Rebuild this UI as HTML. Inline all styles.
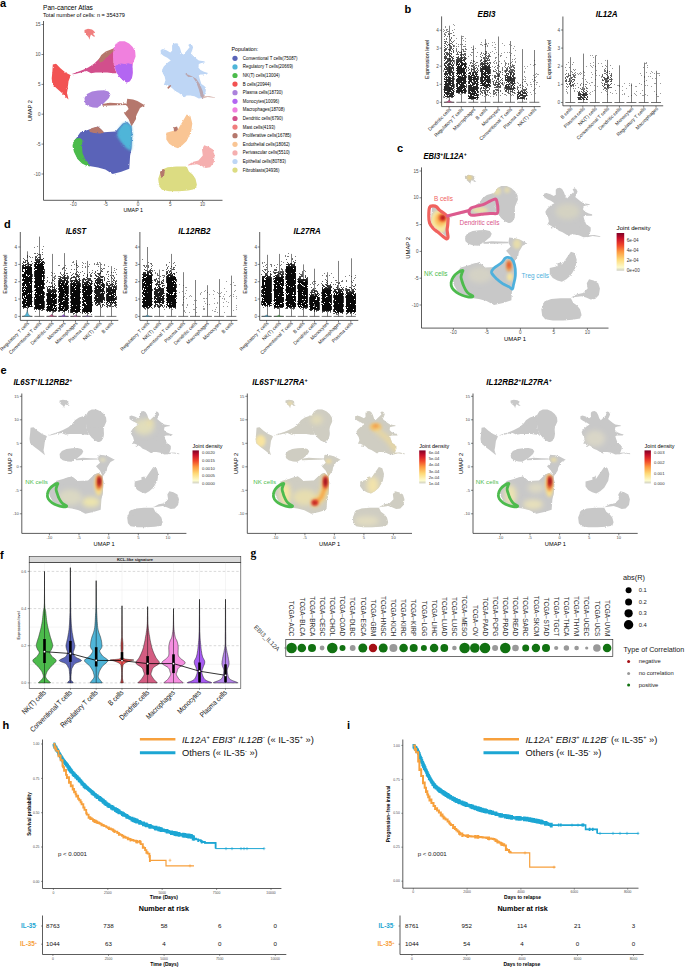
<!DOCTYPE html>
<html><head><meta charset="utf-8"><style>
html,body{margin:0;padding:0;background:#fff;}
svg{display:block;font-family:"Liberation Sans", sans-serif;}
</style></head><body>
<svg width="685" height="970" viewBox="0 0 685 970">
<rect width="685" height="970" fill="#fff"/>
<text x="0" y="6.7" font-size="11" font-weight="bold">a</text>
<text x="43" y="9.6" font-size="6.6" text-anchor="start" font-weight="normal" font-style="normal" fill="#000">Pan-cancer Atlas</text>
<text x="43" y="17.3" font-size="5.56" text-anchor="start" font-weight="normal" font-style="normal" fill="#000">Total number of cells: n = 354379</text>
<path d="M43.5 21V200.3H222.5" fill="none" stroke="#333" stroke-width="0.8"/>
<path d="M41.5 24.5 h2" stroke="#333" stroke-width="0.6"/>
<text x="40.5" y="26.1" font-size="4.6" text-anchor="end" font-weight="normal" font-style="normal" fill="#4d4d4d">15</text>
<path d="M41.5 54.5 h2" stroke="#333" stroke-width="0.6"/>
<text x="40.5" y="56.1" font-size="4.6" text-anchor="end" font-weight="normal" font-style="normal" fill="#4d4d4d">10</text>
<path d="M41.5 84.4 h2" stroke="#333" stroke-width="0.6"/>
<text x="40.5" y="86" font-size="4.6" text-anchor="end" font-weight="normal" font-style="normal" fill="#4d4d4d">5</text>
<path d="M41.5 114.2 h2" stroke="#333" stroke-width="0.6"/>
<text x="40.5" y="115.8" font-size="4.6" text-anchor="end" font-weight="normal" font-style="normal" fill="#4d4d4d">0</text>
<path d="M41.5 144.1 h2" stroke="#333" stroke-width="0.6"/>
<text x="40.5" y="145.7" font-size="4.6" text-anchor="end" font-weight="normal" font-style="normal" fill="#4d4d4d">-5</text>
<path d="M41.5 174 h2" stroke="#333" stroke-width="0.6"/>
<text x="40.5" y="175.6" font-size="4.6" text-anchor="end" font-weight="normal" font-style="normal" fill="#4d4d4d">-10</text>
<path d="M73.4 200.3 v2" stroke="#333" stroke-width="0.6"/>
<text x="73.4" y="206" font-size="4.6" text-anchor="middle" font-weight="normal" font-style="normal" fill="#4d4d4d">-10</text>
<path d="M105.7 200.3 v2" stroke="#333" stroke-width="0.6"/>
<text x="105.7" y="206" font-size="4.6" text-anchor="middle" font-weight="normal" font-style="normal" fill="#4d4d4d">-5</text>
<path d="M138 200.3 v2" stroke="#333" stroke-width="0.6"/>
<text x="138" y="206" font-size="4.6" text-anchor="middle" font-weight="normal" font-style="normal" fill="#4d4d4d">0</text>
<path d="M170.3 200.3 v2" stroke="#333" stroke-width="0.6"/>
<text x="170.3" y="206" font-size="4.6" text-anchor="middle" font-weight="normal" font-style="normal" fill="#4d4d4d">5</text>
<path d="M202.6 200.3 v2" stroke="#333" stroke-width="0.6"/>
<text x="202.6" y="206" font-size="4.6" text-anchor="middle" font-weight="normal" font-style="normal" fill="#4d4d4d">10</text>
<text x="133.2" y="211.5" font-size="5.3" text-anchor="middle" font-weight="normal" font-style="normal" fill="#000">UMAP 1</text>
<text x="32.5" y="110.6" font-size="5.6" text-anchor="middle" font-weight="normal" font-style="normal" fill="#000" transform="rotate(-90 32.5 110.6)">UMAP 2</text>
<defs><filter id="blurA" x="-50%" y="-50%" width="200%" height="200%"><feGaussianBlur stdDeviation="1.2"/></filter></defs>
<defs><filter id="rough" x="-5%" y="-5%" width="110%" height="110%"><feTurbulence type="fractalNoise" baseFrequency="0.9" numOctaves="2" seed="4" result="n"/><feDisplacementMap in="SourceGraphic" in2="n" scale="2.2" xChannelSelector="R" yChannelSelector="G"/></filter></defs>
<g filter="url(#rough)"><path d="M84.5 30 88 28.8 92 29.5 94.5 31.5 93 34 95.5 36.5 93.5 36.5 91 34.5 90 37 89.5 39.7 88.5 37 86 34.5 84.5 32.5Z" fill="#f07e7e"/><path d="M52.8 64.5 56.1 63.8 60.4 68.2 65.5 72.6 69.9 74.7 70.7 75.5 68.5 81.3 67.7 88.6 67 93 68.5 99.6 66.3 97.4 61.9 93 56.8 88.6 52.4 84.2 51.7 78.4 52.4 71.1Z" fill="#f25252"/><path d="M71.4 74.3 78 71.8 83.8 69.6 88.2 67.4 94 63.8 98.4 59.4 102.8 55 108.6 51.4 113.7 48.5 113.7 63.8 115.2 69.6 116.6 73.3 113 73.3 107.2 72.6 101.3 72.6 95.5 72.6 91.1 73.3 86.7 71.1 80.9 72.6 75 74Z" fill="#d2508c"/><path d="M98.4 60.1 101.3 55 105.7 51.4 111.5 49.2 114.2 48 113.7 51.4 109.3 55 105.7 58.2 102.8 61.6 99.9 62.6Z" fill="#b5776c"/><path d="M113.7 47.7 115.9 43.4 119.6 41.2 124.7 41.2 129.1 43.4 132.7 47 135.2 51.4 135.6 56.5 133.4 62.3 132.3 66.7 132.7 72.6 132 77.7 129.8 81.3 126.9 82.5 123.2 80.6 119.6 76.9 116.6 72.6 114.5 68.2 113.7 63.8 113 56.5Z" fill="#f080de"/><path d="M114.7 66.4 117.4 64.5 121 63.5 124.7 64.1 128.3 63.2 132.3 64.5 132.7 72.6 132 77.7 129.8 81.3 126.9 82.5 123.2 80.6 119.6 76.9 116.6 72.6Z" fill="#b366f2"/><path d="M84.5 98 87 94 92 91.5 98 90.5 104 90.2 108.5 91.5 110.4 94.5 109 98 106 101 103 104 99 106.5 97.5 107.8 93 107.5 88 106 85 103Z" fill="#ab82dc"/><path d="M102.3 104 110 102.8 118 103.2 126 103.5 126.4 105 118 105.3 110 105.6 102.5 105.8Z" fill="#b5776c"/><path d="M127.2 98.8 133 99.5 137.4 100.9 144.7 105.3 140 108 138.8 110.4 136.5 115 135.9 119.2 133 124 131.5 126.5 128.6 119.2 124.2 113.4 128.6 109 126.4 104.6Z" fill="#b5776c"/><path d="M80.4 132.3 89.2 129.4 98 126.5 103.8 132.3 115.5 131.6 122.8 123.6 127.2 122.1 131.5 126.5 132.3 133.8 131.5 148.4 130.1 155.7 129.3 168.8 121.3 171.8 112.6 173.9 105.3 169.6 98 167.4 89.2 165.9 83.4 163.7 77.5 158.6 73.1 146.9 74.6 140.4Z" fill="#5a64b8"/><path d="M73.5 141 76 138.5 80 138 82.5 140 82 146 82.5 153 85 159 89 164 90 166.5 86 165.5 82 163.5 77.5 159 74 152 72.5 146Z" fill="#4cbb4c"/><path d="M118 130 122.8 123.6 127.2 122.1 131.5 126.5 132.3 133.8 131.8 145 131 151 126 148 121 142 117 136Z" fill="#4fb5d8" filter="url(#blurA)"/><path d="M89 130 92 128 98 126.5 102 130 104 132.5 100 133.5 94 133 90 132Z" fill="#b5776c"/><path d="M160.7 49.9 162.9 49 166.4 50.3 170.3 52.5 172.1 50.8 172.1 45.5 173.4 43.8 176 43.3 178.2 44.6 180 48.1 181.3 52.5 183 55.1 185.2 52.5 187.8 49.5 189.6 47.3 188.3 45.1 190 43.8 191.8 44.6 193.1 47.3 192.2 50.3 190.9 53.4 193.5 56 196.2 58.6 198.8 60.4 204 61.3 205.4 62.2 201.4 63 198.8 63.9 198.4 67.4 200.5 70 204 71.8 208 73.1 206.7 74.4 200.5 74.4 198.8 75.3 199.7 78.8 201.4 84 204 85.8 205.8 87.6 205.8 91.1 204.5 95.4 202.3 98.1 198.8 98.5 194.4 96.3 190 95.4 186.5 95.4 184.8 97.2 182.2 95.4 178.6 92.8 175.1 91.1 172.5 88.4 170.3 86.7 166.4 84.9 163.8 84.9 165.5 80.5 164.6 76.2 162.9 73.5 162 70 163.8 66.5 166.4 63.9 168.1 62.2 170.8 60.4 167.3 57.8 163.8 56 160.7 53.4Z" fill="#bed6f5"/><path d="M184.8 73.5 186.5 74 191.8 76.2 196.2 78.8 199.7 84 202.7 91.1 204 96.3 209.3 95.9 215 97.4 215 98.1 207.6 97 202.7 98.5 200.5 96.3 197.9 91.1 194.4 84 191.8 80.5 190 77.9 187.4 76.2Z" fill="#b5776c" fill-opacity="0.5"/><path d="M188.3 77 192.7 77 196.2 82.3 198.8 89.3 200.5 95.4 198.8 96.3 196.2 91.1 193.5 84 190 80.5Z" fill="#bed6f5"/><path d="M167.3 87.6 169.5 85.4 171.2 84.9 170.3 87.1 168.1 88.9Z" fill="#b5776c"/><path d="M166.3 132.8 173.6 130.7 178 129.2 182.3 121.9 186.7 114.6 190.4 116.1 192.3 123.4 191.1 132.1 186.7 140.9 182.3 145.3 178 148.2 173.6 146.7 169.2 143.8 166.3 139.4Z" fill="#f9c594"/><path d="M204.2 145.3 208.6 146.7 213 149.6 214.7 155.5 213.7 162.8 210.1 167.2 205.7 167.9 201.3 165.7 196.9 164.2 191.1 165 186.7 165.7 192.6 162 198.4 160.6 202.8 155.5 202 149.6Z" fill="#f5afaf"/><path d="M161.2 170.1 167.7 167.2 176.5 166.4 186.7 166.4 188.9 171.5 192.6 174.5 195.5 178.8 196.9 184.7 195.5 189.1 188.2 190.5 179.4 191.2 169.2 191.2 161.9 189.8 159 186.1 158.2 178.8Z" fill="#dcdc82"/><path d="M160 172 163 169 165 170 164 176 161 178Z" fill="#b5776c"/><path d="M173.6 127.5 177 126.5 178 129.2 176 131.5 174 131Z" fill="#b5776c"/></g>
<text x="231.4" y="51" font-size="5.4" text-anchor="start" font-weight="normal" font-style="normal" fill="#000">Population:</text>
<circle cx="235" cy="58.3" r="2.6" fill="#5a64b8"/>
<text x="242.8" y="59.8" font-size="4.42" text-anchor="start" font-weight="normal" font-style="normal" fill="#000">Conventional T cells(75087)</text>
<circle cx="235" cy="66.9" r="2.6" fill="#4fb5d8"/>
<text x="242.8" y="68.4" font-size="4.42" text-anchor="start" font-weight="normal" font-style="normal" fill="#000">Regulatory T cells(20669)</text>
<circle cx="235" cy="75.5" r="2.6" fill="#4cbb4c"/>
<text x="242.8" y="77" font-size="4.42" text-anchor="start" font-weight="normal" font-style="normal" fill="#000">NK(T) cells(13004)</text>
<circle cx="235" cy="84.1" r="2.6" fill="#f25252"/>
<text x="242.8" y="85.6" font-size="4.42" text-anchor="start" font-weight="normal" font-style="normal" fill="#000">B cells(20944)</text>
<circle cx="235" cy="92.7" r="2.6" fill="#ab82dc"/>
<text x="242.8" y="94.2" font-size="4.42" text-anchor="start" font-weight="normal" font-style="normal" fill="#000">Plasma cells(18730)</text>
<circle cx="235" cy="101.3" r="2.6" fill="#b366f2"/>
<text x="242.8" y="102.8" font-size="4.42" text-anchor="start" font-weight="normal" font-style="normal" fill="#000">Monocytes(10096)</text>
<circle cx="235" cy="109.9" r="2.6" fill="#f080de"/>
<text x="242.8" y="111.4" font-size="4.42" text-anchor="start" font-weight="normal" font-style="normal" fill="#000">Macrophages(18708)</text>
<circle cx="235" cy="118.5" r="2.6" fill="#d2508c"/>
<text x="242.8" y="120" font-size="4.42" text-anchor="start" font-weight="normal" font-style="normal" fill="#000">Dendritic cells(6790)</text>
<circle cx="235" cy="127.1" r="2.6" fill="#f07e7e"/>
<text x="242.8" y="128.6" font-size="4.42" text-anchor="start" font-weight="normal" font-style="normal" fill="#000">Mast cells(4193)</text>
<circle cx="235" cy="135.7" r="2.6" fill="#b5776c"/>
<text x="242.8" y="137.2" font-size="4.42" text-anchor="start" font-weight="normal" font-style="normal" fill="#000">Proliferative cells(16785)</text>
<circle cx="235" cy="144.3" r="2.6" fill="#f9c594"/>
<text x="242.8" y="145.8" font-size="4.42" text-anchor="start" font-weight="normal" font-style="normal" fill="#000">Endothelial cells(18062)</text>
<circle cx="235" cy="152.9" r="2.6" fill="#f5afaf"/>
<text x="242.8" y="154.4" font-size="4.42" text-anchor="start" font-weight="normal" font-style="normal" fill="#000">Perivascular cells(5510)</text>
<circle cx="235" cy="161.5" r="2.6" fill="#bed6f5"/>
<text x="242.8" y="163" font-size="4.42" text-anchor="start" font-weight="normal" font-style="normal" fill="#000">Epithelial cells(80783)</text>
<circle cx="235" cy="170.1" r="2.6" fill="#dcdc82"/>
<text x="242.8" y="171.6" font-size="4.42" text-anchor="start" font-weight="normal" font-style="normal" fill="#000">Fibroblasts(34936)</text>
<text x="404.5" y="13" font-size="11" font-weight="bold">b</text>
<path d="M441.6 16.4V106.6H540.6" fill="none" stroke="#333" stroke-width="0.8"/>
<path d="M439.6 102.3h2" stroke="#333" stroke-width="0.6"/>
<text x="438.8" y="103.9" font-size="4.6" text-anchor="end" font-weight="normal" font-style="normal" fill="#4d4d4d">0</text>
<path d="M439.6 84.3h2" stroke="#333" stroke-width="0.6"/>
<text x="438.8" y="85.9" font-size="4.6" text-anchor="end" font-weight="normal" font-style="normal" fill="#4d4d4d">1</text>
<path d="M439.6 66.2h2" stroke="#333" stroke-width="0.6"/>
<text x="438.8" y="67.8" font-size="4.6" text-anchor="end" font-weight="normal" font-style="normal" fill="#4d4d4d">2</text>
<path d="M439.6 48.2h2" stroke="#333" stroke-width="0.6"/>
<text x="438.8" y="49.8" font-size="4.6" text-anchor="end" font-weight="normal" font-style="normal" fill="#4d4d4d">3</text>
<path d="M439.6 30.2h2" stroke="#333" stroke-width="0.6"/>
<text x="438.8" y="31.8" font-size="4.6" text-anchor="end" font-weight="normal" font-style="normal" fill="#4d4d4d">4</text>
<text x="429.5" y="59.3" font-size="5.4" text-anchor="middle" font-weight="normal" font-style="normal" fill="#000" transform="rotate(-90 429.5 59.3)">Expression level</text>
<text x="486.5" y="16.5" font-size="9.2" text-anchor="middle" font-weight="bold" font-style="italic" fill="#000" textLength="17.8" lengthAdjust="spacingAndGlyphs">EBI3</text>
<path d="M449.5 102.3V25.7" stroke="#555" stroke-width="0.75"/>
<path d="M444.1 102.3H454.1" stroke="#333" stroke-width="0.7"/>
<path d="M443.8 102.3 C447.2 102.3 448.3 101.3 449.1 99.5 C449.9 101.3 451 102.3 454.4 102.3 Z" fill="#d2508c" stroke="#333" stroke-width="0.3"/>
<defs><filter id="dith" x="0" y="0" width="1" height="1" color-interpolation-filters="sRGB"><feTurbulence type="fractalNoise" baseFrequency="3.1" numOctaves="1" seed="5" result="n"/><feColorMatrix in="n" type="matrix" values="0 0 0 0 0  0 0 0 0 0  0 0 0 0 0  3 0 0 0 -1" result="na"/><feComposite in="SourceAlpha" in2="na" operator="arithmetic" k1="0" k2="1" k3="-1" k4="0.5" result="d"/><feComponentTransfer in="d" result="t"><feFuncA type="discrete" tableValues="0 1"/></feComponentTransfer><feComposite in="t" in2="SourceAlpha" operator="arithmetic" k1="0.6" k2="0.4" k3="0" k4="0" result="t2"/><feFlood flood-color="#111"/><feComposite in2="t2" operator="in"/></filter><filter id="dithD" x="0" y="0" width="1" height="1" color-interpolation-filters="sRGB"><feTurbulence type="fractalNoise" baseFrequency="3.1" numOctaves="1" seed="9" result="n"/><feColorMatrix in="n" type="matrix" values="0 0 0 0 0  0 0 0 0 0  0 0 0 0 0  3 0 0 0 -1" result="na"/><feComposite in="SourceAlpha" in2="na" operator="arithmetic" k1="0" k2="1" k3="-1" k4="0.5" result="d"/><feComponentTransfer in="d" result="t"><feFuncA type="discrete" tableValues="0 1"/></feComponentTransfer><feComposite in="t" in2="SourceAlpha" operator="arithmetic" k1="0.5" k2="0.5" k3="0" k4="0" result="t2"/><feFlood flood-color="#050505"/><feComposite in2="t2" operator="in"/></filter></defs>
<defs><linearGradient id="cg1" x1="0" y1="1" x2="0" y2="0"><stop offset="0.000" stop-opacity="0.00"/><stop offset="0.020" stop-opacity="0.85"/><stop offset="0.191" stop-opacity="0.85"/><stop offset="0.461" stop-opacity="0.70"/><stop offset="0.730" stop-opacity="0.45"/><stop offset="0.902" stop-opacity="0.22"/><stop offset="1.000" stop-opacity="0.03"/></linearGradient></defs><rect x="443.9" y="24.8" width="10.4" height="73.5" fill="url(#cg1)" filter="url(#dith)"/>
<path d="M449.1 106.6v1.8" stroke="#333" stroke-width="0.6"/>
<text x="451.5" y="109.8" font-size="4.9" text-anchor="end" font-weight="normal" font-style="normal" fill="#222" transform="rotate(-45 451.5 109.8)">Dendritic cells</text>
<path d="M461.5 102.3V35.6" stroke="#555" stroke-width="0.75"/>
<path d="M456.3 102.3H466.3" stroke="#333" stroke-width="0.7"/>
<defs><linearGradient id="cg2" x1="0" y1="1" x2="0" y2="0"><stop offset="0.000" stop-opacity="0.00"/><stop offset="0.031" stop-opacity="0.90"/><stop offset="0.508" stop-opacity="0.90"/><stop offset="0.662" stop-opacity="0.50"/><stop offset="0.846" stop-opacity="0.15"/><stop offset="1.000" stop-opacity="0.02"/></linearGradient></defs><rect x="456.1" y="35.6" width="10.4" height="58.6" fill="url(#cg2)" filter="url(#dith)"/>
<path d="M461.3 106.6v1.8" stroke="#333" stroke-width="0.6"/>
<text x="463.7" y="109.8" font-size="4.9" text-anchor="end" font-weight="normal" font-style="normal" fill="#222" transform="rotate(-45 463.7 109.8)">Regulatory T cells</text>
<path d="M473.5 102.3V45.5" stroke="#555" stroke-width="0.75"/>
<path d="M468.4 102.3H478.4" stroke="#333" stroke-width="0.7"/>
<defs><linearGradient id="cg3" x1="0" y1="1" x2="0" y2="0"><stop offset="0.000" stop-opacity="0.00"/><stop offset="0.027" stop-opacity="0.90"/><stop offset="0.463" stop-opacity="0.85"/><stop offset="0.631" stop-opacity="0.40"/><stop offset="0.899" stop-opacity="0.10"/><stop offset="1.000" stop-opacity="0.02"/></linearGradient></defs><rect x="468.2" y="46.4" width="10.4" height="53.7" fill="url(#cg3)" filter="url(#dith)"/>
<path d="M473.4 106.6v1.8" stroke="#333" stroke-width="0.6"/>
<text x="475.8" y="109.8" font-size="4.9" text-anchor="end" font-weight="normal" font-style="normal" fill="#222" transform="rotate(-45 475.8 109.8)">Macrophages</text>
<path d="M485.5 102.3V39.2" stroke="#555" stroke-width="0.75"/>
<path d="M480.4 102.3H490.4" stroke="#333" stroke-width="0.7"/>
<defs><linearGradient id="cg4" x1="0" y1="1" x2="0" y2="0"><stop offset="0.000" stop-opacity="0.00"/><stop offset="0.031" stop-opacity="0.35"/><stop offset="0.141" stop-opacity="0.60"/><stop offset="0.188" stop-opacity="0.88"/><stop offset="0.500" stop-opacity="0.85"/><stop offset="0.656" stop-opacity="0.50"/><stop offset="0.844" stop-opacity="0.15"/><stop offset="1.000" stop-opacity="0.02"/></linearGradient></defs><rect x="480.2" y="39.2" width="10.4" height="57.7" fill="url(#cg4)" filter="url(#dith)"/>
<path d="M485.4 106.6v1.8" stroke="#333" stroke-width="0.6"/>
<text x="487.8" y="109.8" font-size="4.9" text-anchor="end" font-weight="normal" font-style="normal" fill="#222" transform="rotate(-45 487.8 109.8)">B cells</text>
<path d="M498.5 102.3V36.5" stroke="#555" stroke-width="0.75"/>
<path d="M492.9 102.3H502.9" stroke="#333" stroke-width="0.7"/>
<defs><linearGradient id="cg5" x1="0" y1="1" x2="0" y2="0"><stop offset="0.000" stop-opacity="0.00"/><stop offset="0.050" stop-opacity="0.35"/><stop offset="0.200" stop-opacity="0.55"/><stop offset="0.433" stop-opacity="0.45"/><stop offset="0.567" stop-opacity="0.20"/><stop offset="0.833" stop-opacity="0.06"/><stop offset="1.000" stop-opacity="0.01"/></linearGradient></defs><rect x="492.7" y="42.8" width="10.4" height="54.1" fill="url(#cg5)" filter="url(#dith)"/>
<path d="M497.9 106.6v1.8" stroke="#333" stroke-width="0.6"/>
<text x="500.3" y="109.8" font-size="4.9" text-anchor="end" font-weight="normal" font-style="normal" fill="#222" transform="rotate(-45 500.3 109.8)">Monocytes</text>
<path d="M510.5 102.3V41" stroke="#555" stroke-width="0.75"/>
<path d="M505 102.3H515" stroke="#333" stroke-width="0.7"/>
<defs><linearGradient id="cg6" x1="0" y1="1" x2="0" y2="0"><stop offset="0.000" stop-opacity="0.00"/><stop offset="0.053" stop-opacity="0.40"/><stop offset="0.158" stop-opacity="0.75"/><stop offset="0.368" stop-opacity="0.75"/><stop offset="0.544" stop-opacity="0.40"/><stop offset="0.719" stop-opacity="0.10"/><stop offset="1.000" stop-opacity="0.03"/></linearGradient></defs><rect x="504.8" y="44.6" width="10.4" height="51.4" fill="url(#cg6)" filter="url(#dith)"/>
<path d="M510 106.6v1.8" stroke="#333" stroke-width="0.6"/>
<text x="512.4" y="109.8" font-size="4.9" text-anchor="end" font-weight="normal" font-style="normal" fill="#222" transform="rotate(-45 512.4 109.8)">Conventional T cells</text>
<path d="M522.5 102.3V49.1" stroke="#555" stroke-width="0.75"/>
<path d="M517.2 102.3H527.2" stroke="#333" stroke-width="0.7"/>
<defs><linearGradient id="cg7" x1="0" y1="1" x2="0" y2="0"><stop offset="0.000" stop-opacity="0.00"/><stop offset="0.043" stop-opacity="0.70"/><stop offset="0.202" stop-opacity="0.75"/><stop offset="0.362" stop-opacity="0.30"/><stop offset="0.681" stop-opacity="0.08"/><stop offset="1.000" stop-opacity="0.02"/></linearGradient></defs><rect x="517" y="66.2" width="10.4" height="33.9" fill="url(#cg7)" filter="url(#dith)"/>
<path d="M522.2 106.6v1.8" stroke="#333" stroke-width="0.6"/>
<text x="524.6" y="109.8" font-size="4.9" text-anchor="end" font-weight="normal" font-style="normal" fill="#222" transform="rotate(-45 524.6 109.8)">Plasma cells</text>
<path d="M534.5 102.3V50" stroke="#555" stroke-width="0.75"/>
<path d="M529.3 102.3H539.3" stroke="#333" stroke-width="0.7"/>
<defs><linearGradient id="cg8" x1="0" y1="1" x2="0" y2="0"><stop offset="0.000" stop-opacity="0.00"/><stop offset="0.095" stop-opacity="0.01"/><stop offset="0.952" stop-opacity="0.01"/><stop offset="1.000" stop-opacity="0.00"/></linearGradient></defs><rect x="529.1" y="59" width="10.4" height="37.9" fill="url(#cg8)" filter="url(#dith)"/>
<path d="M534.3 106.6v1.8" stroke="#333" stroke-width="0.6"/>
<text x="536.7" y="109.8" font-size="4.9" text-anchor="end" font-weight="normal" font-style="normal" fill="#222" transform="rotate(-45 536.7 109.8)">NK(T) cells</text>
<path d="M562.9 16.5V105.8H663.2" fill="none" stroke="#333" stroke-width="0.8"/>
<path d="M560.9 102.5h2" stroke="#333" stroke-width="0.6"/>
<text x="560" y="104.1" font-size="4.6" text-anchor="end" font-weight="normal" font-style="normal" fill="#4d4d4d">0</text>
<path d="M560.9 84.4h2" stroke="#333" stroke-width="0.6"/>
<text x="560" y="86" font-size="4.6" text-anchor="end" font-weight="normal" font-style="normal" fill="#4d4d4d">1</text>
<path d="M560.9 66.2h2" stroke="#333" stroke-width="0.6"/>
<text x="560" y="67.8" font-size="4.6" text-anchor="end" font-weight="normal" font-style="normal" fill="#4d4d4d">2</text>
<path d="M560.9 48.1h2" stroke="#333" stroke-width="0.6"/>
<text x="560" y="49.7" font-size="4.6" text-anchor="end" font-weight="normal" font-style="normal" fill="#4d4d4d">3</text>
<path d="M560.9 30h2" stroke="#333" stroke-width="0.6"/>
<text x="560" y="31.6" font-size="4.6" text-anchor="end" font-weight="normal" font-style="normal" fill="#4d4d4d">4</text>
<text x="551" y="59.5" font-size="5.4" text-anchor="middle" font-weight="normal" font-style="normal" fill="#000" transform="rotate(-90 551 59.5)">Expression level</text>
<text x="606.7" y="16.5" font-size="9.2" text-anchor="middle" font-weight="bold" font-style="italic" fill="#000" textLength="22" lengthAdjust="spacingAndGlyphs">IL12A</text>
<path d="M570.5 102.5V57.2" stroke="#555" stroke-width="0.75"/>
<path d="M565.3 102.5H575.3" stroke="#333" stroke-width="0.7"/>
<defs><linearGradient id="cg9" x1="0" y1="1" x2="0" y2="0"><stop offset="0.000" stop-opacity="0.00"/><stop offset="0.105" stop-opacity="0.15"/><stop offset="0.263" stop-opacity="0.50"/><stop offset="0.421" stop-opacity="0.50"/><stop offset="0.632" stop-opacity="0.20"/><stop offset="1.000" stop-opacity="0.03"/></linearGradient></defs><rect x="565.1" y="59" width="10.4" height="34.4" fill="url(#cg9)" filter="url(#dith)"/>
<path d="M570.3 105.8v1.8" stroke="#333" stroke-width="0.6"/>
<text x="572.7" y="109" font-size="4.9" text-anchor="end" font-weight="normal" font-style="normal" fill="#222" transform="rotate(-45 572.7 109)">B cells</text>
<path d="M583.5 102.5V53.6" stroke="#555" stroke-width="0.75"/>
<path d="M577.8 102.5H587.8" stroke="#333" stroke-width="0.7"/>
<defs><linearGradient id="cg10" x1="0" y1="1" x2="0" y2="0"><stop offset="0.000" stop-opacity="0.00"/><stop offset="0.036" stop-opacity="0.70"/><stop offset="0.193" stop-opacity="0.70"/><stop offset="0.375" stop-opacity="0.25"/><stop offset="0.583" stop-opacity="0.08"/><stop offset="1.000" stop-opacity="0.03"/></linearGradient></defs><rect x="577.6" y="66.2" width="10.4" height="34.8" fill="url(#cg10)" filter="url(#dith)"/>
<path d="M582.8 105.8v1.8" stroke="#333" stroke-width="0.6"/>
<text x="585.2" y="109" font-size="4.9" text-anchor="end" font-weight="normal" font-style="normal" fill="#222" transform="rotate(-45 585.2 109)">Plasma cells</text>
<path d="M595.5 102.5V55.4" stroke="#555" stroke-width="0.75"/>
<path d="M589.8 102.5H599.8" stroke="#333" stroke-width="0.7"/>
<defs><linearGradient id="cg11" x1="0" y1="1" x2="0" y2="0"><stop offset="0.000" stop-opacity="0.00"/><stop offset="0.045" stop-opacity="0.01"/><stop offset="0.955" stop-opacity="0.01"/><stop offset="1.000" stop-opacity="0.00"/></linearGradient></defs><rect x="589.6" y="55.4" width="10.4" height="39.9" fill="url(#cg11)" filter="url(#dith)"/>
<path d="M594.8 105.8v1.8" stroke="#333" stroke-width="0.6"/>
<text x="597.2" y="109" font-size="4.9" text-anchor="end" font-weight="normal" font-style="normal" fill="#222" transform="rotate(-45 597.2 109)">NK(T) cells</text>
<path d="M607.5 102.5V59.9" stroke="#555" stroke-width="0.75"/>
<path d="M602.1 102.5H612.1" stroke="#333" stroke-width="0.7"/>
<defs><linearGradient id="cg12" x1="0" y1="1" x2="0" y2="0"><stop offset="0.000" stop-opacity="0.00"/><stop offset="0.105" stop-opacity="0.15"/><stop offset="0.263" stop-opacity="0.50"/><stop offset="0.526" stop-opacity="0.50"/><stop offset="0.789" stop-opacity="0.15"/><stop offset="1.000" stop-opacity="0.03"/></linearGradient></defs><rect x="601.9" y="60.8" width="10.4" height="34.4" fill="url(#cg12)" filter="url(#dith)"/>
<path d="M607.1 105.8v1.8" stroke="#333" stroke-width="0.6"/>
<text x="609.5" y="109" font-size="4.9" text-anchor="end" font-weight="normal" font-style="normal" fill="#222" transform="rotate(-45 609.5 109)">Conventional T cells</text>
<path d="M619.5 102.5V65.3" stroke="#555" stroke-width="0.75"/>
<path d="M614.4 102.5H624.4" stroke="#333" stroke-width="0.7"/>
<defs><linearGradient id="cg13" x1="0" y1="1" x2="0" y2="0"><stop offset="0.000" stop-opacity="0.00"/><stop offset="0.125" stop-opacity="0.01"/><stop offset="0.875" stop-opacity="0.01"/><stop offset="1.000" stop-opacity="0.00"/></linearGradient></defs><rect x="614.2" y="82.6" width="10.4" height="14.5" fill="url(#cg13)" filter="url(#dith)"/>
<path d="M619.4 105.8v1.8" stroke="#333" stroke-width="0.6"/>
<text x="621.8" y="109" font-size="4.9" text-anchor="end" font-weight="normal" font-style="normal" fill="#222" transform="rotate(-45 621.8 109)">Dendritic cells</text>
<path d="M631.5 102.5V83.5" stroke="#555" stroke-width="0.75"/>
<path d="M626.4 102.5H636.4" stroke="#333" stroke-width="0.7"/>
<defs><linearGradient id="cg14" x1="0" y1="1" x2="0" y2="0"><stop offset="0.000" stop-opacity="0.00"/><stop offset="0.125" stop-opacity="0.01"/><stop offset="0.875" stop-opacity="0.01"/><stop offset="1.000" stop-opacity="0.00"/></linearGradient></defs><rect x="626.2" y="82.6" width="10.4" height="14.5" fill="url(#cg14)" filter="url(#dith)"/>
<path d="M631.4 105.8v1.8" stroke="#333" stroke-width="0.6"/>
<text x="633.8" y="109" font-size="4.9" text-anchor="end" font-weight="normal" font-style="normal" fill="#222" transform="rotate(-45 633.8 109)">Monocytes</text>
<path d="M644.5 102.5V62.6" stroke="#555" stroke-width="0.75"/>
<path d="M638.7 102.5H648.7" stroke="#333" stroke-width="0.7"/>
<defs><linearGradient id="cg15" x1="0" y1="1" x2="0" y2="0"><stop offset="0.000" stop-opacity="0.00"/><stop offset="0.050" stop-opacity="0.01"/><stop offset="0.950" stop-opacity="0.01"/><stop offset="1.000" stop-opacity="0.00"/></linearGradient></defs><rect x="638.5" y="60.8" width="10.4" height="36.2" fill="url(#cg15)" filter="url(#dith)"/>
<path d="M643.7 105.8v1.8" stroke="#333" stroke-width="0.6"/>
<text x="646.1" y="109" font-size="4.9" text-anchor="end" font-weight="normal" font-style="normal" fill="#222" transform="rotate(-45 646.1 109)">Regulatory T cells</text>
<path d="M656.5 102.5V70.8" stroke="#555" stroke-width="0.75"/>
<path d="M651 102.5H661" stroke="#333" stroke-width="0.7"/>
<defs><linearGradient id="cg16" x1="0" y1="1" x2="0" y2="0"><stop offset="0.000" stop-opacity="0.00"/><stop offset="0.067" stop-opacity="0.01"/><stop offset="0.933" stop-opacity="0.01"/><stop offset="1.000" stop-opacity="0.00"/></linearGradient></defs><rect x="650.8" y="71.7" width="10.4" height="27.2" fill="url(#cg16)" filter="url(#dith)"/>
<path d="M656 105.8v1.8" stroke="#333" stroke-width="0.6"/>
<text x="658.4" y="109" font-size="4.9" text-anchor="end" font-weight="normal" font-style="normal" fill="#222" transform="rotate(-45 658.4 109)">Macrophages</text>
<defs><filter id="blur1" x="-50%" y="-50%" width="200%" height="200%"><feGaussianBlur stdDeviation="1.6"/></filter><filter id="blur2" x="-50%" y="-50%" width="200%" height="200%"><feGaussianBlur stdDeviation="2.5"/></filter><linearGradient id="jd" x1="0" y1="1" x2="0" y2="0"><stop offset="0" stop-color="#cfcfc2"/><stop offset="0.09" stop-color="#fdfbcc"/><stop offset="0.3" stop-color="#fed976"/><stop offset="0.5" stop-color="#fd9a40"/><stop offset="0.68" stop-color="#f0462a"/><stop offset="0.86" stop-color="#c8102a"/><stop offset="1" stop-color="#800026"/></linearGradient></defs>
<text x="397" y="152" font-size="11" font-weight="bold">c</text>
<text x="423.5" y="159" font-size="9.2" text-anchor="start" font-weight="bold" font-style="italic" fill="#000" textLength="43.1" lengthAdjust="spacingAndGlyphs">EBI3<tspan font-size="6" dy="-3">+</tspan><tspan dy="3">IL12A</tspan><tspan font-size="6" dy="-3">+</tspan></text>
<path d="M421.5 167.4V328.1H608.5" fill="none" stroke="#333" stroke-width="0.8"/>
<path d="M419.5 171h2" stroke="#333" stroke-width="0.6"/>
<text x="418.5" y="172.6" font-size="4.6" text-anchor="end" font-weight="normal" font-style="normal" fill="#4d4d4d">15</text>
<path d="M419.5 197.8h2" stroke="#333" stroke-width="0.6"/>
<text x="418.5" y="199.4" font-size="4.6" text-anchor="end" font-weight="normal" font-style="normal" fill="#4d4d4d">10</text>
<path d="M419.5 224.6h2" stroke="#333" stroke-width="0.6"/>
<text x="418.5" y="226.2" font-size="4.6" text-anchor="end" font-weight="normal" font-style="normal" fill="#4d4d4d">5</text>
<path d="M419.5 251.4h2" stroke="#333" stroke-width="0.6"/>
<text x="418.5" y="253" font-size="4.6" text-anchor="end" font-weight="normal" font-style="normal" fill="#4d4d4d">0</text>
<path d="M419.5 278.2h2" stroke="#333" stroke-width="0.6"/>
<text x="418.5" y="279.8" font-size="4.6" text-anchor="end" font-weight="normal" font-style="normal" fill="#4d4d4d">-5</text>
<path d="M419.5 305h2" stroke="#333" stroke-width="0.6"/>
<text x="418.5" y="306.6" font-size="4.6" text-anchor="end" font-weight="normal" font-style="normal" fill="#4d4d4d">-10</text>
<path d="M453.4 328.1v2" stroke="#333" stroke-width="0.6"/>
<text x="453.4" y="334.1" font-size="4.6" text-anchor="middle" font-weight="normal" font-style="normal" fill="#4d4d4d">-10</text>
<path d="M486.9 328.1v2" stroke="#333" stroke-width="0.6"/>
<text x="486.9" y="334.1" font-size="4.6" text-anchor="middle" font-weight="normal" font-style="normal" fill="#4d4d4d">-5</text>
<path d="M520.4 328.1v2" stroke="#333" stroke-width="0.6"/>
<text x="520.4" y="334.1" font-size="4.6" text-anchor="middle" font-weight="normal" font-style="normal" fill="#4d4d4d">0</text>
<path d="M553.9 328.1v2" stroke="#333" stroke-width="0.6"/>
<text x="553.9" y="334.1" font-size="4.6" text-anchor="middle" font-weight="normal" font-style="normal" fill="#4d4d4d">5</text>
<path d="M587.4 328.1v2" stroke="#333" stroke-width="0.6"/>
<text x="587.4" y="334.1" font-size="4.6" text-anchor="middle" font-weight="normal" font-style="normal" fill="#4d4d4d">10</text>
<text x="515" y="340.5" font-size="5.9" text-anchor="middle" font-weight="normal" font-style="normal" fill="#000">UMAP 1</text>
<text x="410.2" y="247.8" font-size="5.9" text-anchor="middle" font-weight="normal" font-style="normal" fill="#000" transform="rotate(-90 410.2 247.8)">UMAP 2</text>
<g filter="url(#rough)"><g transform="matrix(1.03715 0 0 0.89632 377.273 149.040)"><path d="M84.5 30 88 28.8 92 29.5 94.5 31.5 93 34 95.5 36.5 93.5 36.5 91 34.5 90 37 89.5 39.7 88.5 37 86 34.5 84.5 32.5Z" fill="#c8c8c8"/><path d="M52.8 64.5 56.1 63.8 60.4 68.2 65.5 72.6 69.9 74.7 70.7 75.5 68.5 81.3 67.7 88.6 67 93 68.5 99.6 66.3 97.4 61.9 93 56.8 88.6 52.4 84.2 51.7 78.4 52.4 71.1Z" fill="#c8c8c8"/><path d="M71.4 74.3 78 71.8 83.8 69.6 88.2 67.4 94 63.8 98.4 59.4 102.8 55 108.6 51.4 113.7 48.5 113.7 63.8 115.2 69.6 116.6 73.3 113 73.3 107.2 72.6 101.3 72.6 95.5 72.6 91.1 73.3 86.7 71.1 80.9 72.6 75 74Z" fill="#c8c8c8"/><path d="M98.4 60.1 101.3 55 105.7 51.4 111.5 49.2 114.2 48 113.7 51.4 109.3 55 105.7 58.2 102.8 61.6 99.9 62.6Z" fill="#c8c8c8"/><path d="M113.7 47.7 115.9 43.4 119.6 41.2 124.7 41.2 129.1 43.4 132.7 47 135.2 51.4 135.6 56.5 133.4 62.3 132.3 66.7 132.7 72.6 132 77.7 129.8 81.3 126.9 82.5 123.2 80.6 119.6 76.9 116.6 72.6 114.5 68.2 113.7 63.8 113 56.5Z" fill="#c8c8c8"/><path d="M114.7 66.4 117.4 64.5 121 63.5 124.7 64.1 128.3 63.2 132.3 64.5 132.7 72.6 132 77.7 129.8 81.3 126.9 82.5 123.2 80.6 119.6 76.9 116.6 72.6Z" fill="#c8c8c8"/><path d="M84.5 98 87 94 92 91.5 98 90.5 104 90.2 108.5 91.5 110.4 94.5 109 98 106 101 103 104 99 106.5 97.5 107.8 93 107.5 88 106 85 103Z" fill="#c8c8c8"/><path d="M102.3 104 110 102.8 118 103.2 126 103.5 126.4 105 118 105.3 110 105.6 102.5 105.8Z" fill="#c8c8c8"/><path d="M127.2 98.8 133 99.5 137.4 100.9 144.7 105.3 140 108 138.8 110.4 136.5 115 135.9 119.2 133 124 131.5 126.5 128.6 119.2 124.2 113.4 128.6 109 126.4 104.6Z" fill="#c8c8c8"/><path d="M80.4 132.3 89.2 129.4 98 126.5 103.8 132.3 115.5 131.6 122.8 123.6 127.2 122.1 131.5 126.5 132.3 133.8 131.5 148.4 130.1 155.7 129.3 168.8 121.3 171.8 112.6 173.9 105.3 169.6 98 167.4 89.2 165.9 83.4 163.7 77.5 158.6 73.1 146.9 74.6 140.4Z" fill="#c8c8c8"/><path d="M73.5 141 76 138.5 80 138 82.5 140 82 146 82.5 153 85 159 89 164 90 166.5 86 165.5 82 163.5 77.5 159 74 152 72.5 146Z" fill="#c8c8c8"/><path d="M118 130 122.8 123.6 127.2 122.1 131.5 126.5 132.3 133.8 131.8 145 131 151 126 148 121 142 117 136Z" fill="#c8c8c8"/><path d="M89 130 92 128 98 126.5 102 130 104 132.5 100 133.5 94 133 90 132Z" fill="#c8c8c8"/><path d="M160.7 49.9 162.9 49 166.4 50.3 170.3 52.5 172.1 50.8 172.1 45.5 173.4 43.8 176 43.3 178.2 44.6 180 48.1 181.3 52.5 183 55.1 185.2 52.5 187.8 49.5 189.6 47.3 188.3 45.1 190 43.8 191.8 44.6 193.1 47.3 192.2 50.3 190.9 53.4 193.5 56 196.2 58.6 198.8 60.4 204 61.3 205.4 62.2 201.4 63 198.8 63.9 198.4 67.4 200.5 70 204 71.8 208 73.1 206.7 74.4 200.5 74.4 198.8 75.3 199.7 78.8 201.4 84 204 85.8 205.8 87.6 205.8 91.1 204.5 95.4 202.3 98.1 198.8 98.5 194.4 96.3 190 95.4 186.5 95.4 184.8 97.2 182.2 95.4 178.6 92.8 175.1 91.1 172.5 88.4 170.3 86.7 166.4 84.9 163.8 84.9 165.5 80.5 164.6 76.2 162.9 73.5 162 70 163.8 66.5 166.4 63.9 168.1 62.2 170.8 60.4 167.3 57.8 163.8 56 160.7 53.4Z" fill="#c8c8c8"/><path d="M184.8 73.5 186.5 74 191.8 76.2 196.2 78.8 199.7 84 202.7 91.1 204 96.3 209.3 95.9 215 97.4 215 98.1 207.6 97 202.7 98.5 200.5 96.3 197.9 91.1 194.4 84 191.8 80.5 190 77.9 187.4 76.2Z" fill="#c8c8c8"/><path d="M188.3 77 192.7 77 196.2 82.3 198.8 89.3 200.5 95.4 198.8 96.3 196.2 91.1 193.5 84 190 80.5Z" fill="#c8c8c8"/><path d="M167.3 87.6 169.5 85.4 171.2 84.9 170.3 87.1 168.1 88.9Z" fill="#c8c8c8"/><path d="M166.3 132.8 173.6 130.7 178 129.2 182.3 121.9 186.7 114.6 190.4 116.1 192.3 123.4 191.1 132.1 186.7 140.9 182.3 145.3 178 148.2 173.6 146.7 169.2 143.8 166.3 139.4Z" fill="#c8c8c8"/><path d="M204.2 145.3 208.6 146.7 213 149.6 214.7 155.5 213.7 162.8 210.1 167.2 205.7 167.9 201.3 165.7 196.9 164.2 191.1 165 186.7 165.7 192.6 162 198.4 160.6 202.8 155.5 202 149.6Z" fill="#c8c8c8"/><path d="M161.2 170.1 167.7 167.2 176.5 166.4 186.7 166.4 188.9 171.5 192.6 174.5 195.5 178.8 196.9 184.7 195.5 189.1 188.2 190.5 179.4 191.2 169.2 191.2 161.9 189.8 159 186.1 158.2 178.8Z" fill="#c8c8c8"/><path d="M160 172 163 169 165 170 164 176 161 178Z" fill="#c8c8c8"/><path d="M173.6 127.5 177 126.5 178 129.2 176 131.5 174 131Z" fill="#c8c8c8"/></g></g>
<defs><clipPath id="cp1"><path transform="matrix(1.03715 0 0 0.89632 377.273 149.040)" d="M84.5 30 88 28.8 92 29.5 94.5 31.5 93 34 95.5 36.5 93.5 36.5 91 34.5 90 37 89.5 39.7 88.5 37 86 34.5 84.5 32.5ZM52.8 64.5 56.1 63.8 60.4 68.2 65.5 72.6 69.9 74.7 70.7 75.5 68.5 81.3 67.7 88.6 67 93 68.5 99.6 66.3 97.4 61.9 93 56.8 88.6 52.4 84.2 51.7 78.4 52.4 71.1ZM71.4 74.3 78 71.8 83.8 69.6 88.2 67.4 94 63.8 98.4 59.4 102.8 55 108.6 51.4 113.7 48.5 113.7 63.8 115.2 69.6 116.6 73.3 113 73.3 107.2 72.6 101.3 72.6 95.5 72.6 91.1 73.3 86.7 71.1 80.9 72.6 75 74ZM98.4 60.1 101.3 55 105.7 51.4 111.5 49.2 114.2 48 113.7 51.4 109.3 55 105.7 58.2 102.8 61.6 99.9 62.6ZM113.7 47.7 115.9 43.4 119.6 41.2 124.7 41.2 129.1 43.4 132.7 47 135.2 51.4 135.6 56.5 133.4 62.3 132.3 66.7 132.7 72.6 132 77.7 129.8 81.3 126.9 82.5 123.2 80.6 119.6 76.9 116.6 72.6 114.5 68.2 113.7 63.8 113 56.5ZM114.7 66.4 117.4 64.5 121 63.5 124.7 64.1 128.3 63.2 132.3 64.5 132.7 72.6 132 77.7 129.8 81.3 126.9 82.5 123.2 80.6 119.6 76.9 116.6 72.6ZM84.5 98 87 94 92 91.5 98 90.5 104 90.2 108.5 91.5 110.4 94.5 109 98 106 101 103 104 99 106.5 97.5 107.8 93 107.5 88 106 85 103ZM102.3 104 110 102.8 118 103.2 126 103.5 126.4 105 118 105.3 110 105.6 102.5 105.8ZM127.2 98.8 133 99.5 137.4 100.9 144.7 105.3 140 108 138.8 110.4 136.5 115 135.9 119.2 133 124 131.5 126.5 128.6 119.2 124.2 113.4 128.6 109 126.4 104.6ZM80.4 132.3 89.2 129.4 98 126.5 103.8 132.3 115.5 131.6 122.8 123.6 127.2 122.1 131.5 126.5 132.3 133.8 131.5 148.4 130.1 155.7 129.3 168.8 121.3 171.8 112.6 173.9 105.3 169.6 98 167.4 89.2 165.9 83.4 163.7 77.5 158.6 73.1 146.9 74.6 140.4ZM73.5 141 76 138.5 80 138 82.5 140 82 146 82.5 153 85 159 89 164 90 166.5 86 165.5 82 163.5 77.5 159 74 152 72.5 146ZM118 130 122.8 123.6 127.2 122.1 131.5 126.5 132.3 133.8 131.8 145 131 151 126 148 121 142 117 136ZM89 130 92 128 98 126.5 102 130 104 132.5 100 133.5 94 133 90 132ZM160.7 49.9 162.9 49 166.4 50.3 170.3 52.5 172.1 50.8 172.1 45.5 173.4 43.8 176 43.3 178.2 44.6 180 48.1 181.3 52.5 183 55.1 185.2 52.5 187.8 49.5 189.6 47.3 188.3 45.1 190 43.8 191.8 44.6 193.1 47.3 192.2 50.3 190.9 53.4 193.5 56 196.2 58.6 198.8 60.4 204 61.3 205.4 62.2 201.4 63 198.8 63.9 198.4 67.4 200.5 70 204 71.8 208 73.1 206.7 74.4 200.5 74.4 198.8 75.3 199.7 78.8 201.4 84 204 85.8 205.8 87.6 205.8 91.1 204.5 95.4 202.3 98.1 198.8 98.5 194.4 96.3 190 95.4 186.5 95.4 184.8 97.2 182.2 95.4 178.6 92.8 175.1 91.1 172.5 88.4 170.3 86.7 166.4 84.9 163.8 84.9 165.5 80.5 164.6 76.2 162.9 73.5 162 70 163.8 66.5 166.4 63.9 168.1 62.2 170.8 60.4 167.3 57.8 163.8 56 160.7 53.4ZM184.8 73.5 186.5 74 191.8 76.2 196.2 78.8 199.7 84 202.7 91.1 204 96.3 209.3 95.9 215 97.4 215 98.1 207.6 97 202.7 98.5 200.5 96.3 197.9 91.1 194.4 84 191.8 80.5 190 77.9 187.4 76.2ZM188.3 77 192.7 77 196.2 82.3 198.8 89.3 200.5 95.4 198.8 96.3 196.2 91.1 193.5 84 190 80.5ZM167.3 87.6 169.5 85.4 171.2 84.9 170.3 87.1 168.1 88.9ZM166.3 132.8 173.6 130.7 178 129.2 182.3 121.9 186.7 114.6 190.4 116.1 192.3 123.4 191.1 132.1 186.7 140.9 182.3 145.3 178 148.2 173.6 146.7 169.2 143.8 166.3 139.4ZM204.2 145.3 208.6 146.7 213 149.6 214.7 155.5 213.7 162.8 210.1 167.2 205.7 167.9 201.3 165.7 196.9 164.2 191.1 165 186.7 165.7 192.6 162 198.4 160.6 202.8 155.5 202 149.6ZM161.2 170.1 167.7 167.2 176.5 166.4 186.7 166.4 188.9 171.5 192.6 174.5 195.5 178.8 196.9 184.7 195.5 189.1 188.2 190.5 179.4 191.2 169.2 191.2 161.9 189.8 159 186.1 158.2 178.8ZM160 172 163 169 165 170 164 176 161 178ZM173.6 127.5 177 126.5 178 129.2 176 131.5 174 131Z"/></clipPath></defs>
<g clip-path="url(#cp1)">
<ellipse cx="439" cy="222" rx="8.5" ry="12" fill="#fbe9a0" fill-opacity="0.95" filter="url(#blur1)"/>
<ellipse cx="440.6" cy="219.5" rx="6" ry="7" fill="#fbc260" fill-opacity="0.95" filter="url(#blur1)"/>
<ellipse cx="442.3" cy="218" rx="4" ry="4" fill="#ef6a2e" fill-opacity="1" filter="url(#blur1)"/>
<ellipse cx="442.8" cy="217.8" rx="2.4" ry="2.4" fill="#c8141e" fill-opacity="1" filter="url(#blur1)"/>
<ellipse cx="443" cy="217.6" rx="1.3" ry="1.3" fill="#8a0020" fill-opacity="1" filter="url(#blur1)"/>
<ellipse cx="509" cy="266" rx="3" ry="6" fill="#f59b3f" fill-opacity="0.9" filter="url(#blur1)"/>
<ellipse cx="510" cy="277" rx="3" ry="4" fill="#fbe79a" fill-opacity="0.9" filter="url(#blur1)"/>
<ellipse cx="509" cy="265" rx="1.7" ry="3.5" fill="#e04a2a" fill-opacity="1" filter="url(#blur1)"/>
<ellipse cx="480" cy="210" rx="8" ry="3" fill="#f3e6a0" fill-opacity="0.8" filter="url(#blur1)"/>
<ellipse cx="497" cy="191" rx="4" ry="4" fill="#f3e6a0" fill-opacity="0.7" filter="url(#blur1)"/>
<ellipse cx="507" cy="190" rx="3" ry="3" fill="#f3e6a0" fill-opacity="0.6" filter="url(#blur1)"/>
<ellipse cx="469.5" cy="177.5" rx="2.5" ry="2.5" fill="#f5d77a" fill-opacity="0.9" filter="url(#blur1)"/>
<ellipse cx="517" cy="244" rx="4" ry="5" fill="#f3e6a0" fill-opacity="0.7" filter="url(#blur1)"/>
<ellipse cx="567.5" cy="211.4" rx="12" ry="8" fill="#ece6b8" fill-opacity="0.35" filter="url(#blur2)"/>
<ellipse cx="480" cy="275" rx="12" ry="8" fill="#ece6c0" fill-opacity="0.35" filter="url(#blur2)"/>
</g>
<path d="M429.6 207.3C430.3 205.6 431.9 206 433.1 205.9C434.3 205.8 435.6 206.2 436.6 206.9C437.6 207.6 438.3 209 439.3 209.9C440.3 210.8 441.6 211.6 442.8 212.5C444 213.4 445.4 214.2 446.3 215.2C447.2 216.2 447.8 217.1 448 218.7C448.2 220.3 447.8 222.9 447.7 224.8C447.6 226.7 447.1 227.9 447.1 230C447.2 232.1 448.1 235.6 448 237.1C447.9 238.6 447.2 239 446.3 238.8C445.4 238.7 444.3 237.4 442.8 236.2C441.3 235 439.1 233.1 437.5 231.8C435.9 230.5 434.4 229.8 433.1 228.3C431.8 226.8 430.3 225.1 429.6 223C428.9 220.9 428.8 218.6 428.8 216C428.8 213.4 428.9 209 429.6 207.3Z" fill="none" stroke="#f0625e" stroke-width="3.2" stroke-linejoin="round"/>
<path d="M469 211.7C469.1 210.7 469.6 209.1 470.8 208.2C472 207.3 474 207 476 206.4C478 205.8 480.7 205.6 483 204.7C485.3 203.8 487.9 202.2 490 201.2C492.1 200.2 494.1 198.8 495.3 198.9C496.5 199 496.6 200.3 497 202C497.4 203.7 497.9 207.1 497.9 209C497.9 210.9 498.3 212.7 497 213.4C495.7 214.1 492.6 213.2 490 213.4C487.4 213.6 484.2 214 481.3 214.3C478.4 214.6 474.4 215.2 472.5 215.2C470.6 215.2 470.5 214.9 469.9 214.3C469.3 213.7 468.9 212.7 469 211.7Z" fill="none" stroke="#dc5a8e" stroke-width="3.0" stroke-linejoin="round"/>
<path d="M446.3 216.3L470 210.2" stroke="#dc5a8e" stroke-width="3.2"/>
<path d="M507 257.4C508.1 257.4 510 257.2 511.3 258.5C512.6 259.8 513.9 262.1 514.6 265C515.3 267.9 515.5 272.7 515.3 276C515.1 279.3 514 282.5 513.5 284.7C513 286.9 513.1 288.7 512.4 289.1C511.7 289.5 510.8 287.8 509.2 286.9C507.6 286 504.6 284.9 502.6 283.6C500.6 282.3 498.9 281.1 497.1 279.3C495.3 277.5 492.2 274.5 491.6 272.7C491.1 270.9 492.2 269.9 493.8 268.3C495.4 266.7 499.7 264.4 501.5 262.8C503.3 261.2 503.9 259.4 504.8 258.5C505.7 257.6 505.9 257.4 507 257.4Z" fill="none" stroke="#4fb0dc" stroke-width="2.8" stroke-linejoin="round"/>
<path d="M462.7 270.5C462 270.5 459.3 271.6 457.7 272.7C456.1 273.8 454.4 275.5 453.3 277.1C452.2 278.8 451.3 280.8 451.1 282.6C450.9 284.4 451.3 286.4 452.2 288C453.1 289.6 455 291.2 456.6 292.4C458.2 293.6 460.3 294.6 462.1 295.3C463.9 296 465.9 296.6 467.6 296.8C469.3 297.1 471.6 297 472.4 296.8C473.2 296.6 473 296.2 472.4 295.7C471.8 295.1 469.7 294.4 468.6 293.5C467.5 292.6 466.6 291.5 465.8 290.2C465 288.9 464.2 287.2 463.6 285.8C463 284.4 462.5 282.9 462.1 281.5C461.7 280.1 461 278.6 461 277.1C461 275.6 461.8 273.8 462.1 272.7C462.4 271.6 463.4 270.5 462.7 270.5Z" fill="none" stroke="#4dbb4d" stroke-width="2.8" stroke-linejoin="round"/>
<text x="434" y="201" font-size="6.4" text-anchor="start" font-weight="normal" font-style="normal" fill="#f0625e">B cells</text>
<text x="459.6" y="224.5" font-size="6.4" text-anchor="start" font-weight="normal" font-style="normal" fill="#d9578a">Dendritic cells</text>
<text x="424.1" y="276" font-size="6.4" text-anchor="start" font-weight="normal" font-style="normal" fill="#4dbb4d">NK cells</text>
<text x="521.6" y="278" font-size="6.4" text-anchor="start" font-weight="normal" font-style="normal" fill="#4fb0dc">Treg cells</text>
<text x="616.6" y="230" font-size="6.1" text-anchor="start" font-weight="normal" font-style="normal" fill="#000">Joint density</text>
<rect x="616.6" y="233" width="7.6" height="37.7" fill="url(#jd)"/>
<text x="626.8" y="242" font-size="4.6" text-anchor="start" font-weight="normal" font-style="normal" fill="#333">6e-04</text>
<text x="626.8" y="251.9" font-size="4.6" text-anchor="start" font-weight="normal" font-style="normal" fill="#333">4e-04</text>
<text x="626.8" y="261.9" font-size="4.6" text-anchor="start" font-weight="normal" font-style="normal" fill="#333">2e-04</text>
<text x="626.8" y="272.3" font-size="4.6" text-anchor="start" font-weight="normal" font-style="normal" fill="#333">0e+00</text>
<text x="4" y="227.5" font-size="11" font-weight="bold">d</text>
<path d="M20.3 232V320.4H118.3" fill="none" stroke="#333" stroke-width="0.8"/>
<path d="M18.3 316.4h2" stroke="#333" stroke-width="0.6"/>
<text x="17.1" y="318" font-size="4.6" text-anchor="end" font-weight="normal" font-style="normal" fill="#4d4d4d">0</text>
<path d="M18.3 299h2" stroke="#333" stroke-width="0.6"/>
<text x="17.1" y="300.6" font-size="4.6" text-anchor="end" font-weight="normal" font-style="normal" fill="#4d4d4d">1</text>
<path d="M18.3 281.7h2" stroke="#333" stroke-width="0.6"/>
<text x="17.1" y="283.3" font-size="4.6" text-anchor="end" font-weight="normal" font-style="normal" fill="#4d4d4d">2</text>
<path d="M18.3 264.4h2" stroke="#333" stroke-width="0.6"/>
<text x="17.1" y="266" font-size="4.6" text-anchor="end" font-weight="normal" font-style="normal" fill="#4d4d4d">3</text>
<path d="M18.3 247h2" stroke="#333" stroke-width="0.6"/>
<text x="17.1" y="248.6" font-size="4.6" text-anchor="end" font-weight="normal" font-style="normal" fill="#4d4d4d">4</text>
<text x="6.8" y="274.2" font-size="5.4" text-anchor="middle" font-weight="normal" font-style="normal" fill="#000" transform="rotate(-90 6.8 274.2)">Expression level</text>
<text x="75.9" y="234.3" font-size="9.2" text-anchor="middle" font-weight="bold" font-style="italic" fill="#000" textLength="20.5" lengthAdjust="spacingAndGlyphs">IL6ST</text>
<path d="M27.5 316.4V251.3" stroke="#555" stroke-width="0.75"/>
<path d="M22.2 316.4H32.2" stroke="#333" stroke-width="0.7"/>
<path d="M21.9 316.4 C25.3 316.4 26.4 314.1 27.2 309.9 C28 314.1 29.1 316.4 32.5 316.4 Z" fill="#4fb5d8" stroke="#333" stroke-width="0.3"/>
<defs><linearGradient id="cg17" x1="0" y1="1" x2="0" y2="0"><stop offset="0.000" stop-opacity="0.00"/><stop offset="0.021" stop-opacity="0.45"/><stop offset="0.048" stop-opacity="0.97"/><stop offset="0.716" stop-opacity="0.97"/><stop offset="0.776" stop-opacity="0.65"/><stop offset="0.860" stop-opacity="0.25"/><stop offset="0.955" stop-opacity="0.05"/><stop offset="1.000" stop-opacity="0.00"/></linearGradient></defs><rect x="22.1" y="251.3" width="10.2" height="58.1" fill="url(#cg17)" filter="url(#dithD)"/>
<path d="M27.2 320.4v1.8" stroke="#333" stroke-width="0.6"/>
<text x="29.6" y="323.6" font-size="4.9" text-anchor="end" font-weight="normal" font-style="normal" fill="#222" transform="rotate(-45 29.6 323.6)">Regulatory T cells</text>
<path d="M39.5 316.4V236.6" stroke="#555" stroke-width="0.75"/>
<path d="M34.4 316.4H44.4" stroke="#333" stroke-width="0.7"/>
<defs><linearGradient id="cg18" x1="0" y1="1" x2="0" y2="0"><stop offset="0.000" stop-opacity="0.00"/><stop offset="0.019" stop-opacity="0.45"/><stop offset="0.043" stop-opacity="0.97"/><stop offset="0.720" stop-opacity="0.97"/><stop offset="0.780" stop-opacity="0.65"/><stop offset="0.864" stop-opacity="0.25"/><stop offset="0.960" stop-opacity="0.05"/><stop offset="1.000" stop-opacity="0.00"/></linearGradient></defs><rect x="34.3" y="246.1" width="10.2" height="65.1" fill="url(#cg18)" filter="url(#dithD)"/>
<path d="M39.4 320.4v1.8" stroke="#333" stroke-width="0.6"/>
<text x="41.8" y="323.6" font-size="4.9" text-anchor="end" font-weight="normal" font-style="normal" fill="#222" transform="rotate(-45 41.8 323.6)">Conventional T cells</text>
<path d="M52.5 316.4V253.9" stroke="#555" stroke-width="0.75"/>
<path d="M46.6 316.4H56.6" stroke="#333" stroke-width="0.7"/>
<path d="M46.4 316.4 C49.8 316.4 50.8 315.6 51.6 314.2 C52.4 315.6 53.4 316.4 56.8 316.4 Z" fill="#d2508c" stroke="#333" stroke-width="0.3"/>
<defs><linearGradient id="cg19" x1="0" y1="1" x2="0" y2="0"><stop offset="0.000" stop-opacity="0.00"/><stop offset="0.030" stop-opacity="0.45"/><stop offset="0.068" stop-opacity="0.97"/><stop offset="0.468" stop-opacity="0.97"/><stop offset="0.585" stop-opacity="0.65"/><stop offset="0.749" stop-opacity="0.25"/><stop offset="0.936" stop-opacity="0.05"/><stop offset="1.000" stop-opacity="0.00"/></linearGradient></defs><rect x="46.5" y="272.2" width="10.2" height="40.8" fill="url(#cg19)" filter="url(#dithD)"/>
<path d="M51.6 320.4v1.8" stroke="#333" stroke-width="0.6"/>
<text x="54" y="323.6" font-size="4.9" text-anchor="end" font-weight="normal" font-style="normal" fill="#222" transform="rotate(-45 54 323.6)">Dendritic cells</text>
<path d="M64.5 316.4V253.1" stroke="#555" stroke-width="0.75"/>
<path d="M58.5 316.4H68.5" stroke="#333" stroke-width="0.7"/>
<path d="M58.3 316.4 C61.7 316.4 62.7 315.7 63.5 314.4 C64.3 315.7 65.3 316.4 68.7 316.4 Z" fill="#a34ff0" stroke="#333" stroke-width="0.3"/>
<defs><linearGradient id="cg20" x1="0" y1="1" x2="0" y2="0"><stop offset="0.000" stop-opacity="0.00"/><stop offset="0.025" stop-opacity="0.45"/><stop offset="0.056" stop-opacity="0.97"/><stop offset="0.596" stop-opacity="0.97"/><stop offset="0.684" stop-opacity="0.65"/><stop offset="0.807" stop-opacity="0.25"/><stop offset="0.947" stop-opacity="0.05"/><stop offset="1.000" stop-opacity="0.00"/></linearGradient></defs><rect x="58.4" y="263.5" width="10.2" height="49.4" fill="url(#cg20)" filter="url(#dithD)"/>
<path d="M63.5 320.4v1.8" stroke="#333" stroke-width="0.6"/>
<text x="65.9" y="323.6" font-size="4.9" text-anchor="end" font-weight="normal" font-style="normal" fill="#222" transform="rotate(-45 65.9 323.6)">Monocytes</text>
<path d="M76.5 316.4V260" stroke="#555" stroke-width="0.75"/>
<path d="M70.5 316.4H80.5" stroke="#333" stroke-width="0.7"/>
<path d="M70.3 316.4 C73.7 316.4 74.7 315.9 75.5 314.9 C76.3 315.9 77.3 316.4 80.7 316.4 Z" fill="#e06bd0" stroke="#333" stroke-width="0.3"/>
<defs><linearGradient id="cg21" x1="0" y1="1" x2="0" y2="0"><stop offset="0.000" stop-opacity="0.00"/><stop offset="0.023" stop-opacity="0.45"/><stop offset="0.052" stop-opacity="0.97"/><stop offset="0.557" stop-opacity="0.97"/><stop offset="0.656" stop-opacity="0.65"/><stop offset="0.793" stop-opacity="0.25"/><stop offset="0.951" stop-opacity="0.05"/><stop offset="1.000" stop-opacity="0.00"/></linearGradient></defs><rect x="70.4" y="261.7" width="10.2" height="52.9" fill="url(#cg21)" filter="url(#dithD)"/>
<path d="M75.5 320.4v1.8" stroke="#333" stroke-width="0.6"/>
<text x="77.9" y="323.6" font-size="4.9" text-anchor="end" font-weight="normal" font-style="normal" fill="#222" transform="rotate(-45 77.9 323.6)">Macrophages</text>
<path d="M87.5 316.4V260.9" stroke="#555" stroke-width="0.75"/>
<path d="M82.3 316.4H92.3" stroke="#333" stroke-width="0.7"/>
<path d="M82.3 316.4 C85.5 316.4 86.5 316 87.3 315.2 C88.1 316 89 316.4 92.3 316.4 Z" fill="#9c6fe0" stroke="#333" stroke-width="0.3"/>
<defs><linearGradient id="cg22" x1="0" y1="1" x2="0" y2="0"><stop offset="0.000" stop-opacity="0.00"/><stop offset="0.023" stop-opacity="0.45"/><stop offset="0.052" stop-opacity="0.97"/><stop offset="0.525" stop-opacity="0.97"/><stop offset="0.631" stop-opacity="0.65"/><stop offset="0.780" stop-opacity="0.25"/><stop offset="0.951" stop-opacity="0.05"/><stop offset="1.000" stop-opacity="0.00"/></linearGradient></defs><rect x="82.2" y="261.7" width="10.2" height="52.9" fill="url(#cg22)" filter="url(#dithD)"/>
<path d="M87.3 320.4v1.8" stroke="#333" stroke-width="0.6"/>
<text x="89.7" y="323.6" font-size="4.9" text-anchor="end" font-weight="normal" font-style="normal" fill="#222" transform="rotate(-45 89.7 323.6)">Plasma cells</text>
<path d="M100.5 316.4V262.6" stroke="#555" stroke-width="0.75"/>
<path d="M94.5 316.4H104.5" stroke="#333" stroke-width="0.7"/>
<defs><linearGradient id="cg23" x1="0" y1="1" x2="0" y2="0"><stop offset="0.000" stop-opacity="0.00"/><stop offset="0.057" stop-opacity="0.50"/><stop offset="0.151" stop-opacity="0.85"/><stop offset="0.509" stop-opacity="0.85"/><stop offset="0.736" stop-opacity="0.50"/><stop offset="0.887" stop-opacity="0.15"/><stop offset="1.000" stop-opacity="0.02"/></linearGradient></defs><rect x="94.3" y="262.6" width="10.4" height="46" fill="url(#cg23)" filter="url(#dithD)"/>
<path d="M99.5 320.4v1.8" stroke="#333" stroke-width="0.6"/>
<text x="101.9" y="323.6" font-size="4.9" text-anchor="end" font-weight="normal" font-style="normal" fill="#222" transform="rotate(-45 101.9 323.6)">NK(T) cells</text>
<path d="M111.5 316.4V266.1" stroke="#555" stroke-width="0.75"/>
<path d="M106.4 316.4H116.4" stroke="#333" stroke-width="0.7"/>
<defs><linearGradient id="cg24" x1="0" y1="1" x2="0" y2="0"><stop offset="0.000" stop-opacity="0.00"/><stop offset="0.061" stop-opacity="0.50"/><stop offset="0.163" stop-opacity="0.88"/><stop offset="0.429" stop-opacity="0.88"/><stop offset="0.633" stop-opacity="0.45"/><stop offset="0.837" stop-opacity="0.12"/><stop offset="1.000" stop-opacity="0.02"/></linearGradient></defs><rect x="106.2" y="266.1" width="10.4" height="42.5" fill="url(#cg24)" filter="url(#dithD)"/>
<path d="M111.4 320.4v1.8" stroke="#333" stroke-width="0.6"/>
<text x="113.8" y="323.6" font-size="4.9" text-anchor="end" font-weight="normal" font-style="normal" fill="#222" transform="rotate(-45 113.8 323.6)">B cells</text>
<path d="M139.9 232V320.4H237.4" fill="none" stroke="#333" stroke-width="0.8"/>
<path d="M137.9 316.4h2" stroke="#333" stroke-width="0.6"/>
<text x="137.5" y="318" font-size="4.6" text-anchor="end" font-weight="normal" font-style="normal" fill="#4d4d4d">0</text>
<path d="M137.9 299h2" stroke="#333" stroke-width="0.6"/>
<text x="137.5" y="300.6" font-size="4.6" text-anchor="end" font-weight="normal" font-style="normal" fill="#4d4d4d">1</text>
<path d="M137.9 281.7h2" stroke="#333" stroke-width="0.6"/>
<text x="137.5" y="283.3" font-size="4.6" text-anchor="end" font-weight="normal" font-style="normal" fill="#4d4d4d">2</text>
<path d="M137.9 264.4h2" stroke="#333" stroke-width="0.6"/>
<text x="137.5" y="266" font-size="4.6" text-anchor="end" font-weight="normal" font-style="normal" fill="#4d4d4d">3</text>
<path d="M137.9 247h2" stroke="#333" stroke-width="0.6"/>
<text x="137.5" y="248.6" font-size="4.6" text-anchor="end" font-weight="normal" font-style="normal" fill="#4d4d4d">4</text>
<text x="127" y="274.2" font-size="5.4" text-anchor="middle" font-weight="normal" font-style="normal" fill="#000" transform="rotate(-90 127 274.2)">Expression level</text>
<text x="194.4" y="234.3" font-size="9.2" text-anchor="middle" font-weight="bold" font-style="italic" fill="#000" textLength="32.1" lengthAdjust="spacingAndGlyphs">IL12RB2</text>
<path d="M147.5 316.4V247" stroke="#555" stroke-width="0.75"/>
<path d="M142.3 316.4H152.3" stroke="#333" stroke-width="0.7"/>
<path d="M142.3 316.4 C145.6 316.4 146.5 315.8 147.3 314.8 C148.1 315.8 149.1 316.4 152.3 316.4 Z" fill="#45a8d0" stroke="#333" stroke-width="0.3"/>
<defs><linearGradient id="cg25" x1="0" y1="1" x2="0" y2="0"><stop offset="0.000" stop-opacity="0.00"/><stop offset="0.024" stop-opacity="0.45"/><stop offset="0.054" stop-opacity="0.97"/><stop offset="0.644" stop-opacity="0.97"/><stop offset="0.720" stop-opacity="0.65"/><stop offset="0.827" stop-opacity="0.25"/><stop offset="0.949" stop-opacity="0.05"/><stop offset="1.000" stop-opacity="0.00"/></linearGradient></defs><rect x="142.2" y="258.3" width="10.2" height="51.2" fill="url(#cg25)" filter="url(#dithD)"/>
<path d="M147.3 320.4v1.8" stroke="#333" stroke-width="0.6"/>
<text x="149.7" y="323.6" font-size="4.9" text-anchor="end" font-weight="normal" font-style="normal" fill="#222" transform="rotate(-45 149.7 323.6)">Regulatory T cells</text>
<path d="M159.5 316.4V269.6" stroke="#555" stroke-width="0.75"/>
<path d="M154.2 316.4H164.2" stroke="#333" stroke-width="0.7"/>
<defs><linearGradient id="cg26" x1="0" y1="1" x2="0" y2="0"><stop offset="0.000" stop-opacity="0.00"/><stop offset="0.065" stop-opacity="0.50"/><stop offset="0.174" stop-opacity="0.85"/><stop offset="0.478" stop-opacity="0.80"/><stop offset="0.739" stop-opacity="0.40"/><stop offset="0.913" stop-opacity="0.10"/><stop offset="1.000" stop-opacity="0.02"/></linearGradient></defs><rect x="154" y="269.6" width="10.4" height="39.9" fill="url(#cg26)" filter="url(#dithD)"/>
<path d="M159.2 320.4v1.8" stroke="#333" stroke-width="0.6"/>
<text x="161.6" y="323.6" font-size="4.9" text-anchor="end" font-weight="normal" font-style="normal" fill="#222" transform="rotate(-45 161.6 323.6)">NK(T) cells</text>
<path d="M171.5 316.4V253.9" stroke="#555" stroke-width="0.75"/>
<path d="M166.4 316.4H176.4" stroke="#333" stroke-width="0.7"/>
<defs><linearGradient id="cg27" x1="0" y1="1" x2="0" y2="0"><stop offset="0.000" stop-opacity="0.00"/><stop offset="0.024" stop-opacity="0.45"/><stop offset="0.054" stop-opacity="0.97"/><stop offset="0.610" stop-opacity="0.97"/><stop offset="0.695" stop-opacity="0.65"/><stop offset="0.814" stop-opacity="0.25"/><stop offset="0.949" stop-opacity="0.05"/><stop offset="1.000" stop-opacity="0.00"/></linearGradient></defs><rect x="166.3" y="258.3" width="10.2" height="51.2" fill="url(#cg27)" filter="url(#dithD)"/>
<path d="M171.4 320.4v1.8" stroke="#333" stroke-width="0.6"/>
<text x="173.8" y="323.6" font-size="4.9" text-anchor="end" font-weight="normal" font-style="normal" fill="#222" transform="rotate(-45 173.8 323.6)">Conventional T cells</text>
<path d="M183.5 316.4V272.2" stroke="#555" stroke-width="0.75"/>
<path d="M178.2 316.4H188.2" stroke="#333" stroke-width="0.7"/>
<defs><linearGradient id="cg28" x1="0" y1="1" x2="0" y2="0"><stop offset="0.000" stop-opacity="0.00"/><stop offset="0.056" stop-opacity="0.01"/><stop offset="0.944" stop-opacity="0.01"/><stop offset="1.000" stop-opacity="0.00"/></linearGradient></defs><rect x="178" y="283.4" width="10.4" height="31.2" fill="url(#cg28)" filter="url(#dith)"/>
<path d="M183.2 320.4v1.8" stroke="#333" stroke-width="0.6"/>
<text x="185.6" y="323.6" font-size="4.9" text-anchor="end" font-weight="normal" font-style="normal" fill="#222" transform="rotate(-45 185.6 323.6)">Plasma cells</text>
<path d="M195.5 316.4V280" stroke="#555" stroke-width="0.75"/>
<path d="M190 316.4H200" stroke="#333" stroke-width="0.7"/>
<defs><linearGradient id="cg29" x1="0" y1="1" x2="0" y2="0"><stop offset="0.000" stop-opacity="0.00"/><stop offset="0.071" stop-opacity="0.01"/><stop offset="0.929" stop-opacity="0.01"/><stop offset="1.000" stop-opacity="0.00"/></linearGradient></defs><rect x="189.8" y="290.4" width="10.4" height="24.3" fill="url(#cg29)" filter="url(#dith)"/>
<path d="M195 320.4v1.8" stroke="#333" stroke-width="0.6"/>
<text x="197.4" y="323.6" font-size="4.9" text-anchor="end" font-weight="normal" font-style="normal" fill="#222" transform="rotate(-45 197.4 323.6)">Dendritic cells</text>
<path d="M207.5 316.4V285.2" stroke="#555" stroke-width="0.75"/>
<path d="M201.9 316.4H211.9" stroke="#333" stroke-width="0.7"/>
<defs><linearGradient id="cg30" x1="0" y1="1" x2="0" y2="0"><stop offset="0.000" stop-opacity="0.00"/><stop offset="0.077" stop-opacity="0.01"/><stop offset="0.923" stop-opacity="0.01"/><stop offset="1.000" stop-opacity="0.00"/></linearGradient></defs><rect x="201.7" y="290.4" width="10.4" height="22.6" fill="url(#cg30)" filter="url(#dith)"/>
<path d="M206.9 320.4v1.8" stroke="#333" stroke-width="0.6"/>
<text x="209.3" y="323.6" font-size="4.9" text-anchor="end" font-weight="normal" font-style="normal" fill="#222" transform="rotate(-45 209.3 323.6)">Macrophages</text>
<path d="M219.5 316.4V279.1" stroke="#555" stroke-width="0.75"/>
<path d="M214.1 316.4H224.1" stroke="#333" stroke-width="0.7"/>
<defs><linearGradient id="cg31" x1="0" y1="1" x2="0" y2="0"><stop offset="0.000" stop-opacity="0.00"/><stop offset="0.071" stop-opacity="0.01"/><stop offset="0.929" stop-opacity="0.01"/><stop offset="1.000" stop-opacity="0.00"/></linearGradient></defs><rect x="213.9" y="288.6" width="10.4" height="24.3" fill="url(#cg31)" filter="url(#dith)"/>
<path d="M219.1 320.4v1.8" stroke="#333" stroke-width="0.6"/>
<text x="221.5" y="323.6" font-size="4.9" text-anchor="end" font-weight="normal" font-style="normal" fill="#222" transform="rotate(-45 221.5 323.6)">Monocytes</text>
<path d="M231.5 316.4V275.6" stroke="#555" stroke-width="0.75"/>
<path d="M226.3 316.4H236.3" stroke="#333" stroke-width="0.7"/>
<defs><linearGradient id="cg32" x1="0" y1="1" x2="0" y2="0"><stop offset="0.000" stop-opacity="0.00"/><stop offset="0.056" stop-opacity="0.01"/><stop offset="0.944" stop-opacity="0.01"/><stop offset="1.000" stop-opacity="0.00"/></linearGradient></defs><rect x="226.1" y="281.7" width="10.4" height="31.2" fill="url(#cg32)" filter="url(#dith)"/>
<path d="M231.3 320.4v1.8" stroke="#333" stroke-width="0.6"/>
<text x="233.7" y="323.6" font-size="4.9" text-anchor="end" font-weight="normal" font-style="normal" fill="#222" transform="rotate(-45 233.7 323.6)">B cells</text>
<path d="M259.7 232V320.4H358.3" fill="none" stroke="#333" stroke-width="0.8"/>
<path d="M257.7 316.4h2" stroke="#333" stroke-width="0.6"/>
<text x="257" y="318" font-size="4.6" text-anchor="end" font-weight="normal" font-style="normal" fill="#4d4d4d">0</text>
<path d="M257.7 299h2" stroke="#333" stroke-width="0.6"/>
<text x="257" y="300.6" font-size="4.6" text-anchor="end" font-weight="normal" font-style="normal" fill="#4d4d4d">1</text>
<path d="M257.7 281.7h2" stroke="#333" stroke-width="0.6"/>
<text x="257" y="283.3" font-size="4.6" text-anchor="end" font-weight="normal" font-style="normal" fill="#4d4d4d">2</text>
<path d="M257.7 264.4h2" stroke="#333" stroke-width="0.6"/>
<text x="257" y="266" font-size="4.6" text-anchor="end" font-weight="normal" font-style="normal" fill="#4d4d4d">3</text>
<path d="M257.7 247h2" stroke="#333" stroke-width="0.6"/>
<text x="257" y="248.6" font-size="4.6" text-anchor="end" font-weight="normal" font-style="normal" fill="#4d4d4d">4</text>
<text x="246.8" y="274.2" font-size="5.4" text-anchor="middle" font-weight="normal" font-style="normal" fill="#000" transform="rotate(-90 246.8 274.2)">Expression level</text>
<text x="307.2" y="234.3" font-size="9.2" text-anchor="middle" font-weight="bold" font-style="italic" fill="#000" textLength="27.2" lengthAdjust="spacingAndGlyphs">IL27RA</text>
<path d="M267.5 316.4V254.8" stroke="#555" stroke-width="0.75"/>
<path d="M261.6 316.4H271.6" stroke="#333" stroke-width="0.7"/>
<path d="M261.6 316.4 C264.9 316.4 265.8 315.8 266.6 314.8 C267.4 315.8 268.4 316.4 271.6 316.4 Z" fill="#45a8d0" stroke="#333" stroke-width="0.3"/>
<defs><linearGradient id="cg33" x1="0" y1="1" x2="0" y2="0"><stop offset="0.000" stop-opacity="0.00"/><stop offset="0.026" stop-opacity="0.45"/><stop offset="0.060" stop-opacity="0.97"/><stop offset="0.604" stop-opacity="0.97"/><stop offset="0.689" stop-opacity="0.65"/><stop offset="0.808" stop-opacity="0.25"/><stop offset="0.943" stop-opacity="0.05"/><stop offset="1.000" stop-opacity="0.00"/></linearGradient></defs><rect x="261.5" y="261.7" width="10.2" height="46" fill="url(#cg33)" filter="url(#dithD)"/>
<path d="M266.6 320.4v1.8" stroke="#333" stroke-width="0.6"/>
<text x="269" y="323.6" font-size="4.9" text-anchor="end" font-weight="normal" font-style="normal" fill="#222" transform="rotate(-45 269 323.6)">Regulatory T cells</text>
<path d="M279.5 316.4V253.9" stroke="#555" stroke-width="0.75"/>
<path d="M273.8 316.4H283.8" stroke="#333" stroke-width="0.7"/>
<path d="M273.8 316.4 C277.1 316.4 278 315.9 278.8 315 C279.6 315.9 280.6 316.4 283.8 316.4 Z" fill="#4cbb4c" stroke="#333" stroke-width="0.3"/>
<defs><linearGradient id="cg34" x1="0" y1="1" x2="0" y2="0"><stop offset="0.000" stop-opacity="0.00"/><stop offset="0.025" stop-opacity="0.45"/><stop offset="0.058" stop-opacity="0.97"/><stop offset="0.655" stop-opacity="0.97"/><stop offset="0.727" stop-opacity="0.65"/><stop offset="0.829" stop-opacity="0.25"/><stop offset="0.945" stop-opacity="0.05"/><stop offset="1.000" stop-opacity="0.00"/></linearGradient></defs><rect x="273.7" y="261.7" width="10.2" height="47.7" fill="url(#cg34)" filter="url(#dithD)"/>
<path d="M278.8 320.4v1.8" stroke="#333" stroke-width="0.6"/>
<text x="281.2" y="323.6" font-size="4.9" text-anchor="end" font-weight="normal" font-style="normal" fill="#222" transform="rotate(-45 281.2 323.6)">NK(T) cells</text>
<path d="M291.5 316.4V253.9" stroke="#555" stroke-width="0.75"/>
<path d="M285.8 316.4H295.8" stroke="#333" stroke-width="0.7"/>
<defs><linearGradient id="cg35" x1="0" y1="1" x2="0" y2="0"><stop offset="0.000" stop-opacity="0.00"/><stop offset="0.022" stop-opacity="0.45"/><stop offset="0.049" stop-opacity="0.97"/><stop offset="0.738" stop-opacity="0.97"/><stop offset="0.792" stop-opacity="0.65"/><stop offset="0.868" stop-opacity="0.25"/><stop offset="0.954" stop-opacity="0.05"/><stop offset="1.000" stop-opacity="0.00"/></linearGradient></defs><rect x="285.7" y="253.1" width="10.2" height="56.4" fill="url(#cg35)" filter="url(#dithD)"/>
<path d="M290.8 320.4v1.8" stroke="#333" stroke-width="0.6"/>
<text x="293.2" y="323.6" font-size="4.9" text-anchor="end" font-weight="normal" font-style="normal" fill="#222" transform="rotate(-45 293.2 323.6)">Conventional T cells</text>
<path d="M303.5 316.4V264.4" stroke="#555" stroke-width="0.75"/>
<path d="M297.7 316.4H307.7" stroke="#333" stroke-width="0.7"/>
<defs><linearGradient id="cg36" x1="0" y1="1" x2="0" y2="0"><stop offset="0.000" stop-opacity="0.00"/><stop offset="0.029" stop-opacity="0.45"/><stop offset="0.065" stop-opacity="0.97"/><stop offset="0.653" stop-opacity="0.97"/><stop offset="0.724" stop-opacity="0.65"/><stop offset="0.824" stop-opacity="0.25"/><stop offset="0.939" stop-opacity="0.05"/><stop offset="1.000" stop-opacity="0.00"/></linearGradient></defs><rect x="297.6" y="267" width="10.2" height="42.5" fill="url(#cg36)" filter="url(#dithD)"/>
<path d="M302.7 320.4v1.8" stroke="#333" stroke-width="0.6"/>
<text x="305.1" y="323.6" font-size="4.9" text-anchor="end" font-weight="normal" font-style="normal" fill="#222" transform="rotate(-45 305.1 323.6)">B cells</text>
<path d="M314.5 316.4V268.7" stroke="#555" stroke-width="0.75"/>
<path d="M309.5 316.4H319.5" stroke="#333" stroke-width="0.7"/>
<defs><linearGradient id="cg37" x1="0" y1="1" x2="0" y2="0"><stop offset="0.000" stop-opacity="0.00"/><stop offset="0.039" stop-opacity="0.45"/><stop offset="0.089" stop-opacity="0.97"/><stop offset="0.472" stop-opacity="0.97"/><stop offset="0.583" stop-opacity="0.65"/><stop offset="0.739" stop-opacity="0.25"/><stop offset="0.917" stop-opacity="0.05"/><stop offset="1.000" stop-opacity="0.00"/></linearGradient></defs><rect x="309.4" y="280.8" width="10.2" height="31.2" fill="url(#cg37)" filter="url(#dithD)"/>
<path d="M314.5 320.4v1.8" stroke="#333" stroke-width="0.6"/>
<text x="316.9" y="323.6" font-size="4.9" text-anchor="end" font-weight="normal" font-style="normal" fill="#222" transform="rotate(-45 316.9 323.6)">Dendritic cells</text>
<path d="M327.5 316.4V272.2" stroke="#555" stroke-width="0.75"/>
<path d="M321.7 316.4H331.7" stroke="#333" stroke-width="0.7"/>
<defs><linearGradient id="cg38" x1="0" y1="1" x2="0" y2="0"><stop offset="0.000" stop-opacity="0.00"/><stop offset="0.031" stop-opacity="0.45"/><stop offset="0.071" stop-opacity="0.97"/><stop offset="0.578" stop-opacity="0.97"/><stop offset="0.667" stop-opacity="0.65"/><stop offset="0.791" stop-opacity="0.25"/><stop offset="0.933" stop-opacity="0.05"/><stop offset="1.000" stop-opacity="0.00"/></linearGradient></defs><rect x="321.6" y="273.9" width="10.2" height="39" fill="url(#cg38)" filter="url(#dithD)"/>
<path d="M326.7 320.4v1.8" stroke="#333" stroke-width="0.6"/>
<text x="329.1" y="323.6" font-size="4.9" text-anchor="end" font-weight="normal" font-style="normal" fill="#222" transform="rotate(-45 329.1 323.6)">Monocytes</text>
<path d="M338.5 316.4V260.9" stroke="#555" stroke-width="0.75"/>
<path d="M333.5 316.4H343.5" stroke="#333" stroke-width="0.7"/>
<defs><linearGradient id="cg39" x1="0" y1="1" x2="0" y2="0"><stop offset="0.000" stop-opacity="0.00"/><stop offset="0.031" stop-opacity="0.45"/><stop offset="0.071" stop-opacity="0.97"/><stop offset="0.533" stop-opacity="0.97"/><stop offset="0.633" stop-opacity="0.65"/><stop offset="0.773" stop-opacity="0.25"/><stop offset="0.933" stop-opacity="0.05"/><stop offset="1.000" stop-opacity="0.00"/></linearGradient></defs><rect x="333.4" y="275.6" width="10.2" height="39" fill="url(#cg39)" filter="url(#dithD)"/>
<path d="M338.5 320.4v1.8" stroke="#333" stroke-width="0.6"/>
<text x="340.9" y="323.6" font-size="4.9" text-anchor="end" font-weight="normal" font-style="normal" fill="#222" transform="rotate(-45 340.9 323.6)">Macrophages</text>
<path d="M351.5 316.4V258.3" stroke="#555" stroke-width="0.75"/>
<path d="M345.8 316.4H355.8" stroke="#333" stroke-width="0.7"/>
<defs><linearGradient id="cg40" x1="0" y1="1" x2="0" y2="0"><stop offset="0.000" stop-opacity="0.00"/><stop offset="0.031" stop-opacity="0.45"/><stop offset="0.071" stop-opacity="0.97"/><stop offset="0.489" stop-opacity="0.97"/><stop offset="0.600" stop-opacity="0.65"/><stop offset="0.756" stop-opacity="0.25"/><stop offset="0.933" stop-opacity="0.05"/><stop offset="1.000" stop-opacity="0.00"/></linearGradient></defs><rect x="345.7" y="275.6" width="10.2" height="39" fill="url(#cg40)" filter="url(#dithD)"/>
<path d="M350.8 320.4v1.8" stroke="#333" stroke-width="0.6"/>
<text x="353.2" y="323.6" font-size="4.9" text-anchor="end" font-weight="normal" font-style="normal" fill="#222" transform="rotate(-45 353.2 323.6)">Plasma cells</text>
<text x="0.5" y="373.5" font-size="11" font-weight="bold">e</text>
<text x="13.4" y="385.2" font-size="9.2" text-anchor="start" font-weight="bold" font-style="italic" fill="#000" textLength="58.8" lengthAdjust="spacingAndGlyphs">IL6ST<tspan font-size="6" dy="-3">+</tspan><tspan dy="3">IL12RB2</tspan><tspan font-size="6" dy="-3">+</tspan></text>
<text x="252.2" y="385.2" font-size="9.2" text-anchor="start" font-weight="bold" font-style="italic" fill="#000" textLength="55.4" lengthAdjust="spacingAndGlyphs">IL6ST<tspan font-size="6" dy="-3">+</tspan><tspan dy="3">IL27RA</tspan><tspan font-size="6" dy="-3">+</tspan></text>
<text x="486.3" y="385.2" font-size="9.2" text-anchor="start" font-weight="bold" font-style="italic" fill="#000" textLength="65.5" lengthAdjust="spacingAndGlyphs">IL12RB2<tspan font-size="6" dy="-3">+</tspan><tspan dy="3">IL27RA</tspan><tspan font-size="6" dy="-3">+</tspan></text>
<path d="M21.8 393.5V533.4H186.4" fill="none" stroke="#333" stroke-width="0.8"/>
<path d="M19.8 396.3h2" stroke="#333" stroke-width="0.6"/>
<text x="18.8" y="397.9" font-size="4.1" text-anchor="end" font-weight="normal" font-style="normal" fill="#4d4d4d">15</text>
<path d="M19.8 419.8h2" stroke="#333" stroke-width="0.6"/>
<text x="18.8" y="421.4" font-size="4.1" text-anchor="end" font-weight="normal" font-style="normal" fill="#4d4d4d">10</text>
<path d="M19.8 443.3h2" stroke="#333" stroke-width="0.6"/>
<text x="18.8" y="444.9" font-size="4.1" text-anchor="end" font-weight="normal" font-style="normal" fill="#4d4d4d">5</text>
<path d="M19.8 466.8h2" stroke="#333" stroke-width="0.6"/>
<text x="18.8" y="468.4" font-size="4.1" text-anchor="end" font-weight="normal" font-style="normal" fill="#4d4d4d">0</text>
<path d="M19.8 490.3h2" stroke="#333" stroke-width="0.6"/>
<text x="18.8" y="491.9" font-size="4.1" text-anchor="end" font-weight="normal" font-style="normal" fill="#4d4d4d">-5</text>
<path d="M19.8 513.8h2" stroke="#333" stroke-width="0.6"/>
<text x="18.8" y="515.4" font-size="4.1" text-anchor="end" font-weight="normal" font-style="normal" fill="#4d4d4d">-10</text>
<path d="M49.4 533.4v2" stroke="#333" stroke-width="0.6"/>
<text x="49.4" y="539.4" font-size="4.1" text-anchor="middle" font-weight="normal" font-style="normal" fill="#4d4d4d">-10</text>
<path d="M79 533.4v2" stroke="#333" stroke-width="0.6"/>
<text x="79" y="539.4" font-size="4.1" text-anchor="middle" font-weight="normal" font-style="normal" fill="#4d4d4d">-5</text>
<path d="M108.7 533.4v2" stroke="#333" stroke-width="0.6"/>
<text x="108.7" y="539.4" font-size="4.1" text-anchor="middle" font-weight="normal" font-style="normal" fill="#4d4d4d">0</text>
<path d="M138.3 533.4v2" stroke="#333" stroke-width="0.6"/>
<text x="138.3" y="539.4" font-size="4.1" text-anchor="middle" font-weight="normal" font-style="normal" fill="#4d4d4d">5</text>
<path d="M167.9 533.4v2" stroke="#333" stroke-width="0.6"/>
<text x="167.9" y="539.4" font-size="4.1" text-anchor="middle" font-weight="normal" font-style="normal" fill="#4d4d4d">10</text>
<text x="104.1" y="545.5" font-size="5.7" text-anchor="middle" font-weight="normal" font-style="normal" fill="#000">UMAP 1</text>
<text x="12.2" y="463.4" font-size="5.7" text-anchor="middle" font-weight="normal" font-style="normal" fill="#000" transform="rotate(-90 12.2 463.4)">UMAP 2</text>
<g filter="url(#rough)"><g transform="matrix(0.91718 0 0 0.78595 -17.921 377.044)"><path d="M84.5 30 88 28.8 92 29.5 94.5 31.5 93 34 95.5 36.5 93.5 36.5 91 34.5 90 37 89.5 39.7 88.5 37 86 34.5 84.5 32.5Z" fill="#c8c8c8"/><path d="M52.8 64.5 56.1 63.8 60.4 68.2 65.5 72.6 69.9 74.7 70.7 75.5 68.5 81.3 67.7 88.6 67 93 68.5 99.6 66.3 97.4 61.9 93 56.8 88.6 52.4 84.2 51.7 78.4 52.4 71.1Z" fill="#c8c8c8"/><path d="M71.4 74.3 78 71.8 83.8 69.6 88.2 67.4 94 63.8 98.4 59.4 102.8 55 108.6 51.4 113.7 48.5 113.7 63.8 115.2 69.6 116.6 73.3 113 73.3 107.2 72.6 101.3 72.6 95.5 72.6 91.1 73.3 86.7 71.1 80.9 72.6 75 74Z" fill="#c8c8c8"/><path d="M98.4 60.1 101.3 55 105.7 51.4 111.5 49.2 114.2 48 113.7 51.4 109.3 55 105.7 58.2 102.8 61.6 99.9 62.6Z" fill="#c8c8c8"/><path d="M113.7 47.7 115.9 43.4 119.6 41.2 124.7 41.2 129.1 43.4 132.7 47 135.2 51.4 135.6 56.5 133.4 62.3 132.3 66.7 132.7 72.6 132 77.7 129.8 81.3 126.9 82.5 123.2 80.6 119.6 76.9 116.6 72.6 114.5 68.2 113.7 63.8 113 56.5Z" fill="#c8c8c8"/><path d="M114.7 66.4 117.4 64.5 121 63.5 124.7 64.1 128.3 63.2 132.3 64.5 132.7 72.6 132 77.7 129.8 81.3 126.9 82.5 123.2 80.6 119.6 76.9 116.6 72.6Z" fill="#c8c8c8"/><path d="M84.5 98 87 94 92 91.5 98 90.5 104 90.2 108.5 91.5 110.4 94.5 109 98 106 101 103 104 99 106.5 97.5 107.8 93 107.5 88 106 85 103Z" fill="#c8c8c8"/><path d="M102.3 104 110 102.8 118 103.2 126 103.5 126.4 105 118 105.3 110 105.6 102.5 105.8Z" fill="#c8c8c8"/><path d="M127.2 98.8 133 99.5 137.4 100.9 144.7 105.3 140 108 138.8 110.4 136.5 115 135.9 119.2 133 124 131.5 126.5 128.6 119.2 124.2 113.4 128.6 109 126.4 104.6Z" fill="#c8c8c8"/><path d="M80.4 132.3 89.2 129.4 98 126.5 103.8 132.3 115.5 131.6 122.8 123.6 127.2 122.1 131.5 126.5 132.3 133.8 131.5 148.4 130.1 155.7 129.3 168.8 121.3 171.8 112.6 173.9 105.3 169.6 98 167.4 89.2 165.9 83.4 163.7 77.5 158.6 73.1 146.9 74.6 140.4Z" fill="#c8c8c8"/><path d="M73.5 141 76 138.5 80 138 82.5 140 82 146 82.5 153 85 159 89 164 90 166.5 86 165.5 82 163.5 77.5 159 74 152 72.5 146Z" fill="#c8c8c8"/><path d="M118 130 122.8 123.6 127.2 122.1 131.5 126.5 132.3 133.8 131.8 145 131 151 126 148 121 142 117 136Z" fill="#c8c8c8"/><path d="M89 130 92 128 98 126.5 102 130 104 132.5 100 133.5 94 133 90 132Z" fill="#c8c8c8"/><path d="M160.7 49.9 162.9 49 166.4 50.3 170.3 52.5 172.1 50.8 172.1 45.5 173.4 43.8 176 43.3 178.2 44.6 180 48.1 181.3 52.5 183 55.1 185.2 52.5 187.8 49.5 189.6 47.3 188.3 45.1 190 43.8 191.8 44.6 193.1 47.3 192.2 50.3 190.9 53.4 193.5 56 196.2 58.6 198.8 60.4 204 61.3 205.4 62.2 201.4 63 198.8 63.9 198.4 67.4 200.5 70 204 71.8 208 73.1 206.7 74.4 200.5 74.4 198.8 75.3 199.7 78.8 201.4 84 204 85.8 205.8 87.6 205.8 91.1 204.5 95.4 202.3 98.1 198.8 98.5 194.4 96.3 190 95.4 186.5 95.4 184.8 97.2 182.2 95.4 178.6 92.8 175.1 91.1 172.5 88.4 170.3 86.7 166.4 84.9 163.8 84.9 165.5 80.5 164.6 76.2 162.9 73.5 162 70 163.8 66.5 166.4 63.9 168.1 62.2 170.8 60.4 167.3 57.8 163.8 56 160.7 53.4Z" fill="#c8c8c8"/><path d="M184.8 73.5 186.5 74 191.8 76.2 196.2 78.8 199.7 84 202.7 91.1 204 96.3 209.3 95.9 215 97.4 215 98.1 207.6 97 202.7 98.5 200.5 96.3 197.9 91.1 194.4 84 191.8 80.5 190 77.9 187.4 76.2Z" fill="#c8c8c8"/><path d="M188.3 77 192.7 77 196.2 82.3 198.8 89.3 200.5 95.4 198.8 96.3 196.2 91.1 193.5 84 190 80.5Z" fill="#c8c8c8"/><path d="M167.3 87.6 169.5 85.4 171.2 84.9 170.3 87.1 168.1 88.9Z" fill="#c8c8c8"/><path d="M166.3 132.8 173.6 130.7 178 129.2 182.3 121.9 186.7 114.6 190.4 116.1 192.3 123.4 191.1 132.1 186.7 140.9 182.3 145.3 178 148.2 173.6 146.7 169.2 143.8 166.3 139.4Z" fill="#c8c8c8"/><path d="M204.2 145.3 208.6 146.7 213 149.6 214.7 155.5 213.7 162.8 210.1 167.2 205.7 167.9 201.3 165.7 196.9 164.2 191.1 165 186.7 165.7 192.6 162 198.4 160.6 202.8 155.5 202 149.6Z" fill="#c8c8c8"/><path d="M161.2 170.1 167.7 167.2 176.5 166.4 186.7 166.4 188.9 171.5 192.6 174.5 195.5 178.8 196.9 184.7 195.5 189.1 188.2 190.5 179.4 191.2 169.2 191.2 161.9 189.8 159 186.1 158.2 178.8Z" fill="#c8c8c8"/><path d="M160 172 163 169 165 170 164 176 161 178Z" fill="#c8c8c8"/><path d="M173.6 127.5 177 126.5 178 129.2 176 131.5 174 131Z" fill="#c8c8c8"/></g></g>
<defs><clipPath id="cp2"><path transform="matrix(0.91718 0 0 0.78595 -17.921 377.044)" d="M84.5 30 88 28.8 92 29.5 94.5 31.5 93 34 95.5 36.5 93.5 36.5 91 34.5 90 37 89.5 39.7 88.5 37 86 34.5 84.5 32.5ZM52.8 64.5 56.1 63.8 60.4 68.2 65.5 72.6 69.9 74.7 70.7 75.5 68.5 81.3 67.7 88.6 67 93 68.5 99.6 66.3 97.4 61.9 93 56.8 88.6 52.4 84.2 51.7 78.4 52.4 71.1ZM71.4 74.3 78 71.8 83.8 69.6 88.2 67.4 94 63.8 98.4 59.4 102.8 55 108.6 51.4 113.7 48.5 113.7 63.8 115.2 69.6 116.6 73.3 113 73.3 107.2 72.6 101.3 72.6 95.5 72.6 91.1 73.3 86.7 71.1 80.9 72.6 75 74ZM98.4 60.1 101.3 55 105.7 51.4 111.5 49.2 114.2 48 113.7 51.4 109.3 55 105.7 58.2 102.8 61.6 99.9 62.6ZM113.7 47.7 115.9 43.4 119.6 41.2 124.7 41.2 129.1 43.4 132.7 47 135.2 51.4 135.6 56.5 133.4 62.3 132.3 66.7 132.7 72.6 132 77.7 129.8 81.3 126.9 82.5 123.2 80.6 119.6 76.9 116.6 72.6 114.5 68.2 113.7 63.8 113 56.5ZM114.7 66.4 117.4 64.5 121 63.5 124.7 64.1 128.3 63.2 132.3 64.5 132.7 72.6 132 77.7 129.8 81.3 126.9 82.5 123.2 80.6 119.6 76.9 116.6 72.6ZM84.5 98 87 94 92 91.5 98 90.5 104 90.2 108.5 91.5 110.4 94.5 109 98 106 101 103 104 99 106.5 97.5 107.8 93 107.5 88 106 85 103ZM102.3 104 110 102.8 118 103.2 126 103.5 126.4 105 118 105.3 110 105.6 102.5 105.8ZM127.2 98.8 133 99.5 137.4 100.9 144.7 105.3 140 108 138.8 110.4 136.5 115 135.9 119.2 133 124 131.5 126.5 128.6 119.2 124.2 113.4 128.6 109 126.4 104.6ZM80.4 132.3 89.2 129.4 98 126.5 103.8 132.3 115.5 131.6 122.8 123.6 127.2 122.1 131.5 126.5 132.3 133.8 131.5 148.4 130.1 155.7 129.3 168.8 121.3 171.8 112.6 173.9 105.3 169.6 98 167.4 89.2 165.9 83.4 163.7 77.5 158.6 73.1 146.9 74.6 140.4ZM73.5 141 76 138.5 80 138 82.5 140 82 146 82.5 153 85 159 89 164 90 166.5 86 165.5 82 163.5 77.5 159 74 152 72.5 146ZM118 130 122.8 123.6 127.2 122.1 131.5 126.5 132.3 133.8 131.8 145 131 151 126 148 121 142 117 136ZM89 130 92 128 98 126.5 102 130 104 132.5 100 133.5 94 133 90 132ZM160.7 49.9 162.9 49 166.4 50.3 170.3 52.5 172.1 50.8 172.1 45.5 173.4 43.8 176 43.3 178.2 44.6 180 48.1 181.3 52.5 183 55.1 185.2 52.5 187.8 49.5 189.6 47.3 188.3 45.1 190 43.8 191.8 44.6 193.1 47.3 192.2 50.3 190.9 53.4 193.5 56 196.2 58.6 198.8 60.4 204 61.3 205.4 62.2 201.4 63 198.8 63.9 198.4 67.4 200.5 70 204 71.8 208 73.1 206.7 74.4 200.5 74.4 198.8 75.3 199.7 78.8 201.4 84 204 85.8 205.8 87.6 205.8 91.1 204.5 95.4 202.3 98.1 198.8 98.5 194.4 96.3 190 95.4 186.5 95.4 184.8 97.2 182.2 95.4 178.6 92.8 175.1 91.1 172.5 88.4 170.3 86.7 166.4 84.9 163.8 84.9 165.5 80.5 164.6 76.2 162.9 73.5 162 70 163.8 66.5 166.4 63.9 168.1 62.2 170.8 60.4 167.3 57.8 163.8 56 160.7 53.4ZM184.8 73.5 186.5 74 191.8 76.2 196.2 78.8 199.7 84 202.7 91.1 204 96.3 209.3 95.9 215 97.4 215 98.1 207.6 97 202.7 98.5 200.5 96.3 197.9 91.1 194.4 84 191.8 80.5 190 77.9 187.4 76.2ZM188.3 77 192.7 77 196.2 82.3 198.8 89.3 200.5 95.4 198.8 96.3 196.2 91.1 193.5 84 190 80.5ZM167.3 87.6 169.5 85.4 171.2 84.9 170.3 87.1 168.1 88.9ZM166.3 132.8 173.6 130.7 178 129.2 182.3 121.9 186.7 114.6 190.4 116.1 192.3 123.4 191.1 132.1 186.7 140.9 182.3 145.3 178 148.2 173.6 146.7 169.2 143.8 166.3 139.4ZM204.2 145.3 208.6 146.7 213 149.6 214.7 155.5 213.7 162.8 210.1 167.2 205.7 167.9 201.3 165.7 196.9 164.2 191.1 165 186.7 165.7 192.6 162 198.4 160.6 202.8 155.5 202 149.6ZM161.2 170.1 167.7 167.2 176.5 166.4 186.7 166.4 188.9 171.5 192.6 174.5 195.5 178.8 196.9 184.7 195.5 189.1 188.2 190.5 179.4 191.2 169.2 191.2 161.9 189.8 159 186.1 158.2 178.8ZM160 172 163 169 165 170 164 176 161 178ZM173.6 127.5 177 126.5 178 129.2 176 131.5 174 131Z"/></clipPath></defs>
<g clip-path="url(#cp2)">
<ellipse cx="90.9" cy="502.1" rx="9" ry="5" fill="#f3eaa8" fill-opacity="0.85" filter="url(#blur2)"/>
<ellipse cx="70.1" cy="497.4" rx="12" ry="8" fill="#e6e2c0" fill-opacity="0.6" filter="url(#blur2)"/>
<ellipse cx="98.6" cy="484.7" rx="4" ry="11" fill="#fbe08a" fill-opacity="0.9" filter="url(#blur1)"/>
<ellipse cx="98.8" cy="482.8" rx="2.8" ry="7.5" fill="#f08a35" fill-opacity="1" filter="url(#blur1)"/>
<ellipse cx="99.2" cy="481.8" rx="1.8" ry="6" fill="#c0201f" fill-opacity="1" filter="url(#blur1)"/>
<ellipse cx="99.5" cy="480.9" rx="1" ry="4" fill="#8a0020" fill-opacity="1" filter="url(#blur1)"/>
<ellipse cx="144.2" cy="426.9" rx="10" ry="8" fill="#ebe5b5" fill-opacity="0.7" filter="url(#blur2)"/>
<ellipse cx="150.1" cy="422.2" rx="3" ry="3" fill="#f1e2a0" fill-opacity="0.8" filter="url(#blur2)"/>
<ellipse cx="102.7" cy="459.8" rx="3" ry="2" fill="#ede6b8" fill-opacity="0.7" filter="url(#blur1)"/>
</g>
<path d="M57.6 483.5C57 483.5 54.6 484.5 53.2 485.5C51.8 486.4 50.3 487.9 49.3 489.3C48.3 490.8 47.5 492.6 47.4 494.2C47.2 495.8 47.5 497.5 48.3 498.9C49.1 500.3 50.8 501.7 52.2 502.8C53.7 503.8 55.5 504.7 57.1 505.3C58.7 505.9 60.4 506.4 62 506.6C63.5 506.8 65.5 506.8 66.2 506.6C66.9 506.4 66.8 506.1 66.2 505.6C65.6 505.2 63.8 504.5 62.8 503.7C61.9 502.9 61.1 501.9 60.4 500.8C59.6 499.7 59 498.2 58.4 497C57.9 495.7 57.5 494.5 57.1 493.2C56.7 491.9 56.1 490.6 56.1 489.3C56.1 488 56.8 486.4 57.1 485.5C57.3 484.5 58.3 483.5 57.6 483.5Z" fill="none" stroke="#4dbb4d" stroke-width="2.8" stroke-linejoin="round"/>
<text x="25.2" y="483.9" font-size="6.2" text-anchor="start" font-weight="normal" font-style="normal" fill="#4dbb4d">NK cells</text>
<text x="192.5" y="447.6" font-size="5.4" text-anchor="start" font-weight="normal" font-style="normal" fill="#000">Joint density</text>
<rect x="192.5" y="450.4" width="6.4" height="33" fill="url(#jd)"/>
<text x="202" y="454" font-size="4.2" text-anchor="start" font-weight="normal" font-style="normal" fill="#333">0.0020</text>
<text x="202" y="461.8" font-size="4.2" text-anchor="start" font-weight="normal" font-style="normal" fill="#333">0.0015</text>
<text x="202" y="469.5" font-size="4.2" text-anchor="start" font-weight="normal" font-style="normal" fill="#333">0.0010</text>
<text x="202" y="477.2" font-size="4.2" text-anchor="start" font-weight="normal" font-style="normal" fill="#333">0.0005</text>
<text x="202" y="485" font-size="4.2" text-anchor="start" font-weight="normal" font-style="normal" fill="#333">0.0000</text>
<path d="M247.3 393.5V533.4H412" fill="none" stroke="#333" stroke-width="0.8"/>
<path d="M245.3 396.3h2" stroke="#333" stroke-width="0.6"/>
<text x="244.3" y="397.9" font-size="4.1" text-anchor="end" font-weight="normal" font-style="normal" fill="#4d4d4d">15</text>
<path d="M245.3 419.8h2" stroke="#333" stroke-width="0.6"/>
<text x="244.3" y="421.4" font-size="4.1" text-anchor="end" font-weight="normal" font-style="normal" fill="#4d4d4d">10</text>
<path d="M245.3 443.3h2" stroke="#333" stroke-width="0.6"/>
<text x="244.3" y="444.9" font-size="4.1" text-anchor="end" font-weight="normal" font-style="normal" fill="#4d4d4d">5</text>
<path d="M245.3 466.8h2" stroke="#333" stroke-width="0.6"/>
<text x="244.3" y="468.4" font-size="4.1" text-anchor="end" font-weight="normal" font-style="normal" fill="#4d4d4d">0</text>
<path d="M245.3 490.3h2" stroke="#333" stroke-width="0.6"/>
<text x="244.3" y="491.9" font-size="4.1" text-anchor="end" font-weight="normal" font-style="normal" fill="#4d4d4d">-5</text>
<path d="M245.3 513.8h2" stroke="#333" stroke-width="0.6"/>
<text x="244.3" y="515.4" font-size="4.1" text-anchor="end" font-weight="normal" font-style="normal" fill="#4d4d4d">-10</text>
<path d="M275.4 533.4v2" stroke="#333" stroke-width="0.6"/>
<text x="275.4" y="539.4" font-size="4.1" text-anchor="middle" font-weight="normal" font-style="normal" fill="#4d4d4d">-10</text>
<path d="M304.9 533.4v2" stroke="#333" stroke-width="0.6"/>
<text x="304.9" y="539.4" font-size="4.1" text-anchor="middle" font-weight="normal" font-style="normal" fill="#4d4d4d">-5</text>
<path d="M334.4 533.4v2" stroke="#333" stroke-width="0.6"/>
<text x="334.4" y="539.4" font-size="4.1" text-anchor="middle" font-weight="normal" font-style="normal" fill="#4d4d4d">0</text>
<path d="M363.9 533.4v2" stroke="#333" stroke-width="0.6"/>
<text x="363.9" y="539.4" font-size="4.1" text-anchor="middle" font-weight="normal" font-style="normal" fill="#4d4d4d">5</text>
<path d="M393.4 533.4v2" stroke="#333" stroke-width="0.6"/>
<text x="393.4" y="539.4" font-size="4.1" text-anchor="middle" font-weight="normal" font-style="normal" fill="#4d4d4d">10</text>
<text x="329.6" y="545.5" font-size="5.7" text-anchor="middle" font-weight="normal" font-style="normal" fill="#000">UMAP 1</text>
<text x="237.7" y="463.4" font-size="5.7" text-anchor="middle" font-weight="normal" font-style="normal" fill="#000" transform="rotate(-90 237.7 463.4)">UMAP 2</text>
<g filter="url(#rough)"><g transform="matrix(0.91331 0 0 0.78595 208.363 377.044)"><path d="M84.5 30 88 28.8 92 29.5 94.5 31.5 93 34 95.5 36.5 93.5 36.5 91 34.5 90 37 89.5 39.7 88.5 37 86 34.5 84.5 32.5Z" fill="#c8c8c8"/><path d="M52.8 64.5 56.1 63.8 60.4 68.2 65.5 72.6 69.9 74.7 70.7 75.5 68.5 81.3 67.7 88.6 67 93 68.5 99.6 66.3 97.4 61.9 93 56.8 88.6 52.4 84.2 51.7 78.4 52.4 71.1Z" fill="#c8c8c8"/><path d="M71.4 74.3 78 71.8 83.8 69.6 88.2 67.4 94 63.8 98.4 59.4 102.8 55 108.6 51.4 113.7 48.5 113.7 63.8 115.2 69.6 116.6 73.3 113 73.3 107.2 72.6 101.3 72.6 95.5 72.6 91.1 73.3 86.7 71.1 80.9 72.6 75 74Z" fill="#c8c8c8"/><path d="M98.4 60.1 101.3 55 105.7 51.4 111.5 49.2 114.2 48 113.7 51.4 109.3 55 105.7 58.2 102.8 61.6 99.9 62.6Z" fill="#c8c8c8"/><path d="M113.7 47.7 115.9 43.4 119.6 41.2 124.7 41.2 129.1 43.4 132.7 47 135.2 51.4 135.6 56.5 133.4 62.3 132.3 66.7 132.7 72.6 132 77.7 129.8 81.3 126.9 82.5 123.2 80.6 119.6 76.9 116.6 72.6 114.5 68.2 113.7 63.8 113 56.5Z" fill="#c8c8c8"/><path d="M114.7 66.4 117.4 64.5 121 63.5 124.7 64.1 128.3 63.2 132.3 64.5 132.7 72.6 132 77.7 129.8 81.3 126.9 82.5 123.2 80.6 119.6 76.9 116.6 72.6Z" fill="#c8c8c8"/><path d="M84.5 98 87 94 92 91.5 98 90.5 104 90.2 108.5 91.5 110.4 94.5 109 98 106 101 103 104 99 106.5 97.5 107.8 93 107.5 88 106 85 103Z" fill="#c8c8c8"/><path d="M102.3 104 110 102.8 118 103.2 126 103.5 126.4 105 118 105.3 110 105.6 102.5 105.8Z" fill="#c8c8c8"/><path d="M127.2 98.8 133 99.5 137.4 100.9 144.7 105.3 140 108 138.8 110.4 136.5 115 135.9 119.2 133 124 131.5 126.5 128.6 119.2 124.2 113.4 128.6 109 126.4 104.6Z" fill="#c8c8c8"/><path d="M80.4 132.3 89.2 129.4 98 126.5 103.8 132.3 115.5 131.6 122.8 123.6 127.2 122.1 131.5 126.5 132.3 133.8 131.5 148.4 130.1 155.7 129.3 168.8 121.3 171.8 112.6 173.9 105.3 169.6 98 167.4 89.2 165.9 83.4 163.7 77.5 158.6 73.1 146.9 74.6 140.4Z" fill="#c8c8c8"/><path d="M73.5 141 76 138.5 80 138 82.5 140 82 146 82.5 153 85 159 89 164 90 166.5 86 165.5 82 163.5 77.5 159 74 152 72.5 146Z" fill="#c8c8c8"/><path d="M118 130 122.8 123.6 127.2 122.1 131.5 126.5 132.3 133.8 131.8 145 131 151 126 148 121 142 117 136Z" fill="#c8c8c8"/><path d="M89 130 92 128 98 126.5 102 130 104 132.5 100 133.5 94 133 90 132Z" fill="#c8c8c8"/><path d="M160.7 49.9 162.9 49 166.4 50.3 170.3 52.5 172.1 50.8 172.1 45.5 173.4 43.8 176 43.3 178.2 44.6 180 48.1 181.3 52.5 183 55.1 185.2 52.5 187.8 49.5 189.6 47.3 188.3 45.1 190 43.8 191.8 44.6 193.1 47.3 192.2 50.3 190.9 53.4 193.5 56 196.2 58.6 198.8 60.4 204 61.3 205.4 62.2 201.4 63 198.8 63.9 198.4 67.4 200.5 70 204 71.8 208 73.1 206.7 74.4 200.5 74.4 198.8 75.3 199.7 78.8 201.4 84 204 85.8 205.8 87.6 205.8 91.1 204.5 95.4 202.3 98.1 198.8 98.5 194.4 96.3 190 95.4 186.5 95.4 184.8 97.2 182.2 95.4 178.6 92.8 175.1 91.1 172.5 88.4 170.3 86.7 166.4 84.9 163.8 84.9 165.5 80.5 164.6 76.2 162.9 73.5 162 70 163.8 66.5 166.4 63.9 168.1 62.2 170.8 60.4 167.3 57.8 163.8 56 160.7 53.4Z" fill="#c8c8c8"/><path d="M184.8 73.5 186.5 74 191.8 76.2 196.2 78.8 199.7 84 202.7 91.1 204 96.3 209.3 95.9 215 97.4 215 98.1 207.6 97 202.7 98.5 200.5 96.3 197.9 91.1 194.4 84 191.8 80.5 190 77.9 187.4 76.2Z" fill="#c8c8c8"/><path d="M188.3 77 192.7 77 196.2 82.3 198.8 89.3 200.5 95.4 198.8 96.3 196.2 91.1 193.5 84 190 80.5Z" fill="#c8c8c8"/><path d="M167.3 87.6 169.5 85.4 171.2 84.9 170.3 87.1 168.1 88.9Z" fill="#c8c8c8"/><path d="M166.3 132.8 173.6 130.7 178 129.2 182.3 121.9 186.7 114.6 190.4 116.1 192.3 123.4 191.1 132.1 186.7 140.9 182.3 145.3 178 148.2 173.6 146.7 169.2 143.8 166.3 139.4Z" fill="#c8c8c8"/><path d="M204.2 145.3 208.6 146.7 213 149.6 214.7 155.5 213.7 162.8 210.1 167.2 205.7 167.9 201.3 165.7 196.9 164.2 191.1 165 186.7 165.7 192.6 162 198.4 160.6 202.8 155.5 202 149.6Z" fill="#c8c8c8"/><path d="M161.2 170.1 167.7 167.2 176.5 166.4 186.7 166.4 188.9 171.5 192.6 174.5 195.5 178.8 196.9 184.7 195.5 189.1 188.2 190.5 179.4 191.2 169.2 191.2 161.9 189.8 159 186.1 158.2 178.8Z" fill="#c8c8c8"/><path d="M160 172 163 169 165 170 164 176 161 178Z" fill="#c8c8c8"/><path d="M173.6 127.5 177 126.5 178 129.2 176 131.5 174 131Z" fill="#c8c8c8"/></g></g>
<defs><clipPath id="cp3"><path transform="matrix(0.91331 0 0 0.78595 208.363 377.044)" d="M84.5 30 88 28.8 92 29.5 94.5 31.5 93 34 95.5 36.5 93.5 36.5 91 34.5 90 37 89.5 39.7 88.5 37 86 34.5 84.5 32.5ZM52.8 64.5 56.1 63.8 60.4 68.2 65.5 72.6 69.9 74.7 70.7 75.5 68.5 81.3 67.7 88.6 67 93 68.5 99.6 66.3 97.4 61.9 93 56.8 88.6 52.4 84.2 51.7 78.4 52.4 71.1ZM71.4 74.3 78 71.8 83.8 69.6 88.2 67.4 94 63.8 98.4 59.4 102.8 55 108.6 51.4 113.7 48.5 113.7 63.8 115.2 69.6 116.6 73.3 113 73.3 107.2 72.6 101.3 72.6 95.5 72.6 91.1 73.3 86.7 71.1 80.9 72.6 75 74ZM98.4 60.1 101.3 55 105.7 51.4 111.5 49.2 114.2 48 113.7 51.4 109.3 55 105.7 58.2 102.8 61.6 99.9 62.6ZM113.7 47.7 115.9 43.4 119.6 41.2 124.7 41.2 129.1 43.4 132.7 47 135.2 51.4 135.6 56.5 133.4 62.3 132.3 66.7 132.7 72.6 132 77.7 129.8 81.3 126.9 82.5 123.2 80.6 119.6 76.9 116.6 72.6 114.5 68.2 113.7 63.8 113 56.5ZM114.7 66.4 117.4 64.5 121 63.5 124.7 64.1 128.3 63.2 132.3 64.5 132.7 72.6 132 77.7 129.8 81.3 126.9 82.5 123.2 80.6 119.6 76.9 116.6 72.6ZM84.5 98 87 94 92 91.5 98 90.5 104 90.2 108.5 91.5 110.4 94.5 109 98 106 101 103 104 99 106.5 97.5 107.8 93 107.5 88 106 85 103ZM102.3 104 110 102.8 118 103.2 126 103.5 126.4 105 118 105.3 110 105.6 102.5 105.8ZM127.2 98.8 133 99.5 137.4 100.9 144.7 105.3 140 108 138.8 110.4 136.5 115 135.9 119.2 133 124 131.5 126.5 128.6 119.2 124.2 113.4 128.6 109 126.4 104.6ZM80.4 132.3 89.2 129.4 98 126.5 103.8 132.3 115.5 131.6 122.8 123.6 127.2 122.1 131.5 126.5 132.3 133.8 131.5 148.4 130.1 155.7 129.3 168.8 121.3 171.8 112.6 173.9 105.3 169.6 98 167.4 89.2 165.9 83.4 163.7 77.5 158.6 73.1 146.9 74.6 140.4ZM73.5 141 76 138.5 80 138 82.5 140 82 146 82.5 153 85 159 89 164 90 166.5 86 165.5 82 163.5 77.5 159 74 152 72.5 146ZM118 130 122.8 123.6 127.2 122.1 131.5 126.5 132.3 133.8 131.8 145 131 151 126 148 121 142 117 136ZM89 130 92 128 98 126.5 102 130 104 132.5 100 133.5 94 133 90 132ZM160.7 49.9 162.9 49 166.4 50.3 170.3 52.5 172.1 50.8 172.1 45.5 173.4 43.8 176 43.3 178.2 44.6 180 48.1 181.3 52.5 183 55.1 185.2 52.5 187.8 49.5 189.6 47.3 188.3 45.1 190 43.8 191.8 44.6 193.1 47.3 192.2 50.3 190.9 53.4 193.5 56 196.2 58.6 198.8 60.4 204 61.3 205.4 62.2 201.4 63 198.8 63.9 198.4 67.4 200.5 70 204 71.8 208 73.1 206.7 74.4 200.5 74.4 198.8 75.3 199.7 78.8 201.4 84 204 85.8 205.8 87.6 205.8 91.1 204.5 95.4 202.3 98.1 198.8 98.5 194.4 96.3 190 95.4 186.5 95.4 184.8 97.2 182.2 95.4 178.6 92.8 175.1 91.1 172.5 88.4 170.3 86.7 166.4 84.9 163.8 84.9 165.5 80.5 164.6 76.2 162.9 73.5 162 70 163.8 66.5 166.4 63.9 168.1 62.2 170.8 60.4 167.3 57.8 163.8 56 160.7 53.4ZM184.8 73.5 186.5 74 191.8 76.2 196.2 78.8 199.7 84 202.7 91.1 204 96.3 209.3 95.9 215 97.4 215 98.1 207.6 97 202.7 98.5 200.5 96.3 197.9 91.1 194.4 84 191.8 80.5 190 77.9 187.4 76.2ZM188.3 77 192.7 77 196.2 82.3 198.8 89.3 200.5 95.4 198.8 96.3 196.2 91.1 193.5 84 190 80.5ZM167.3 87.6 169.5 85.4 171.2 84.9 170.3 87.1 168.1 88.9ZM166.3 132.8 173.6 130.7 178 129.2 182.3 121.9 186.7 114.6 190.4 116.1 192.3 123.4 191.1 132.1 186.7 140.9 182.3 145.3 178 148.2 173.6 146.7 169.2 143.8 166.3 139.4ZM204.2 145.3 208.6 146.7 213 149.6 214.7 155.5 213.7 162.8 210.1 167.2 205.7 167.9 201.3 165.7 196.9 164.2 191.1 165 186.7 165.7 192.6 162 198.4 160.6 202.8 155.5 202 149.6ZM161.2 170.1 167.7 167.2 176.5 166.4 186.7 166.4 188.9 171.5 192.6 174.5 195.5 178.8 196.9 184.7 195.5 189.1 188.2 190.5 179.4 191.2 169.2 191.2 161.9 189.8 159 186.1 158.2 178.8ZM160 172 163 169 165 170 164 176 161 178ZM173.6 127.5 177 126.5 178 129.2 176 131.5 174 131Z"/></clipPath></defs>
<g clip-path="url(#cp3)">
<rect x="247.3" y="390" width="170" height="145" fill="#efe4a8" fill-opacity="0.18"/>
<ellipse cx="285.4" cy="494.1" rx="5" ry="11" fill="#f8e7a0" fill-opacity="1" filter="url(#blur2)"/>
<ellipse cx="304.9" cy="497.4" rx="12" ry="8" fill="#f1e4a8" fill-opacity="0.7" filter="url(#blur2)"/>
<path d="M326.1 477.6 325 487.9 321.4 497.4 314.9 503.5" fill="none" stroke="#f9d77a" stroke-width="7" stroke-opacity="0.95" stroke-linecap="round" filter="url(#blur2)"/>
<path d="M326.1 478.6 325 487.9 321.4 497.4 315.5 502.5" fill="none" stroke="#f5a54a" stroke-width="3.5" stroke-opacity="1" stroke-linecap="round" filter="url(#blur1)"/>
<ellipse cx="314.9" cy="502.5" rx="3.5" ry="3" fill="#e0402a" fill-opacity="1" filter="url(#blur1)"/>
<ellipse cx="314.6" cy="503" rx="2" ry="1.8" fill="#b0101f" fill-opacity="1" filter="url(#blur1)"/>
<ellipse cx="325.3" cy="482.3" rx="2.5" ry="6.5" fill="#d93a25" fill-opacity="1" filter="url(#blur1)"/>
<ellipse cx="325.5" cy="481.4" rx="1.4" ry="4.5" fill="#8f0520" fill-opacity="1" filter="url(#blur1)"/>
<ellipse cx="375.7" cy="426.9" rx="6" ry="4" fill="#f7c060" fill-opacity="0.9" filter="url(#blur1)"/>
<ellipse cx="375.7" cy="426.4" rx="2.5" ry="2" fill="#ee8a3a" fill-opacity="1" filter="url(#blur1)"/>
<path d="M375.7 429.2 387.5 438.6 396.3 450.4" fill="none" stroke="#f5dc90" stroke-width="4" stroke-opacity="0.9" stroke-linecap="round" filter="url(#blur2)"/>
<ellipse cx="260.6" cy="440.9" rx="5" ry="6" fill="#f8e4a0" fill-opacity="1" filter="url(#blur1)"/>
<ellipse cx="290.1" cy="403.4" rx="2.5" ry="1.5" fill="#f8e4a0" fill-opacity="1" filter="url(#blur1)"/>
<ellipse cx="372.8" cy="485.6" rx="6" ry="9" fill="#f6e6a8" fill-opacity="0.9" filter="url(#blur2)"/>
<ellipse cx="366.8" cy="520.9" rx="12" ry="5" fill="#efe6c0" fill-opacity="0.6" filter="url(#blur2)"/>
<ellipse cx="328.5" cy="461.2" rx="3" ry="2" fill="#f5e09a" fill-opacity="0.9" filter="url(#blur1)"/>
<ellipse cx="316.7" cy="419.8" rx="6" ry="5" fill="#efe4b0" fill-opacity="0.6" filter="url(#blur2)"/>
</g>
<path d="M283.6 483.5C282.9 483.5 280.6 484.5 279.2 485.5C277.8 486.4 276.3 487.9 275.3 489.3C274.3 490.8 273.5 492.6 273.4 494.2C273.2 495.8 273.5 497.5 274.3 498.9C275.2 500.3 276.8 501.7 278.2 502.8C279.7 503.8 281.4 504.7 283.1 505.3C284.7 505.9 286.4 506.4 287.9 506.6C289.4 506.8 291.4 506.8 292.1 506.6C292.8 506.4 292.7 506.1 292.1 505.6C291.6 505.2 289.8 504.5 288.8 503.7C287.8 502.9 287.1 501.9 286.3 500.8C285.6 499.7 284.9 498.2 284.4 497C283.8 495.7 283.4 494.5 283.1 493.2C282.7 491.9 282.1 490.6 282.1 489.3C282.1 488 282.8 486.4 283.1 485.5C283.3 484.5 284.2 483.5 283.6 483.5Z" fill="none" stroke="#4dbb4d" stroke-width="2.8" stroke-linejoin="round"/>
<text x="253.3" y="483.9" font-size="6.2" text-anchor="start" font-weight="normal" font-style="normal" fill="#4dbb4d">NK cells</text>
<text x="419.2" y="447.6" font-size="5.4" text-anchor="start" font-weight="normal" font-style="normal" fill="#000">Joint density</text>
<rect x="419.2" y="450.4" width="6.4" height="33" fill="url(#jd)"/>
<text x="428.7" y="454" font-size="4.2" text-anchor="start" font-weight="normal" font-style="normal" fill="#333">6e-04</text>
<text x="428.7" y="460.2" font-size="4.2" text-anchor="start" font-weight="normal" font-style="normal" fill="#333">5e-04</text>
<text x="428.7" y="466.4" font-size="4.2" text-anchor="start" font-weight="normal" font-style="normal" fill="#333">4e-04</text>
<text x="428.7" y="472.6" font-size="4.2" text-anchor="start" font-weight="normal" font-style="normal" fill="#333">3e-04</text>
<text x="428.7" y="478.8" font-size="4.2" text-anchor="start" font-weight="normal" font-style="normal" fill="#333">2e-04</text>
<text x="428.7" y="485" font-size="4.2" text-anchor="start" font-weight="normal" font-style="normal" fill="#333">1e-04</text>
<path d="M473 393.5V533.4H637.7" fill="none" stroke="#333" stroke-width="0.8"/>
<path d="M471 396.3h2" stroke="#333" stroke-width="0.6"/>
<text x="470" y="397.9" font-size="4.1" text-anchor="end" font-weight="normal" font-style="normal" fill="#4d4d4d">15</text>
<path d="M471 419.8h2" stroke="#333" stroke-width="0.6"/>
<text x="470" y="421.4" font-size="4.1" text-anchor="end" font-weight="normal" font-style="normal" fill="#4d4d4d">10</text>
<path d="M471 443.3h2" stroke="#333" stroke-width="0.6"/>
<text x="470" y="444.9" font-size="4.1" text-anchor="end" font-weight="normal" font-style="normal" fill="#4d4d4d">5</text>
<path d="M471 466.8h2" stroke="#333" stroke-width="0.6"/>
<text x="470" y="468.4" font-size="4.1" text-anchor="end" font-weight="normal" font-style="normal" fill="#4d4d4d">0</text>
<path d="M471 490.3h2" stroke="#333" stroke-width="0.6"/>
<text x="470" y="491.9" font-size="4.1" text-anchor="end" font-weight="normal" font-style="normal" fill="#4d4d4d">-5</text>
<path d="M471 513.8h2" stroke="#333" stroke-width="0.6"/>
<text x="470" y="515.4" font-size="4.1" text-anchor="end" font-weight="normal" font-style="normal" fill="#4d4d4d">-10</text>
<path d="M500.4 533.4v2" stroke="#333" stroke-width="0.6"/>
<text x="500.4" y="539.4" font-size="4.1" text-anchor="middle" font-weight="normal" font-style="normal" fill="#4d4d4d">-10</text>
<path d="M530 533.4v2" stroke="#333" stroke-width="0.6"/>
<text x="530" y="539.4" font-size="4.1" text-anchor="middle" font-weight="normal" font-style="normal" fill="#4d4d4d">-5</text>
<path d="M559.6 533.4v2" stroke="#333" stroke-width="0.6"/>
<text x="559.6" y="539.4" font-size="4.1" text-anchor="middle" font-weight="normal" font-style="normal" fill="#4d4d4d">0</text>
<path d="M589.2 533.4v2" stroke="#333" stroke-width="0.6"/>
<text x="589.2" y="539.4" font-size="4.1" text-anchor="middle" font-weight="normal" font-style="normal" fill="#4d4d4d">5</text>
<path d="M618.8 533.4v2" stroke="#333" stroke-width="0.6"/>
<text x="618.8" y="539.4" font-size="4.1" text-anchor="middle" font-weight="normal" font-style="normal" fill="#4d4d4d">10</text>
<text x="555.4" y="545.5" font-size="5.7" text-anchor="middle" font-weight="normal" font-style="normal" fill="#000">UMAP 1</text>
<text x="463.4" y="463.4" font-size="5.7" text-anchor="middle" font-weight="normal" font-style="normal" fill="#000" transform="rotate(-90 463.4 463.4)">UMAP 2</text>
<g filter="url(#rough)"><g transform="matrix(0.91641 0 0 0.78595 433.136 377.044)"><path d="M84.5 30 88 28.8 92 29.5 94.5 31.5 93 34 95.5 36.5 93.5 36.5 91 34.5 90 37 89.5 39.7 88.5 37 86 34.5 84.5 32.5Z" fill="#c8c8c8"/><path d="M52.8 64.5 56.1 63.8 60.4 68.2 65.5 72.6 69.9 74.7 70.7 75.5 68.5 81.3 67.7 88.6 67 93 68.5 99.6 66.3 97.4 61.9 93 56.8 88.6 52.4 84.2 51.7 78.4 52.4 71.1Z" fill="#c8c8c8"/><path d="M71.4 74.3 78 71.8 83.8 69.6 88.2 67.4 94 63.8 98.4 59.4 102.8 55 108.6 51.4 113.7 48.5 113.7 63.8 115.2 69.6 116.6 73.3 113 73.3 107.2 72.6 101.3 72.6 95.5 72.6 91.1 73.3 86.7 71.1 80.9 72.6 75 74Z" fill="#c8c8c8"/><path d="M98.4 60.1 101.3 55 105.7 51.4 111.5 49.2 114.2 48 113.7 51.4 109.3 55 105.7 58.2 102.8 61.6 99.9 62.6Z" fill="#c8c8c8"/><path d="M113.7 47.7 115.9 43.4 119.6 41.2 124.7 41.2 129.1 43.4 132.7 47 135.2 51.4 135.6 56.5 133.4 62.3 132.3 66.7 132.7 72.6 132 77.7 129.8 81.3 126.9 82.5 123.2 80.6 119.6 76.9 116.6 72.6 114.5 68.2 113.7 63.8 113 56.5Z" fill="#c8c8c8"/><path d="M114.7 66.4 117.4 64.5 121 63.5 124.7 64.1 128.3 63.2 132.3 64.5 132.7 72.6 132 77.7 129.8 81.3 126.9 82.5 123.2 80.6 119.6 76.9 116.6 72.6Z" fill="#c8c8c8"/><path d="M84.5 98 87 94 92 91.5 98 90.5 104 90.2 108.5 91.5 110.4 94.5 109 98 106 101 103 104 99 106.5 97.5 107.8 93 107.5 88 106 85 103Z" fill="#c8c8c8"/><path d="M102.3 104 110 102.8 118 103.2 126 103.5 126.4 105 118 105.3 110 105.6 102.5 105.8Z" fill="#c8c8c8"/><path d="M127.2 98.8 133 99.5 137.4 100.9 144.7 105.3 140 108 138.8 110.4 136.5 115 135.9 119.2 133 124 131.5 126.5 128.6 119.2 124.2 113.4 128.6 109 126.4 104.6Z" fill="#c8c8c8"/><path d="M80.4 132.3 89.2 129.4 98 126.5 103.8 132.3 115.5 131.6 122.8 123.6 127.2 122.1 131.5 126.5 132.3 133.8 131.5 148.4 130.1 155.7 129.3 168.8 121.3 171.8 112.6 173.9 105.3 169.6 98 167.4 89.2 165.9 83.4 163.7 77.5 158.6 73.1 146.9 74.6 140.4Z" fill="#c8c8c8"/><path d="M73.5 141 76 138.5 80 138 82.5 140 82 146 82.5 153 85 159 89 164 90 166.5 86 165.5 82 163.5 77.5 159 74 152 72.5 146Z" fill="#c8c8c8"/><path d="M118 130 122.8 123.6 127.2 122.1 131.5 126.5 132.3 133.8 131.8 145 131 151 126 148 121 142 117 136Z" fill="#c8c8c8"/><path d="M89 130 92 128 98 126.5 102 130 104 132.5 100 133.5 94 133 90 132Z" fill="#c8c8c8"/><path d="M160.7 49.9 162.9 49 166.4 50.3 170.3 52.5 172.1 50.8 172.1 45.5 173.4 43.8 176 43.3 178.2 44.6 180 48.1 181.3 52.5 183 55.1 185.2 52.5 187.8 49.5 189.6 47.3 188.3 45.1 190 43.8 191.8 44.6 193.1 47.3 192.2 50.3 190.9 53.4 193.5 56 196.2 58.6 198.8 60.4 204 61.3 205.4 62.2 201.4 63 198.8 63.9 198.4 67.4 200.5 70 204 71.8 208 73.1 206.7 74.4 200.5 74.4 198.8 75.3 199.7 78.8 201.4 84 204 85.8 205.8 87.6 205.8 91.1 204.5 95.4 202.3 98.1 198.8 98.5 194.4 96.3 190 95.4 186.5 95.4 184.8 97.2 182.2 95.4 178.6 92.8 175.1 91.1 172.5 88.4 170.3 86.7 166.4 84.9 163.8 84.9 165.5 80.5 164.6 76.2 162.9 73.5 162 70 163.8 66.5 166.4 63.9 168.1 62.2 170.8 60.4 167.3 57.8 163.8 56 160.7 53.4Z" fill="#c8c8c8"/><path d="M184.8 73.5 186.5 74 191.8 76.2 196.2 78.8 199.7 84 202.7 91.1 204 96.3 209.3 95.9 215 97.4 215 98.1 207.6 97 202.7 98.5 200.5 96.3 197.9 91.1 194.4 84 191.8 80.5 190 77.9 187.4 76.2Z" fill="#c8c8c8"/><path d="M188.3 77 192.7 77 196.2 82.3 198.8 89.3 200.5 95.4 198.8 96.3 196.2 91.1 193.5 84 190 80.5Z" fill="#c8c8c8"/><path d="M167.3 87.6 169.5 85.4 171.2 84.9 170.3 87.1 168.1 88.9Z" fill="#c8c8c8"/><path d="M166.3 132.8 173.6 130.7 178 129.2 182.3 121.9 186.7 114.6 190.4 116.1 192.3 123.4 191.1 132.1 186.7 140.9 182.3 145.3 178 148.2 173.6 146.7 169.2 143.8 166.3 139.4Z" fill="#c8c8c8"/><path d="M204.2 145.3 208.6 146.7 213 149.6 214.7 155.5 213.7 162.8 210.1 167.2 205.7 167.9 201.3 165.7 196.9 164.2 191.1 165 186.7 165.7 192.6 162 198.4 160.6 202.8 155.5 202 149.6Z" fill="#c8c8c8"/><path d="M161.2 170.1 167.7 167.2 176.5 166.4 186.7 166.4 188.9 171.5 192.6 174.5 195.5 178.8 196.9 184.7 195.5 189.1 188.2 190.5 179.4 191.2 169.2 191.2 161.9 189.8 159 186.1 158.2 178.8Z" fill="#c8c8c8"/><path d="M160 172 163 169 165 170 164 176 161 178Z" fill="#c8c8c8"/><path d="M173.6 127.5 177 126.5 178 129.2 176 131.5 174 131Z" fill="#c8c8c8"/></g></g>
<defs><clipPath id="cp4"><path transform="matrix(0.91641 0 0 0.78595 433.136 377.044)" d="M84.5 30 88 28.8 92 29.5 94.5 31.5 93 34 95.5 36.5 93.5 36.5 91 34.5 90 37 89.5 39.7 88.5 37 86 34.5 84.5 32.5ZM52.8 64.5 56.1 63.8 60.4 68.2 65.5 72.6 69.9 74.7 70.7 75.5 68.5 81.3 67.7 88.6 67 93 68.5 99.6 66.3 97.4 61.9 93 56.8 88.6 52.4 84.2 51.7 78.4 52.4 71.1ZM71.4 74.3 78 71.8 83.8 69.6 88.2 67.4 94 63.8 98.4 59.4 102.8 55 108.6 51.4 113.7 48.5 113.7 63.8 115.2 69.6 116.6 73.3 113 73.3 107.2 72.6 101.3 72.6 95.5 72.6 91.1 73.3 86.7 71.1 80.9 72.6 75 74ZM98.4 60.1 101.3 55 105.7 51.4 111.5 49.2 114.2 48 113.7 51.4 109.3 55 105.7 58.2 102.8 61.6 99.9 62.6ZM113.7 47.7 115.9 43.4 119.6 41.2 124.7 41.2 129.1 43.4 132.7 47 135.2 51.4 135.6 56.5 133.4 62.3 132.3 66.7 132.7 72.6 132 77.7 129.8 81.3 126.9 82.5 123.2 80.6 119.6 76.9 116.6 72.6 114.5 68.2 113.7 63.8 113 56.5ZM114.7 66.4 117.4 64.5 121 63.5 124.7 64.1 128.3 63.2 132.3 64.5 132.7 72.6 132 77.7 129.8 81.3 126.9 82.5 123.2 80.6 119.6 76.9 116.6 72.6ZM84.5 98 87 94 92 91.5 98 90.5 104 90.2 108.5 91.5 110.4 94.5 109 98 106 101 103 104 99 106.5 97.5 107.8 93 107.5 88 106 85 103ZM102.3 104 110 102.8 118 103.2 126 103.5 126.4 105 118 105.3 110 105.6 102.5 105.8ZM127.2 98.8 133 99.5 137.4 100.9 144.7 105.3 140 108 138.8 110.4 136.5 115 135.9 119.2 133 124 131.5 126.5 128.6 119.2 124.2 113.4 128.6 109 126.4 104.6ZM80.4 132.3 89.2 129.4 98 126.5 103.8 132.3 115.5 131.6 122.8 123.6 127.2 122.1 131.5 126.5 132.3 133.8 131.5 148.4 130.1 155.7 129.3 168.8 121.3 171.8 112.6 173.9 105.3 169.6 98 167.4 89.2 165.9 83.4 163.7 77.5 158.6 73.1 146.9 74.6 140.4ZM73.5 141 76 138.5 80 138 82.5 140 82 146 82.5 153 85 159 89 164 90 166.5 86 165.5 82 163.5 77.5 159 74 152 72.5 146ZM118 130 122.8 123.6 127.2 122.1 131.5 126.5 132.3 133.8 131.8 145 131 151 126 148 121 142 117 136ZM89 130 92 128 98 126.5 102 130 104 132.5 100 133.5 94 133 90 132ZM160.7 49.9 162.9 49 166.4 50.3 170.3 52.5 172.1 50.8 172.1 45.5 173.4 43.8 176 43.3 178.2 44.6 180 48.1 181.3 52.5 183 55.1 185.2 52.5 187.8 49.5 189.6 47.3 188.3 45.1 190 43.8 191.8 44.6 193.1 47.3 192.2 50.3 190.9 53.4 193.5 56 196.2 58.6 198.8 60.4 204 61.3 205.4 62.2 201.4 63 198.8 63.9 198.4 67.4 200.5 70 204 71.8 208 73.1 206.7 74.4 200.5 74.4 198.8 75.3 199.7 78.8 201.4 84 204 85.8 205.8 87.6 205.8 91.1 204.5 95.4 202.3 98.1 198.8 98.5 194.4 96.3 190 95.4 186.5 95.4 184.8 97.2 182.2 95.4 178.6 92.8 175.1 91.1 172.5 88.4 170.3 86.7 166.4 84.9 163.8 84.9 165.5 80.5 164.6 76.2 162.9 73.5 162 70 163.8 66.5 166.4 63.9 168.1 62.2 170.8 60.4 167.3 57.8 163.8 56 160.7 53.4ZM184.8 73.5 186.5 74 191.8 76.2 196.2 78.8 199.7 84 202.7 91.1 204 96.3 209.3 95.9 215 97.4 215 98.1 207.6 97 202.7 98.5 200.5 96.3 197.9 91.1 194.4 84 191.8 80.5 190 77.9 187.4 76.2ZM188.3 77 192.7 77 196.2 82.3 198.8 89.3 200.5 95.4 198.8 96.3 196.2 91.1 193.5 84 190 80.5ZM167.3 87.6 169.5 85.4 171.2 84.9 170.3 87.1 168.1 88.9ZM166.3 132.8 173.6 130.7 178 129.2 182.3 121.9 186.7 114.6 190.4 116.1 192.3 123.4 191.1 132.1 186.7 140.9 182.3 145.3 178 148.2 173.6 146.7 169.2 143.8 166.3 139.4ZM204.2 145.3 208.6 146.7 213 149.6 214.7 155.5 213.7 162.8 210.1 167.2 205.7 167.9 201.3 165.7 196.9 164.2 191.1 165 186.7 165.7 192.6 162 198.4 160.6 202.8 155.5 202 149.6ZM161.2 170.1 167.7 167.2 176.5 166.4 186.7 166.4 188.9 171.5 192.6 174.5 195.5 178.8 196.9 184.7 195.5 189.1 188.2 190.5 179.4 191.2 169.2 191.2 161.9 189.8 159 186.1 158.2 178.8ZM160 172 163 169 165 170 164 176 161 178ZM173.6 127.5 177 126.5 178 129.2 176 131.5 174 131Z"/></clipPath></defs>
<g clip-path="url(#cp4)">
<ellipse cx="510.5" cy="495" rx="6" ry="10" fill="#efe6b0" fill-opacity="0.9" filter="url(#blur2)"/>
<ellipse cx="533" cy="504.4" rx="10" ry="5" fill="#efe6b8" fill-opacity="0.8" filter="url(#blur2)"/>
<ellipse cx="535.9" cy="487.9" rx="8" ry="5" fill="#ebe5c0" fill-opacity="0.6" filter="url(#blur2)"/>
<ellipse cx="549.4" cy="485.1" rx="4" ry="12" fill="#fbe08a" fill-opacity="0.95" filter="url(#blur1)"/>
<ellipse cx="549.5" cy="483.2" rx="2.6" ry="8" fill="#ef7a30" fill-opacity="1" filter="url(#blur1)"/>
<ellipse cx="549.8" cy="481.8" rx="1.8" ry="6" fill="#c3201f" fill-opacity="1" filter="url(#blur1)"/>
<ellipse cx="550.1" cy="480.9" rx="1" ry="4" fill="#8a0020" fill-opacity="1" filter="url(#blur1)"/>
<ellipse cx="553.7" cy="459.8" rx="3" ry="2" fill="#f2e2a0" fill-opacity="0.9" filter="url(#blur1)"/>
<ellipse cx="595.1" cy="438.6" rx="10" ry="8" fill="#ebe6c8" fill-opacity="0.5" filter="url(#blur2)"/>
</g>
<path d="M508.6 483.5C508 483.5 505.6 484.5 504.2 485.5C502.8 486.4 501.3 487.9 500.3 489.3C499.3 490.8 498.5 492.6 498.4 494.2C498.2 495.8 498.5 497.5 499.3 498.9C500.1 500.3 501.8 501.7 503.2 502.8C504.7 503.8 506.5 504.7 508.1 505.3C509.7 505.9 511.4 506.4 512.9 506.6C514.5 506.8 516.5 506.8 517.2 506.6C517.9 506.4 517.7 506.1 517.2 505.6C516.6 505.2 514.8 504.5 513.8 503.7C512.9 502.9 512.1 501.9 511.4 500.8C510.6 499.7 510 498.2 509.4 497C508.9 495.7 508.5 494.5 508.1 493.2C507.7 491.9 507.1 490.6 507.1 489.3C507.1 488 507.8 486.4 508.1 485.5C508.3 484.5 509.3 483.5 508.6 483.5Z" fill="none" stroke="#4dbb4d" stroke-width="2.8" stroke-linejoin="round"/>
<text x="475.8" y="483.9" font-size="6.2" text-anchor="start" font-weight="normal" font-style="normal" fill="#4dbb4d">NK cells</text>
<text x="644.5" y="447.6" font-size="5.4" text-anchor="start" font-weight="normal" font-style="normal" fill="#000">Joint density</text>
<rect x="644.5" y="450.4" width="6.4" height="33" fill="url(#jd)"/>
<text x="654" y="454" font-size="4.2" text-anchor="start" font-weight="normal" font-style="normal" fill="#333">0.003</text>
<text x="654" y="464.3" font-size="4.2" text-anchor="start" font-weight="normal" font-style="normal" fill="#333">0.002</text>
<text x="654" y="474.7" font-size="4.2" text-anchor="start" font-weight="normal" font-style="normal" fill="#333">0.001</text>
<text x="654" y="485" font-size="4.2" text-anchor="start" font-weight="normal" font-style="normal" fill="#333">0.000</text>
<text x="0" y="558.5" font-size="11" font-weight="bold">f</text>
<rect x="29.2" y="556.6" width="211.6" height="6" fill="#d9d9d9" stroke="#333" stroke-width="0.6"/>
<text x="135" y="561.4" font-size="4.1" text-anchor="middle" font-weight="bold" font-style="normal" fill="#1a1a1a">KCL-like signature</text>
<path d="M29.2 664.3H240.8" stroke="#ebebeb" stroke-width="0.5"/>
<path d="M29.2 627.1H240.8" stroke="#ebebeb" stroke-width="0.5"/>
<path d="M29.2 590H240.8" stroke="#ebebeb" stroke-width="0.5"/>
<path d="M44.5 562.6V688.3" stroke="#ebebeb" stroke-width="0.5"/>
<path d="M70.4 562.6V688.3" stroke="#ebebeb" stroke-width="0.5"/>
<path d="M96.2 562.6V688.3" stroke="#ebebeb" stroke-width="0.5"/>
<path d="M122 562.6V688.3" stroke="#ebebeb" stroke-width="0.5"/>
<path d="M147.6 562.6V688.3" stroke="#ebebeb" stroke-width="0.5"/>
<path d="M173.5 562.6V688.3" stroke="#ebebeb" stroke-width="0.5"/>
<path d="M199.5 562.6V688.3" stroke="#ebebeb" stroke-width="0.5"/>
<path d="M225.5 562.6V688.3" stroke="#ebebeb" stroke-width="0.5"/>
<path d="M29.2 682.9H240.8" stroke="#bdbdbd" stroke-width="0.6" stroke-dasharray="2.5 2"/>
<path d="M29.2 682.9h-1.5" stroke="#333" stroke-width="0.5"/>
<text x="26.2" y="684.1" font-size="3.6" text-anchor="end" font-weight="normal" font-style="normal" fill="#4d4d4d">0.0</text>
<path d="M29.2 645.7H240.8" stroke="#bdbdbd" stroke-width="0.6" stroke-dasharray="2.5 2"/>
<path d="M29.2 645.7h-1.5" stroke="#333" stroke-width="0.5"/>
<text x="26.2" y="646.9" font-size="3.6" text-anchor="end" font-weight="normal" font-style="normal" fill="#4d4d4d">0.2</text>
<path d="M29.2 608.6H240.8" stroke="#bdbdbd" stroke-width="0.6" stroke-dasharray="2.5 2"/>
<path d="M29.2 608.6h-1.5" stroke="#333" stroke-width="0.5"/>
<text x="26.2" y="609.8" font-size="3.6" text-anchor="end" font-weight="normal" font-style="normal" fill="#4d4d4d">0.4</text>
<path d="M29.2 571.4H240.8" stroke="#bdbdbd" stroke-width="0.6" stroke-dasharray="2.5 2"/>
<path d="M29.2 571.4h-1.5" stroke="#333" stroke-width="0.5"/>
<text x="26.2" y="572.6" font-size="3.6" text-anchor="end" font-weight="normal" font-style="normal" fill="#4d4d4d">0.6</text>
<text x="19.6" y="625.5" font-size="3.85" text-anchor="middle" font-weight="normal" font-style="normal" fill="#000" transform="rotate(-90 19.6 625.5)">Expression level</text>
<rect x="29.2" y="562.6" width="211.6" height="125.7" fill="none" stroke="#333" stroke-width="0.6"/>
<path d="M44.5 571.4 L44.5 575.1 44.5 580.4 44.5 586.6 44.5 593 44.4 598.7 44.4 603 44.2 605.7 44.1 607.5 43.9 608.6 43.7 609.4 43.5 610.4 43.3 611.7 43.1 613.5 42.9 615.4 42.7 617.4 42.5 619.4 42.2 621.5 41.9 623.4 41.5 625.4 41.1 627.5 40.6 629.5 40.1 631.5 39.6 633.3 39.2 635 38.8 636.3 38.5 637.5 38.1 638.5 37.8 639.4 37.6 640.2 37.3 641.1 37.1 641.9 36.8 642.7 36.6 643.5 36.4 644.2 36.3 644.9 36.3 645.5 36.4 646.2 36.5 646.9 36.7 647.6 37 648.2 37.2 648.8 37.5 649.4 37.8 650 38.2 650.5 38.6 651 38.9 651.5 39.2 652 39.2 652.6 39 653.3 38.7 654 38.2 654.7 37.6 655.5 37.1 656.2 36.5 656.9 35.9 657.5 35.1 658.1 34.2 658.7 33.5 659.3 33 659.9 32.8 660.6 33 661.4 33.6 662.2 34.4 663 35.3 663.9 36.2 664.7 36.9 665.4 37.5 666.1 38 666.7 38.6 667.3 39.1 667.8 39.5 668.4 40 669 40.4 669.5 40.8 670 41.2 670.6 41.6 671.1 41.9 671.7 42.2 672.3 42.5 673 42.8 673.9 43.1 674.7 43.3 675.6 43.4 676.4 43.3 677.1 43 677.8 42.6 678.5 42.1 679.1 41.5 679.7 41 680.2 40.5 680.7 40.1 681.1 39.8 681.4 39.4 681.7 39.1 681.9 38.9 682.1 38.7 682.3 38.6 682.5 38.5 682.6 38.5 682.7 38.6 682.8 38.6 682.9 38.6 682.9 50.4 682.9 50.4 682.9 50.4 682.8 50.5 682.7 50.5 682.6 50.4 682.5 50.3 682.3 50.1 682.1 49.9 681.9 49.6 681.7 49.2 681.4 48.9 681.1 48.5 680.7 48 680.2 47.5 679.7 46.9 679.1 46.4 678.5 46 677.8 45.7 677.1 45.6 676.4 45.7 675.6 45.9 674.7 46.2 673.9 46.5 673 46.8 672.3 47.1 671.7 47.4 671.1 47.8 670.6 48.2 670 48.6 669.5 49 669 49.5 668.4 49.9 667.8 50.4 667.3 51 666.7 51.5 666.1 52.1 665.4 52.8 664.7 53.7 663.9 54.6 663 55.4 662.2 56 661.4 56.2 660.6 56 659.9 55.5 659.3 54.8 658.7 53.9 658.1 53.1 657.5 52.5 656.9 51.9 656.2 51.4 655.5 50.8 654.7 50.3 654 50 653.3 49.8 652.6 49.8 652 50.1 651.5 50.4 651 50.8 650.5 51.2 650 51.5 649.4 51.8 648.8 52 648.2 52.3 647.6 52.5 646.9 52.6 646.2 52.7 645.5 52.7 644.9 52.6 644.2 52.4 643.5 52.2 642.7 51.9 641.9 51.7 641.1 51.4 640.2 51.2 639.4 50.9 638.5 50.5 637.5 50.2 636.3 49.8 635 49.4 633.3 48.9 631.5 48.4 629.5 47.9 627.5 47.5 625.4 47.1 623.4 46.8 621.5 46.5 619.4 46.3 617.4 46.1 615.4 45.9 613.5 45.7 611.7 45.5 610.4 45.3 609.4 45.1 608.6 44.9 607.5 44.8 605.7 44.6 603 44.6 598.7 44.5 593 44.5 586.6 44.5 580.4 44.5 575.1 44.5 571.4Z" fill="#4cbb4c" stroke="#222" stroke-width="0.5" stroke-linejoin="round"/>
<path d="M44.5 571.4V682.9" stroke="#111" stroke-width="0.5"/>
<rect x="43.2" y="639" width="2.6" height="24" fill="#000"/>
<path d="M70.4 567.7 L70.4 571.4 70.4 576.6 70.3 582.8 70.3 589.1 70.2 595.1 70.2 600 70.1 603.9 70.1 607.2 70 610 70 612.6 69.9 615.1 69.8 617.5 69.7 619.8 69.6 621.9 69.5 623.9 69.3 625.7 69.2 627.4 69 629.2 68.8 630.9 68.6 632.6 68.3 634.1 68 635.6 67.8 637.1 67.5 638.5 67.2 639.8 66.9 641.1 66.6 642.4 66.3 643.5 66.1 644.6 66 645.5 66 646.4 66 647.1 66.2 647.7 66.3 648.3 66.5 648.9 66.6 649.4 66.8 650 67 650.5 67.2 651 67.4 651.5 67.5 652 67.5 652.6 67.4 653.3 67.2 654 66.9 654.7 66.5 655.5 66 656.2 65.4 656.9 64.5 657.5 63.2 658.2 61.8 658.8 60.6 659.4 59.6 660 59.3 660.6 59.7 661.1 60.7 661.6 62 662.1 63.4 662.6 64.7 663.1 65.7 663.6 66.3 664.1 66.8 664.7 67.2 665.3 67.5 665.9 67.8 666.5 68.1 667.1 68.4 667.6 68.6 667.9 68.8 668.2 68.9 668.6 69.1 669.2 69.2 670.1 69.4 671.3 69.5 673 69.7 674.8 69.8 676.5 69.8 678.1 69.8 679.4 69.7 680.2 69.4 680.7 69.1 681.1 68.7 681.3 68.4 681.5 68.2 681.8 68 682.1 67.9 682.3 67.8 682.5 67.6 682.7 67.6 682.8 67.5 682.9 73.3 682.9 73.2 682.8 73.2 682.7 73.1 682.5 72.9 682.3 72.8 682.1 72.6 681.8 72.4 681.5 72.1 681.3 71.7 681.1 71.4 680.7 71.1 680.2 71 679.4 71 678.1 71 676.5 71.1 674.8 71.3 673 71.4 671.3 71.6 670.1 71.7 669.2 71.9 668.6 72 668.2 72.2 667.9 72.4 667.6 72.7 667.1 73 666.5 73.3 665.9 73.6 665.3 74 664.7 74.5 664.1 75.1 663.6 76.1 663.1 77.4 662.6 78.8 662.1 80.1 661.6 81.1 661.1 81.5 660.6 81.2 660 80.2 659.4 79 658.8 77.6 658.2 76.3 657.5 75.4 656.9 74.8 656.2 74.3 655.5 73.9 654.7 73.6 654 73.4 653.3 73.3 652.6 73.3 652 73.4 651.5 73.6 651 73.8 650.5 74 650 74.2 649.4 74.3 648.9 74.5 648.3 74.7 647.7 74.8 647.1 74.8 646.4 74.8 645.5 74.7 644.6 74.5 643.5 74.2 642.4 73.9 641.1 73.6 639.8 73.3 638.5 73 637.1 72.8 635.6 72.5 634.1 72.2 632.6 72 630.9 71.8 629.2 71.6 627.4 71.5 625.7 71.3 623.9 71.2 621.9 71.1 619.8 71 617.5 70.9 615.1 70.8 612.6 70.8 610 70.7 607.2 70.7 603.9 70.6 600 70.6 595.1 70.5 589.1 70.5 582.8 70.4 576.6 70.4 571.4 70.4 567.7Z" fill="#5a64b8" stroke="#222" stroke-width="0.5" stroke-linejoin="round"/>
<path d="M70.4 567.7V682.9" stroke="#111" stroke-width="0.5"/>
<rect x="69.1" y="640.9" width="2.6" height="21" fill="#000"/>
<path d="M96.2 580.7 L96.2 583.5 96.2 587.4 96.1 592 96.1 596.8 96.1 601.2 96 604.9 95.9 607.6 95.8 610 95.8 611.9 95.6 613.8 95.5 615.6 95.4 617.5 95.3 619.5 95.2 621.5 95 623.5 94.9 625.5 94.7 627.4 94.4 629.2 94 630.9 93.5 632.6 93 634.1 92.4 635.6 91.9 637.1 91.5 638.5 91.2 639.8 90.9 641.2 90.7 642.4 90.6 643.6 90.5 644.6 90.4 645.5 90.4 646.3 90.5 646.8 90.6 647.3 90.8 647.7 91 648.1 91.2 648.5 91.5 649 91.8 649.4 92.2 649.8 92.5 650.2 92.7 650.7 92.7 651.3 92.5 652 92.1 652.7 91.6 653.5 91 654.3 90.4 655.2 89.7 656 88.8 656.7 87.8 657.5 86.6 658.3 85.6 659 84.8 659.8 84.5 660.6 84.7 661.4 85.4 662.2 86.4 663.1 87.4 663.9 88.4 664.7 89.2 665.4 89.8 666.1 90.2 666.7 90.6 667.3 91 667.8 91.4 668.4 91.7 669 92 669.5 92.3 670 92.6 670.6 92.9 671.1 93.1 671.7 93.3 672.3 93.5 673 93.7 673.9 94 674.7 94.1 675.6 94.2 676.4 94.1 677.1 93.9 677.8 93.5 678.5 93 679.1 92.5 679.7 92.1 680.2 91.7 680.7 91.4 681.1 91.1 681.4 90.9 681.7 90.7 681.9 90.5 682.1 90.4 682.3 90.3 682.5 90.3 682.6 90.3 682.7 90.3 682.8 90.3 682.9 90.3 682.9 102.1 682.9 102.1 682.9 102.1 682.8 102.1 682.7 102.1 682.6 102.1 682.5 102 682.3 101.9 682.1 101.7 681.9 101.5 681.7 101.3 681.4 101 681.1 100.7 680.7 100.3 680.2 99.9 679.7 99.4 679.1 98.9 678.5 98.5 677.8 98.3 677.1 98.2 676.4 98.3 675.6 98.5 674.7 98.7 673.9 98.9 673 99.1 672.3 99.3 671.7 99.5 671.1 99.8 670.6 100.1 670 100.4 669.5 100.7 669 101 668.4 101.4 667.8 101.8 667.3 102.2 666.7 102.6 666.1 103.2 665.4 104 664.7 105 663.9 106 663.1 107 662.2 107.7 661.4 107.9 660.6 107.6 659.8 106.8 659 105.8 658.3 104.6 657.5 103.6 656.7 102.7 656 102 655.2 101.4 654.3 100.8 653.5 100.3 652.7 99.9 652 99.7 651.3 99.7 650.7 99.9 650.2 100.2 649.8 100.6 649.4 100.9 649 101.2 648.5 101.4 648.1 101.6 647.7 101.8 647.3 101.9 646.8 102 646.3 102 645.5 101.9 644.6 101.8 643.6 101.7 642.4 101.5 641.2 101.2 639.8 100.9 638.5 100.5 637.1 100 635.6 99.4 634.1 98.9 632.6 98.4 630.9 98 629.2 97.7 627.4 97.5 625.5 97.4 623.5 97.2 621.5 97.1 619.5 97 617.5 96.9 615.6 96.8 613.8 96.7 611.9 96.6 610 96.5 607.6 96.4 604.9 96.3 601.2 96.3 596.8 96.3 592 96.2 587.4 96.2 583.5 96.2 580.7Z" fill="#4fb5d8" stroke="#222" stroke-width="0.5" stroke-linejoin="round"/>
<path d="M96.2 580.7V682.9" stroke="#111" stroke-width="0.5"/>
<rect x="94.9" y="647.2" width="2.6" height="19.3" fill="#000"/>
<path d="M122 605.8 L122 609.2 122 614.2 121.9 619.9 121.9 625.8 121.8 630.9 121.8 634.6 121.8 636.7 121.7 637.7 121.7 638 121.6 638.1 121.6 638.1 121.5 638.5 121.4 639.2 121.3 639.9 121.3 640.7 121.2 641.5 121.1 642.3 121 643.1 121 644 121 645 121 646 121 647.1 121 648.1 121 649.1 121.1 650.1 121.2 651.1 121.3 652.1 121.4 653.1 121.4 654 121.4 654.8 121.4 655.6 121.4 656.4 121.3 657.1 121.1 657.7 120.7 658.3 120 658.7 118.7 659.1 116.9 659.3 114.8 659.5 112.8 659.6 111.2 659.7 110.3 659.9 110.1 660 110.5 660.2 111.2 660.3 112.1 660.5 113.1 660.7 114 661 114.9 661.3 115.9 661.7 117 662.1 118 662.5 119 663 119.7 663.6 120.2 664.1 120.6 664.6 120.9 665.2 121.1 665.8 121.2 666.6 121.4 667.7 121.5 669 121.6 670.7 121.7 672.5 121.7 674.3 121.6 676 121.6 677.3 121.5 678.4 121.4 679.3 121.2 680.1 121.1 680.7 120.9 681.3 120.8 681.8 120.7 682.2 120.7 682.4 120.7 682.6 120.7 682.7 120.7 682.8 120.7 682.9 123.3 682.9 123.3 682.8 123.3 682.7 123.3 682.6 123.3 682.4 123.3 682.2 123.2 681.8 123.1 681.3 122.9 680.7 122.8 680.1 122.6 679.3 122.5 678.4 122.4 677.3 122.4 676 122.3 674.3 122.3 672.5 122.4 670.7 122.5 669 122.6 667.7 122.8 666.6 122.9 665.8 123.1 665.2 123.4 664.6 123.8 664.1 124.3 663.6 125 663 126 662.5 127 662.1 128.1 661.7 129.1 661.3 130 661 130.9 660.7 131.9 660.5 132.8 660.3 133.5 660.2 133.9 660 133.7 659.9 132.8 659.7 131.2 659.6 129.2 659.5 127.1 659.3 125.3 659.1 124 658.7 123.3 658.3 122.9 657.7 122.7 657.1 122.6 656.4 122.6 655.6 122.6 654.8 122.6 654 122.6 653.1 122.7 652.1 122.8 651.1 122.9 650.1 123 649.1 123 648.1 123 647.1 123 646 123 645 123 644 123 643.1 122.9 642.3 122.8 641.5 122.7 640.7 122.7 639.9 122.6 639.2 122.5 638.5 122.4 638.1 122.4 638.1 122.3 638 122.3 637.7 122.2 636.7 122.2 634.6 122.2 630.9 122.1 625.8 122.1 619.9 122 614.2 122 609.2 122 605.8Z" fill="#f25252" stroke="#222" stroke-width="0.5" stroke-linejoin="round"/>
<path d="M122 605.8V682.9" stroke="#111" stroke-width="0.5"/>
<rect x="120.7" y="652.1" width="2.6" height="8.5" fill="#000"/>
<path d="M147.6 606.7 L147.6 608.2 147.6 610.3 147.5 612.8 147.5 615.3 147.4 617.7 147.4 619.7 147.4 621.2 147.3 622.4 147.3 623.4 147.2 624.4 147.1 625.6 147 627 146.8 628.6 146.6 630.5 146.3 632.5 146 634.6 145.6 636.6 145.3 638.5 145 640.3 144.6 642.2 144.2 644 143.8 645.8 143.4 647.5 142.9 649.1 142.4 650.6 141.8 652.1 141.2 653.5 140.6 654.8 140 656.1 139.4 657.3 138.7 658.4 137.9 659.4 137.1 660.4 136.4 661.3 135.9 662.1 135.9 663 136.4 663.9 137.3 664.7 138.5 665.4 139.8 666.2 140.9 666.9 141.8 667.7 142.4 668.4 142.8 669.1 143 669.8 143.2 670.5 143.4 671.1 143.6 671.8 143.8 672.3 144 672.8 144.1 673.2 144.2 673.6 144.2 674.1 144.1 674.7 143.8 675.4 143.4 676.2 142.9 677 142.3 677.9 141.7 678.7 141.2 679.4 140.7 680 140.1 680.6 139.6 681.1 139.1 681.6 138.6 682 138.3 682.3 138.1 682.6 138.1 682.7 138.1 682.8 138.1 682.8 138.2 682.9 138.2 682.9 157 682.9 157 682.9 157.1 682.8 157.1 682.8 157.1 682.7 157.1 682.6 156.9 682.3 156.6 682 156.1 681.6 155.6 681.1 155.1 680.6 154.5 680 154 679.4 153.5 678.7 152.9 677.9 152.3 677 151.8 676.2 151.4 675.4 151.1 674.7 151 674.1 151 673.6 151.1 673.2 151.2 672.8 151.4 672.3 151.6 671.8 151.8 671.1 152 670.5 152.2 669.8 152.4 669.1 152.8 668.4 153.4 667.7 154.3 666.9 155.4 666.2 156.7 665.4 157.9 664.7 158.8 663.9 159.3 663 159.3 662.1 158.8 661.3 158.1 660.4 157.3 659.4 156.5 658.4 155.8 657.3 155.2 656.1 154.6 654.8 154 653.5 153.4 652.1 152.8 650.6 152.3 649.1 151.8 647.5 151.4 645.8 151 644 150.6 642.2 150.2 640.3 149.9 638.5 149.6 636.6 149.2 634.6 148.9 632.5 148.6 630.5 148.4 628.6 148.2 627 148.1 625.6 148 624.4 147.9 623.4 147.9 622.4 147.8 621.2 147.8 619.7 147.8 617.7 147.7 615.3 147.7 612.8 147.6 610.3 147.6 608.2 147.6 606.7Z" fill="#d45d82" stroke="#222" stroke-width="0.5" stroke-linejoin="round"/>
<path d="M147.6 606.7V682.9" stroke="#111" stroke-width="0.5"/>
<rect x="146.3" y="656.1" width="2.6" height="18.6" fill="#000"/>
<path d="M173.5 608.6 L173.5 610.7 173.5 613.7 173.4 617.2 173.4 620.9 173.3 624.3 173.2 627.1 173 629.4 172.8 631.4 172.5 633.2 172.3 634.8 172 636.2 171.7 637.4 171.4 638.3 171.1 639 170.8 639.4 170.5 639.8 170.3 640.3 170 640.9 169.8 641.7 169.5 642.6 169.3 643.5 169.1 644.5 168.9 645.5 168.8 646.7 168.8 647.9 168.8 649.4 168.9 650.9 168.9 652.4 168.9 653.7 168.8 654.8 168.6 655.7 168.3 656.3 167.9 656.8 167.5 657.3 167 657.8 166.5 658.4 165.7 659.1 164.7 659.8 163.6 660.6 162.6 661.4 162 662.2 161.8 663 162.3 663.8 163.3 664.6 164.6 665.4 166 666.2 167.3 666.9 168.2 667.7 168.8 668.4 169.2 669.1 169.5 669.8 169.7 670.5 169.8 671.1 170 671.8 170.2 672.3 170.4 672.8 170.6 673.2 170.7 673.6 170.7 674.1 170.6 674.7 170.3 675.4 169.9 676.2 169.4 677 168.8 677.9 168.3 678.7 167.7 679.4 167.1 680 166.5 680.6 165.8 681.1 165.1 681.6 164.6 682 164.2 682.3 164 682.6 163.9 682.7 163.9 682.8 164 682.8 164.1 682.9 164.1 682.9 182.9 682.9 182.9 682.9 183 682.8 183.1 682.8 183.1 682.7 183 682.6 182.8 682.3 182.4 682 181.9 681.6 181.2 681.1 180.5 680.6 179.9 680 179.3 679.4 178.7 678.7 178.2 677.9 177.6 677 177.1 676.2 176.7 675.4 176.4 674.7 176.3 674.1 176.3 673.6 176.4 673.2 176.6 672.8 176.8 672.3 177 671.8 177.2 671.1 177.3 670.5 177.5 669.8 177.8 669.1 178.2 668.4 178.8 667.7 179.7 666.9 181 666.2 182.4 665.4 183.7 664.6 184.7 663.8 185.2 663 185 662.2 184.4 661.4 183.4 660.6 182.3 659.8 181.3 659.1 180.5 658.4 180 657.8 179.5 657.3 179.1 656.8 178.7 656.3 178.4 655.7 178.2 654.8 178.1 653.7 178.1 652.4 178.1 650.9 178.2 649.4 178.2 647.9 178.2 646.7 178.1 645.5 177.9 644.5 177.7 643.5 177.5 642.6 177.2 641.7 177 640.9 176.7 640.3 176.5 639.8 176.2 639.4 175.9 639 175.6 638.3 175.3 637.4 175 636.2 174.7 634.8 174.5 633.2 174.2 631.4 174 629.4 173.8 627.1 173.7 624.3 173.6 620.9 173.6 617.2 173.5 613.7 173.5 610.7 173.5 608.6Z" fill="#f58fe0" stroke="#222" stroke-width="0.5" stroke-linejoin="round"/>
<path d="M173.5 608.6V682.9" stroke="#111" stroke-width="0.5"/>
<rect x="172.2" y="654.3" width="2.6" height="18.8" fill="#000"/>
<path d="M199.5 599.3 L199.5 603 199.4 608.2 199.4 614.4 199.3 620.8 199.3 626.7 199.2 631.4 199 635 198.9 638 198.7 640.5 198.5 642.6 198.3 644.7 198.1 646.7 197.9 648.6 197.7 650.4 197.4 652 197.2 653.5 196.9 654.8 196.6 656.1 196.2 657.3 195.7 658.3 195.2 659.3 194.7 660.1 194.4 661 194.2 661.9 194.3 662.9 194.5 663.9 194.9 664.9 195.3 665.8 195.7 666.8 196 667.7 196.3 668.5 196.6 669.2 196.9 669.9 197.1 670.6 197.2 671.4 197.2 672.3 197 673.4 196.6 674.6 196.2 675.9 195.6 677.2 194.9 678.4 194.2 679.4 193.3 680.1 192.1 680.8 190.8 681.3 189.6 681.7 188.5 682 187.8 682.3 187.4 682.6 187.3 682.7 187.3 682.8 187.5 682.8 187.6 682.9 187.7 682.9 211.3 682.9 211.4 682.9 211.5 682.8 211.7 682.8 211.7 682.7 211.6 682.6 211.2 682.3 210.5 682 209.4 681.7 208.2 681.3 206.9 680.8 205.7 680.1 204.8 679.4 204.1 678.4 203.4 677.2 202.8 675.9 202.4 674.6 202 673.4 201.8 672.3 201.8 671.4 201.9 670.6 202.1 669.9 202.4 669.2 202.7 668.5 203 667.7 203.3 666.8 203.7 665.8 204.1 664.9 204.5 663.9 204.7 662.9 204.8 661.9 204.6 661 204.3 660.1 203.8 659.3 203.3 658.3 202.8 657.3 202.4 656.1 202.1 654.8 201.8 653.5 201.6 652 201.3 650.4 201.1 648.6 200.9 646.7 200.7 644.7 200.5 642.6 200.3 640.5 200.1 638 200 635 199.8 631.4 199.7 626.7 199.7 620.8 199.6 614.4 199.6 608.2 199.5 603 199.5 599.3Z" fill="#a75cf2" stroke="#222" stroke-width="0.5" stroke-linejoin="round"/>
<path d="M199.5 599.3V682.9" stroke="#111" stroke-width="0.5"/>
<rect x="198.2" y="662.5" width="2.6" height="19.9" fill="#000"/>
<path d="M225.5 599.3 L225.5 603.6 225.4 609.9 225.4 617.2 225.3 624.7 225.3 631.4 225.2 636.4 225.2 639.7 225.2 641.8 225.2 643.1 225.1 644.1 225.1 645.2 224.9 646.7 224.6 648.6 224.2 650.7 223.8 652.8 223.3 654.8 222.9 656.7 222.6 658.4 222.4 659.7 222.2 660.8 222 661.7 222 662.6 221.9 663.4 222 664.3 222.2 665.3 222.5 666.3 222.9 667.2 223.3 668.2 223.6 669.1 223.8 670.1 223.8 671 223.7 672 223.6 672.9 223.4 673.8 223.2 674.7 223 675.5 222.8 676.2 222.6 676.9 222.3 677.6 221.9 678.2 221.5 678.8 220.8 679.4 219.8 679.9 218.6 680.5 217.2 681.1 215.8 681.6 214.6 682 213.8 682.3 213.4 682.6 213.3 682.7 213.3 682.8 213.5 682.8 213.6 682.9 213.7 682.9 237.3 682.9 237.4 682.9 237.5 682.8 237.7 682.8 237.7 682.7 237.6 682.6 237.2 682.3 236.4 682 235.2 681.6 233.8 681.1 232.4 680.5 231.2 679.9 230.2 679.4 229.5 678.8 229.1 678.2 228.7 677.6 228.4 676.9 228.2 676.2 228 675.5 227.8 674.7 227.6 673.8 227.4 672.9 227.3 672 227.2 671 227.2 670.1 227.4 669.1 227.7 668.2 228.1 667.2 228.5 666.3 228.8 665.3 229 664.3 229.1 663.4 229 662.6 229 661.7 228.8 660.8 228.6 659.7 228.4 658.4 228.1 656.7 227.7 654.8 227.2 652.8 226.8 650.7 226.4 648.6 226.1 646.7 225.9 645.2 225.9 644.1 225.8 643.1 225.8 641.8 225.8 639.7 225.8 636.4 225.7 631.4 225.7 624.7 225.6 617.2 225.6 609.9 225.5 603.6 225.5 599.3Z" fill="#b384e8" stroke="#222" stroke-width="0.5" stroke-linejoin="round"/>
<path d="M225.5 599.3V682.9" stroke="#111" stroke-width="0.5"/>
<rect x="224.2" y="664.3" width="2.6" height="18" fill="#000"/>
<path d="M44.5 651.7 L70.4 653.5 L96.2 660.4 L122 660.6 L147.6 663.6 L173.5 663.6 L199.5 671.2 L225.5 675.3" fill="none" stroke="#000" stroke-width="0.8"/>
<circle cx="44.5" cy="651.7" r="0.9" fill="#fff"/>
<circle cx="70.4" cy="653.5" r="0.9" fill="#fff"/>
<circle cx="96.2" cy="660.4" r="0.9" fill="#fff"/>
<circle cx="122" cy="660.6" r="0.9" fill="#fff"/>
<circle cx="147.6" cy="663.6" r="0.9" fill="#fff"/>
<circle cx="173.5" cy="663.6" r="0.9" fill="#fff"/>
<circle cx="199.5" cy="671.2" r="0.9" fill="#fff"/>
<circle cx="225.5" cy="675.3" r="0.9" fill="#fff"/>
<path d="M44.5 688.3v1.5" stroke="#333" stroke-width="0.5"/>
<path d="M70.4 688.3v1.5" stroke="#333" stroke-width="0.5"/>
<path d="M96.2 688.3v1.5" stroke="#333" stroke-width="0.5"/>
<path d="M122 688.3v1.5" stroke="#333" stroke-width="0.5"/>
<path d="M147.6 688.3v1.5" stroke="#333" stroke-width="0.5"/>
<path d="M173.5 688.3v1.5" stroke="#333" stroke-width="0.5"/>
<path d="M199.5 688.3v1.5" stroke="#333" stroke-width="0.5"/>
<path d="M225.5 688.3v1.5" stroke="#333" stroke-width="0.5"/>
<text x="46.5" y="693.1" font-size="7.4" text-anchor="end" font-weight="normal" font-style="normal" fill="#111" transform="rotate(-45 46.5 693.1)" textLength="30.7" lengthAdjust="spacingAndGlyphs">NK(T) cells</text>
<text x="72.4" y="693.1" font-size="7.4" text-anchor="end" font-weight="normal" font-style="normal" fill="#111" transform="rotate(-45 72.4 693.1)" textLength="55.7" lengthAdjust="spacingAndGlyphs">Conventional T cells</text>
<text x="98.2" y="693.1" font-size="7.4" text-anchor="end" font-weight="normal" font-style="normal" fill="#111" transform="rotate(-45 98.2 693.1)" textLength="49.5" lengthAdjust="spacingAndGlyphs">Regulatory T cells</text>
<text x="124" y="693.1" font-size="7.4" text-anchor="end" font-weight="normal" font-style="normal" fill="#111" transform="rotate(-45 124 693.1)" textLength="18.3" lengthAdjust="spacingAndGlyphs">B cells</text>
<text x="149.6" y="693.1" font-size="7.4" text-anchor="end" font-weight="normal" font-style="normal" fill="#111" transform="rotate(-45 149.6 693.1)" textLength="38.7" lengthAdjust="spacingAndGlyphs">Dendritic cells</text>
<text x="175.5" y="693.1" font-size="7.4" text-anchor="end" font-weight="normal" font-style="normal" fill="#111" transform="rotate(-45 175.5 693.1)" textLength="37.6" lengthAdjust="spacingAndGlyphs">Macrophages</text>
<text x="201.5" y="693.1" font-size="7.4" text-anchor="end" font-weight="normal" font-style="normal" fill="#111" transform="rotate(-45 201.5 693.1)" textLength="30" lengthAdjust="spacingAndGlyphs">Monocytes</text>
<text x="227.5" y="693.1" font-size="7.4" text-anchor="end" font-weight="normal" font-style="normal" fill="#111" transform="rotate(-45 227.5 693.1)" textLength="34.9" lengthAdjust="spacingAndGlyphs">Plasma cells</text>
<text x="250.5" y="557" font-size="11.5" font-weight="bold" font-family="Liberation Serif, serif">g</text>
<rect x="285.8" y="639.4" width="327" height="17" fill="#fff" stroke="#333" stroke-width="0.7"/>
<circle cx="291.6" cy="648" r="5.3" fill="#127212"/>
<text x="289.3" y="636.3" font-size="6.5" text-anchor="end" font-weight="normal" font-style="normal" fill="#333" transform="rotate(90 289.3 636.3)">TCGA−ACC</text>
<circle cx="301.8" cy="648" r="4.3" fill="#127212"/>
<text x="299.5" y="636.3" font-size="6.5" text-anchor="end" font-weight="normal" font-style="normal" fill="#333" transform="rotate(90 299.5 636.3)">TCGA−BLCA</text>
<circle cx="312" cy="648" r="4" fill="#127212"/>
<text x="309.7" y="636.3" font-size="6.5" text-anchor="end" font-weight="normal" font-style="normal" fill="#333" transform="rotate(90 309.7 636.3)">TCGA−BRCA</text>
<circle cx="322.1" cy="648" r="2.4" fill="#999999"/>
<text x="319.8" y="636.3" font-size="6.5" text-anchor="end" font-weight="normal" font-style="normal" fill="#333" transform="rotate(90 319.8 636.3)">TCGA−CESC</text>
<circle cx="332.3" cy="648" r="5.3" fill="#127212"/>
<text x="330" y="636.3" font-size="6.5" text-anchor="end" font-weight="normal" font-style="normal" fill="#333" transform="rotate(90 330 636.3)">TCGA−CHOL</text>
<circle cx="342.5" cy="648" r="3" fill="#127212"/>
<text x="340.2" y="636.3" font-size="6.5" text-anchor="end" font-weight="normal" font-style="normal" fill="#333" transform="rotate(90 340.2 636.3)">TCGA−COAD</text>
<circle cx="352.7" cy="648" r="2.9" fill="#999999"/>
<text x="350.4" y="636.3" font-size="6.5" text-anchor="end" font-weight="normal" font-style="normal" fill="#333" transform="rotate(90 350.4 636.3)">TCGA−DLBC</text>
<circle cx="362.8" cy="648" r="4.5" fill="#127212"/>
<text x="360.5" y="636.3" font-size="6.5" text-anchor="end" font-weight="normal" font-style="normal" fill="#333" transform="rotate(90 360.5 636.3)">TCGA−ESCA</text>
<circle cx="373" cy="648" r="4.2" fill="#a50f15"/>
<text x="370.7" y="636.3" font-size="6.5" text-anchor="end" font-weight="normal" font-style="normal" fill="#333" transform="rotate(90 370.7 636.3)">TCGA−GBM</text>
<circle cx="383.2" cy="648" r="4.5" fill="#127212"/>
<text x="380.9" y="636.3" font-size="6.5" text-anchor="end" font-weight="normal" font-style="normal" fill="#333" transform="rotate(90 380.9 636.3)">TCGA−HNSC</text>
<circle cx="393.4" cy="648" r="4" fill="#999999"/>
<text x="391.1" y="636.3" font-size="6.5" text-anchor="end" font-weight="normal" font-style="normal" fill="#333" transform="rotate(90 391.1 636.3)">TCGA−KICH</text>
<circle cx="403.6" cy="648" r="4.3" fill="#127212"/>
<text x="401.3" y="636.3" font-size="6.5" text-anchor="end" font-weight="normal" font-style="normal" fill="#333" transform="rotate(90 401.3 636.3)">TCGA−KIRC</text>
<circle cx="413.7" cy="648" r="4" fill="#127212"/>
<text x="411.4" y="636.3" font-size="6.5" text-anchor="end" font-weight="normal" font-style="normal" fill="#333" transform="rotate(90 411.4 636.3)">TCGA−KIRP</text>
<circle cx="423.9" cy="648" r="3" fill="#127212"/>
<text x="421.6" y="636.3" font-size="6.5" text-anchor="end" font-weight="normal" font-style="normal" fill="#333" transform="rotate(90 421.6 636.3)">TCGA−LGG</text>
<circle cx="434.1" cy="648" r="4.3" fill="#127212"/>
<text x="431.8" y="636.3" font-size="6.5" text-anchor="end" font-weight="normal" font-style="normal" fill="#333" transform="rotate(90 431.8 636.3)">TCGA−LIHC</text>
<circle cx="444.3" cy="648" r="3.9" fill="#127212"/>
<text x="442" y="636.3" font-size="6.5" text-anchor="end" font-weight="normal" font-style="normal" fill="#333" transform="rotate(90 442 636.3)">TCGA−LUAD</text>
<circle cx="454.4" cy="648" r="2.3" fill="#999999"/>
<text x="452.1" y="636.3" font-size="6.5" text-anchor="end" font-weight="normal" font-style="normal" fill="#333" transform="rotate(90 452.1 636.3)">TCGA−LUSC</text>
<circle cx="464.6" cy="648" r="5.3" fill="#127212"/>
<text x="462.3" y="636.3" font-size="6.5" text-anchor="end" font-weight="normal" font-style="normal" fill="#333" transform="rotate(90 462.3 636.3)">TCGA−MESO</text>
<circle cx="474.8" cy="648" r="4.8" fill="#127212"/>
<text x="472.5" y="636.3" font-size="6.5" text-anchor="end" font-weight="normal" font-style="normal" fill="#333" transform="rotate(90 472.5 636.3)">TCGA−OV</text>
<circle cx="485" cy="648" r="5.3" fill="#127212"/>
<text x="482.7" y="636.3" font-size="6.5" text-anchor="end" font-weight="normal" font-style="normal" fill="#333" transform="rotate(90 482.7 636.3)">TCGA−PAAD</text>
<circle cx="495.1" cy="648" r="3" fill="#999999"/>
<text x="492.8" y="636.3" font-size="6.5" text-anchor="end" font-weight="normal" font-style="normal" fill="#333" transform="rotate(90 492.8 636.3)">TCGA−PCPG</text>
<circle cx="505.3" cy="648" r="5.3" fill="#127212"/>
<text x="503" y="636.3" font-size="6.5" text-anchor="end" font-weight="normal" font-style="normal" fill="#333" transform="rotate(90 503 636.3)">TCGA−PRAD</text>
<circle cx="515.5" cy="648" r="3.3" fill="#999999"/>
<text x="513.2" y="636.3" font-size="6.5" text-anchor="end" font-weight="normal" font-style="normal" fill="#333" transform="rotate(90 513.2 636.3)">TCGA−READ</text>
<circle cx="525.7" cy="648" r="3.5" fill="#127212"/>
<text x="523.4" y="636.3" font-size="6.5" text-anchor="end" font-weight="normal" font-style="normal" fill="#333" transform="rotate(90 523.4 636.3)">TCGA−SARC</text>
<circle cx="535.9" cy="648" r="4.2" fill="#127212"/>
<text x="533.6" y="636.3" font-size="6.5" text-anchor="end" font-weight="normal" font-style="normal" fill="#333" transform="rotate(90 533.6 636.3)">TCGA−SKCM</text>
<circle cx="546" cy="648" r="4" fill="#127212"/>
<text x="543.7" y="636.3" font-size="6.5" text-anchor="end" font-weight="normal" font-style="normal" fill="#333" transform="rotate(90 543.7 636.3)">TCGA−STAD</text>
<circle cx="556.2" cy="648" r="2.1" fill="#999999"/>
<text x="553.9" y="636.3" font-size="6.5" text-anchor="end" font-weight="normal" font-style="normal" fill="#333" transform="rotate(90 553.9 636.3)">TCGA−TGCT</text>
<circle cx="566.4" cy="648" r="2.7" fill="#999999"/>
<text x="564.1" y="636.3" font-size="6.5" text-anchor="end" font-weight="normal" font-style="normal" fill="#333" transform="rotate(90 564.1 636.3)">TCGA−THCA</text>
<circle cx="576.6" cy="648" r="2.3" fill="#999999"/>
<text x="574.3" y="636.3" font-size="6.5" text-anchor="end" font-weight="normal" font-style="normal" fill="#333" transform="rotate(90 574.3 636.3)">TCGA−THYM</text>
<circle cx="586.7" cy="648" r="1.6" fill="#999999"/>
<text x="584.4" y="636.3" font-size="6.5" text-anchor="end" font-weight="normal" font-style="normal" fill="#333" transform="rotate(90 584.4 636.3)">TCGA−UCEC</text>
<circle cx="596.9" cy="648" r="3.8" fill="#999999"/>
<text x="594.6" y="636.3" font-size="6.5" text-anchor="end" font-weight="normal" font-style="normal" fill="#333" transform="rotate(90 594.6 636.3)">TCGA−UCS</text>
<circle cx="607.1" cy="648" r="4.3" fill="#127212"/>
<text x="604.8" y="636.3" font-size="6.5" text-anchor="end" font-weight="normal" font-style="normal" fill="#333" transform="rotate(90 604.8 636.3)">TCGA−UVM</text>
<text x="277.3" y="651.6" font-size="6.3" text-anchor="end" font-weight="normal" font-style="normal" fill="#444" transform="rotate(45 277.3 651.6)">EBI3_IL12A</text>
<path d="M285.8 648h-1.5" stroke="#333" stroke-width="0.5"/>
<text x="622.9" y="580" font-size="7.4" text-anchor="start" font-weight="normal" font-style="normal" fill="#1a1a1a">abs(R)</text>
<circle cx="628.6" cy="590.2" r="3" fill="#000"/>
<text x="638.7" y="592.1" font-size="5.8" text-anchor="start" font-weight="normal" font-style="normal" fill="#1a1a1a">0.1</text>
<circle cx="628.6" cy="602" r="3.5" fill="#000"/>
<text x="638.7" y="603.9" font-size="5.8" text-anchor="start" font-weight="normal" font-style="normal" fill="#1a1a1a">0.2</text>
<circle cx="628.6" cy="613.3" r="4.1" fill="#000"/>
<text x="638.7" y="615.2" font-size="5.8" text-anchor="start" font-weight="normal" font-style="normal" fill="#1a1a1a">0.3</text>
<circle cx="628.6" cy="624.8" r="4.7" fill="#000"/>
<text x="638.7" y="626.7" font-size="5.8" text-anchor="start" font-weight="normal" font-style="normal" fill="#1a1a1a">0.4</text>
<text x="623.6" y="651.6" font-size="7.2" text-anchor="start" font-weight="normal" font-style="normal" fill="#1a1a1a">Type of Correlation</text>
<circle cx="628.6" cy="661.4" r="1.5" fill="#a50f15"/>
<text x="638.7" y="663.3" font-size="5.8" text-anchor="start" font-weight="normal" font-style="normal" fill="#1a1a1a">negative</text>
<circle cx="628.6" cy="673.5" r="1.5" fill="#999999"/>
<text x="638.7" y="675.4" font-size="5.8" text-anchor="start" font-weight="normal" font-style="normal" fill="#1a1a1a">no correlation</text>
<circle cx="628.6" cy="684.9" r="1.5" fill="#127212"/>
<text x="638.7" y="686.8" font-size="5.8" text-anchor="start" font-weight="normal" font-style="normal" fill="#1a1a1a">positive</text>
<text x="2.5" y="729" font-size="11" font-weight="bold">h</text>
<path d="M42.5 739.5V888.5H281.4" fill="none" stroke="#333" stroke-width="0.8"/>
<path d="M42.5 744h-1.5" stroke="#333" stroke-width="0.5"/>
<text x="39.5" y="745.1" font-size="3.4" text-anchor="end" font-weight="normal" font-style="normal" fill="#4d4d4d">1.00</text>
<path d="M42.5 778.4h-1.5" stroke="#333" stroke-width="0.5"/>
<text x="39.5" y="779.5" font-size="3.4" text-anchor="end" font-weight="normal" font-style="normal" fill="#4d4d4d">0.75</text>
<path d="M42.5 812.7h-1.5" stroke="#333" stroke-width="0.5"/>
<text x="39.5" y="813.8" font-size="3.4" text-anchor="end" font-weight="normal" font-style="normal" fill="#4d4d4d">0.50</text>
<path d="M42.5 847h-1.5" stroke="#333" stroke-width="0.5"/>
<text x="39.5" y="848.1" font-size="3.4" text-anchor="end" font-weight="normal" font-style="normal" fill="#4d4d4d">0.25</text>
<path d="M42.5 881.4h-1.5" stroke="#333" stroke-width="0.5"/>
<text x="39.5" y="882.5" font-size="3.4" text-anchor="end" font-weight="normal" font-style="normal" fill="#4d4d4d">0.00</text>
<path d="M53.4 888.5v1.5" stroke="#333" stroke-width="0.5"/>
<text x="53.4" y="893.5" font-size="3.4" text-anchor="middle" font-weight="normal" font-style="normal" fill="#4d4d4d">0</text>
<path d="M107.8 888.5v1.5" stroke="#333" stroke-width="0.5"/>
<text x="107.8" y="893.5" font-size="3.4" text-anchor="middle" font-weight="normal" font-style="normal" fill="#4d4d4d">2500</text>
<path d="M162.2 888.5v1.5" stroke="#333" stroke-width="0.5"/>
<text x="162.2" y="893.5" font-size="3.4" text-anchor="middle" font-weight="normal" font-style="normal" fill="#4d4d4d">5000</text>
<path d="M216.6 888.5v1.5" stroke="#333" stroke-width="0.5"/>
<text x="216.6" y="893.5" font-size="3.4" text-anchor="middle" font-weight="normal" font-style="normal" fill="#4d4d4d">7500</text>
<path d="M271 888.5v1.5" stroke="#333" stroke-width="0.5"/>
<text x="271" y="893.5" font-size="3.4" text-anchor="middle" font-weight="normal" font-style="normal" fill="#4d4d4d">10000</text>
<text x="163.9" y="899.3" font-size="5.0" text-anchor="middle" font-weight="bold" font-style="normal" fill="#000">Time (Days)</text>
<text x="30.5" y="814" font-size="4.7" text-anchor="middle" font-weight="bold" font-style="normal" fill="#000" transform="rotate(-90 30.5 814)">Survival probability</text>
<path d="M53.4 744H54V745H54.6V746.1m0 -2.3v4.6m0 -2.3H55V746.8H55.2V747.1H55.9V748.3H56.2V748.9m0 -2.3v4.6m0 -2.3H56.6V749.5H57.1V750.4H57.8V751.7H58.4V752.7H58.7V753.3m0 -2.3v4.6m0 -2.3H59.3V754.3m0 -2.3v4.6m0 -2.3H59.5V754.7H60V755.5H60.5V756.5H61V757.3m0 -2.3v4.6m0 -2.3H61.3V757.7m0 -2.3v4.6m0 -2.3H61.9V758.7m0 -2.3v4.6m0 -2.3H62.3V759.3m0 -2.3v4.6m0 -2.3H62.9V760.2m0 -2.3v4.6m0 -2.3H63.3V760.7H63.8V761.3H64.4V762H64.6V762.4H65.1V763H65.5V763.5H65.8V763.8H66.2V764.3m0 -2.3v4.6m0 -2.3H66.8V765.2H67.6V766.3H68.1V767H68.7V767.9m0 -2.3v4.6m0 -2.3H69.2V768.5m0 -2.3v4.6m0 -2.3H69.6V769.1m0 -2.3v4.6m0 -2.3H70.4V770.2m0 -2.3v4.6m0 -2.3H71V771m0 -2.3v4.6m0 -2.3H71.7V772H71.9V772.4H72.7V773.2H73.2V773.7m0 -2.3v4.6m0 -2.3H73.5V774.1H74.1V774.6m0 -2.3v4.6m0 -2.3H74.8V775.3H75.3V775.8H75.7V776.3m0 -2.3v4.6m0 -2.3H76V776.5H76.4V777H76.8V777.4H77V777.6H77.3V777.9m0 -2.3v4.6m0 -2.3H78V778.6H78.5V779.1H79.2V779.9m0 -2.3v4.6m0 -2.3H79.7V780.5H80.1V781H80.8V781.7H81.1V782.1H81.3V782.3H81.9V783.1m0 -2.3v4.6m0 -2.3H82.4V783.6H82.6V783.9H83.2V784.6H83.9V785.3m0 -2.3v4.6m0 -2.3H84.2V785.7H84.5V785.9m0 -2.3v4.6m0 -2.3H85.2V786.6H85.6V786.9m0 -2.3v4.6m0 -2.3H86.4V787.5H87.1V788.2H87.6V788.6H88.3V789.1H88.7V789.5H89.2V789.9H89.4V790.1H89.9V790.5H90.3V790.8H90.8V791.3H91.4V791.8H91.8V792.2H92.1V792.5m0 -2.3v4.6m0 -2.3H92.5V792.7H93.1V793.3m0 -2.3v4.6m0 -2.3H93.7V793.8H94.2V794.3H94.6V794.6H95.1V795H95.6V795.5m0 -2.3v4.6m0 -2.3H95.9V795.7H96.5V796.2H97.1V796.6m0 -2.3v4.6m0 -2.3H97.9V797.2H98.6V797.7H99.3V798.2m0 -2.3v4.6m0 -2.3H99.5V798.3m0 -2.3v4.6m0 -2.3H99.9V798.6m0 -2.3v4.6m0 -2.3H100.2V798.8H100.4V799H100.7V799.2H100.9V799.4m0 -2.3v4.6m0 -2.3H101.7V799.9H102.3V800.5H102.9V800.9m0 -2.3v4.6m0 -2.3H103.4V801.4m0 -2.3v4.6m0 -2.3H104.1V802H104.8V802.6m0 -2.3v4.6m0 -2.3H105.2V802.9m0 -2.3v4.6m0 -2.3H105.4V803.2H106.1V803.7m0 -2.3v4.6m0 -2.3H106.8V804.3H107.1V804.5H107.8V805m0 -2.3v4.6m0 -2.3H108.3V805.3H108.9V805.6m0 -2.3v4.6m0 -2.3H109.4V806H110.1V806.4H110.5V806.6H111.2V807H111.5V807.2m0 -2.3v4.6m0 -2.3H112.1V807.5m0 -2.3v4.6m0 -2.3H112.6V807.8H113V808.1m0 -2.3v4.6m0 -2.3H113.5V808.4H113.8V808.5H114V808.7H114.7V809.1H115.1V809.4H115.5V809.6m0 -2.3v4.6m0 -2.3H115.9V809.8H116.1V810H116.7V810.3m0 -2.3v4.6m0 -2.3H116.9V810.5H117.2V810.7m0 -2.3v4.6m0 -2.3H117.5V810.8m0 -2.3v4.6m0 -2.3H118.2V811.3m0 -2.3v4.6m0 -2.3H118.6V811.5H119.1V811.9m0 -2.3v4.6m0 -2.3H119.6V812.1H120V812.4H120.3V812.5H120.9V812.9H121.5V813.2H121.7V813.4H122.4V813.7m0 -2.3v4.6m0 -2.3H122.7V813.9H123.4V814.3H123.6V814.5m0 -2.3v4.6m0 -2.3H124.3V814.8H124.9V815.2H125.7V815.6H126.3V816H126.9V816.4m0 -2.3v4.6m0 -2.3H127.5V816.8H128.1V817.1H128.5V817.4H128.8V817.5H129.3V817.9H129.8V818.2H130.2V818.4H131V818.7H131.2V818.8H132V819.1m0 -2.3v4.6m0 -2.3H132.6V819.4H133.3V819.7m0 -2.3v4.6m0 -2.3H133.6V819.8H133.9V819.9m0 -2.3v4.6m0 -2.3H134.4V820.1H135V820.4m0 -2.3v4.6m0 -2.3H135.8V820.7m0 -2.3v4.6m0 -2.3H136.4V820.9m0 -2.3v4.6m0 -2.3H136.9V821.1m0 -2.3v4.6m0 -2.3H137.3V821.3m0 -2.3v4.6m0 -2.3H137.9V821.6H138.1V821.7H138.8V822H139.2V822.1H139.5V822.2m0 -2.3v4.6m0 -2.3H139.7V822.3H140V822.5m0 -2.3v4.6m0 -2.3H140.7V822.8H141V822.9H141.4V823H141.7V823.2H142.3V823.4H142.7V823.6H143.4V823.9m0 -2.3v4.6m0 -2.3H143.7V824m0 -2.3v4.6m0 -2.3H144.5V824.3H144.8V824.4H145.2V824.5H145.6V824.7H145.9V824.8m0 -2.3v4.6m0 -2.3H146.4V825m0 -2.3v4.6m0 -2.3H146.8V825.1H147.5V825.4H148.1V825.7H148.7V825.9H149.3V826.1H149.7V826.2m0 -2.3v4.6m0 -2.3H150.3V826.4m0 -2.3v4.6m0 -2.3H151.1V826.6H151.5V826.8H151.8V826.9H152V827H152.6V827.1H152.9V827.2H153.5V827.4H154.3V827.7H154.7V827.8H155.4V828m0 -2.3v4.6m0 -2.3H156V828.1m0 -2.3v4.6m0 -2.3H156.5V828.3H156.7V828.4H157V828.4H157.4V828.5H158V828.7H158.7V828.9m0 -2.3v4.6m0 -2.3H159.2V829H159.9V829.2m0 -2.3v4.6m0 -2.3H160.4V829.4H160.9V829.5m0 -2.3v4.6m0 -2.3H161.4V829.7m0 -2.3v4.6m0 -2.3H161.8V829.8H162.1V829.9H162.7V830H163.2V830.2H163.7V830.3H164.4V830.5H164.9V830.7H165.5V830.8H166.1V831H166.6V831.2H167.1V831.3m0 -2.3v4.6m0 -2.3H167.7V831.5H168.4V831.7H168.9V831.9H169.1V832H169.8V832.2H170.3V832.3H170.9V832.5H171.4V832.7m0 -2.3v4.6m0 -2.3H171.7V832.8m0 -2.3v4.6m0 -2.3H172.2V832.9H172.6V833H173V833.1H173.7V833.2H174.2V833.3m0 -2.3v4.6m0 -2.3H174.9V833.5H175.5V833.6m0 -2.3v4.6m0 -2.3H176.2V833.8m0 -2.3v4.6m0 -2.3H176.6V833.9m0 -2.3v4.6m0 -2.3H177.1V834H177.8V834.1H178.4V834.2H178.8V834.3H179.1V834.4m0 -2.3v4.6m0 -2.3H179.8V834.5H180V834.6H180.7V834.7H180.9V834.7H181.3V834.8H181.7V834.9H182V834.9H182.5V835H182.9V835.1H183.2V835.1m0 -2.3v4.6m0 -2.3H183.6V835.2m0 -2.3v4.6m0 -2.3H184V835.3H184.6V835.4m0 -2.3v4.6m0 -2.3H184.9V835.4m0 -2.3v4.6m0 -2.3H185.6V835.5H186.3V835.6H186.9V835.7H187.5V835.8m0 -2.3v4.6m0 -2.3H187.8V835.9H188.3V835.9m0 -2.3v4.6m0 -2.3H188.8V836H189.1V836.1m0 -2.3v4.6m0 -2.3H189.4V836.1m0 -2.3v4.6m0 -2.3H190.1V836.2m0 -2.3v4.6m0 -2.3H190.4V836.3m0 -2.3v4.6m0 -2.3H190.9V836.3m0 -2.3v4.6m0 -2.3H191.4V836.4m0 -2.3v4.6m0 -2.3H191.7V836.5H192V836.6H192.5V837.2H193.2V838.3m0 -2.3v4.6m0 -2.3H193.3V838.5" fill="none" stroke="#1ca6d3" stroke-width="2.8"/>
<path d="M192 836.5H194V838.7m0 -1.7v3.4m0 -1.7H196V839.3H198.2V840.2m0 -1.7v3.4m0 -1.7H200.7V841.3H201.7V841.7m0 -1.7v3.4m0 -1.7H202.5V842H204.9V842.9H206.8V842.9H208.9V842.9H211.4V842.9H212.8V842.9H213.5V842.9H215.6V842.9H215.6V848.6" fill="none" stroke="#1ca6d3" stroke-width="1.8"/>
<path d="M204.5 842.9L215.6 842.9L215.6 848.6L264 848.6" fill="none" stroke="#1ca6d3" stroke-width="1.0"/>
<path d="M53.4 744H54.5V746.6m0 -1.7v3.5m0 -1.7H55.4V748.4m0 -1.7v3.5m0 -1.7H56.4V750.9H58.5V755.4m0 -1.7v3.5m0 -1.7H60.6V760.3H62.5V765.7H63.1V767.3H64.1V769.9m0 -1.7v3.5m0 -1.7H66V774.9H66.9V777.2m0 -1.7v3.5m0 -1.7H69V781.9m0 -1.7v3.5m0 -1.7H70.8V785.4m0 -1.7v3.5m0 -1.7H72.7V788.8m0 -1.7v3.5m0 -1.7H74.1V791.5m0 -1.7v3.5m0 -1.7H75.6V794.3H76.3V795.7m0 -1.7v3.5m0 -1.7H78.1V798.7H79.2V800.3H80.6V802.2H81.6V804.3H83.3V807.5H84.5V809.9H86.2V813.3H86.8V814.6H88.6V817m0 -1.7v3.5m0 -1.7H90.3V818.2m0 -1.7v3.5m0 -1.7H91.7V819.1H93V820m0 -1.7v3.5m0 -1.7H94.1V820.6m0 -1.7v3.5m0 -1.7H95V821.1m0 -1.7v3.5m0 -1.7H95.9V821.5m0 -1.7v3.5m0 -1.7H97.3V822.3m0 -1.7v3.5m0 -1.7H99V823.2H100.1V823.8H101.5V824.5m0 -1.7v3.5m0 -1.7H102.3V825H103.6V825.7H104.4V826.1H106.3V827.2H106.9V827.4H108.1V828H108.9V828.3m0 -1.7v3.5m0 -1.7H110.8V829.2H112.1V829.8H113.2V830.3m0 -1.7v3.5m0 -1.7H114.4V831.1m0 -1.7v3.5m0 -1.7H115.1V831.6H117.3V833H118.9V834m0 -1.7v3.5m0 -1.7H120.4V834.9H122V835.8H123.4V836.6m0 -1.7v3.5m0 -1.7H125V837.3H125.8V837.7H127.8V838.5m0 -1.7v3.5m0 -1.7H129.2V839.2H130.5V839.7m0 -1.7v3.5m0 -1.7H131.7V840H133.4V840.6H134.1V840.8H136.2V841.5m0 -1.7v3.5m0 -1.7H137.2V841.7m0 -1.7v3.5m0 -1.7H139.2V841.7H139.8V841.7m0 -1.7v3.5m0 -1.7H140.7V844.1H142.8V847m0 -1.7v3.5m0 -1.7H143.7V847.9H145.1V850.1H146.4V852m0 -1.7v3.5m0 -1.7H147.6V853.6H149.4V855.9m0 -1.7v3.5m0 -1.7H149.9V860.3m0 -1.7v3.5m0 -1.7" fill="none" stroke="#f7a03c" stroke-width="1.9"/>
<path d="M149.9 860.3L166 860.3L166 865.8L194 865.8" fill="none" stroke="#f7a03c" stroke-width="1.2"/>
<path d="M226 847v3.2M224.6 848.6h2.8" stroke="#1ca6d3" stroke-width="0.6"/>
<path d="M232 847v3.2M230.6 848.6h2.8" stroke="#1ca6d3" stroke-width="0.6"/>
<path d="M241 847v3.2M239.6 848.6h2.8" stroke="#1ca6d3" stroke-width="0.6"/>
<path d="M244 847v3.2M242.6 848.6h2.8" stroke="#1ca6d3" stroke-width="0.6"/>
<path d="M247 847v3.2M245.6 848.6h2.8" stroke="#1ca6d3" stroke-width="0.6"/>
<path d="M264 847v3.2M262.6 848.6h2.8" stroke="#1ca6d3" stroke-width="0.6"/>
<path d="M170 858.7v3.2M168.6 860.3h2.8" stroke="#f7a03c" stroke-width="0.6"/>
<path d="M190 864.2v3.2M188.6 865.8h2.8" stroke="#f7a03c" stroke-width="0.6"/>
<path d="M139.9 739.2h35.5" stroke="#f7a03c" stroke-width="2.6"/>
<path d="M139.9 752.8h35.5" stroke="#1ca6d3" stroke-width="3"/>
<text x="181.9" y="742.8" font-size="9.4" fill="#111"><tspan font-style="italic">IL12A<tspan font-size="5.5" dy="-3.5">+</tspan><tspan dy="3.5"> EBI3</tspan><tspan font-size="5.5" dy="-3.5">+</tspan><tspan dy="3.5"> IL12B</tspan><tspan font-size="5.5" dy="-3.5">-</tspan></tspan><tspan dy="3.5"> (« IL-35</tspan><tspan font-size="5.5" dy="-3.5">+</tspan><tspan dy="3.5"> »)</tspan></text>
<text x="181.9" y="756.4" font-size="9.4" fill="#111">Others (« IL-35<tspan font-size="5.5" dy="-3.5">-</tspan><tspan dy="3.5"> »)</tspan></text>
<text x="58" y="856.3" font-size="6.1" text-anchor="start" font-weight="normal" font-style="normal" fill="#1a1a1a">p &lt; 0.0001</text>
<text x="163.9" y="910.8" font-size="7.2" text-anchor="middle" font-weight="bold" font-style="normal" fill="#000">Number at risk</text>
<path d="M42.5 915.5V954.5H286.3" fill="none" stroke="#333" stroke-width="0.8"/>
<path d="M42.5 926h-1.5" stroke="#333" stroke-width="0.5"/>
<text x="37" y="928.2" font-size="6.3" font-weight="bold" text-anchor="end" fill="#1ca6d3">IL-35<tspan font-size="3.8" dy="-2.3">-</tspan></text>
<text x="52.9" y="928.2" font-size="6.2" text-anchor="middle" font-weight="normal" font-style="normal" fill="#111">8763</text>
<text x="108.5" y="928.2" font-size="6.2" text-anchor="middle" font-weight="normal" font-style="normal" fill="#111">738</text>
<text x="164.1" y="928.2" font-size="6.2" text-anchor="middle" font-weight="normal" font-style="normal" fill="#111">58</text>
<text x="219.7" y="928.2" font-size="6.2" text-anchor="middle" font-weight="normal" font-style="normal" fill="#111">6</text>
<text x="275.3" y="928.2" font-size="6.2" text-anchor="middle" font-weight="normal" font-style="normal" fill="#111">0</text>
<path d="M42.5 944.2h-1.5" stroke="#333" stroke-width="0.5"/>
<text x="37" y="946.4" font-size="6.3" font-weight="bold" text-anchor="end" fill="#f7a03c">IL-35<tspan font-size="3.8" dy="-2.3">+</tspan></text>
<text x="52.9" y="946.4" font-size="6.2" text-anchor="middle" font-weight="normal" font-style="normal" fill="#111">1044</text>
<text x="108.5" y="946.4" font-size="6.2" text-anchor="middle" font-weight="normal" font-style="normal" fill="#111">63</text>
<text x="164.1" y="946.4" font-size="6.2" text-anchor="middle" font-weight="normal" font-style="normal" fill="#111">4</text>
<text x="219.7" y="946.4" font-size="6.2" text-anchor="middle" font-weight="normal" font-style="normal" fill="#111">0</text>
<text x="275.3" y="946.4" font-size="6.2" text-anchor="middle" font-weight="normal" font-style="normal" fill="#111">0</text>
<path d="M52.9 954.5v1.5" stroke="#333" stroke-width="0.5"/>
<text x="52.9" y="959.6" font-size="3.4" text-anchor="middle" font-weight="normal" font-style="normal" fill="#4d4d4d">0</text>
<path d="M108.5 954.5v1.5" stroke="#333" stroke-width="0.5"/>
<text x="108.5" y="959.6" font-size="3.4" text-anchor="middle" font-weight="normal" font-style="normal" fill="#4d4d4d">2500</text>
<path d="M164.1 954.5v1.5" stroke="#333" stroke-width="0.5"/>
<text x="164.1" y="959.6" font-size="3.4" text-anchor="middle" font-weight="normal" font-style="normal" fill="#4d4d4d">5000</text>
<path d="M219.7 954.5v1.5" stroke="#333" stroke-width="0.5"/>
<text x="219.7" y="959.6" font-size="3.4" text-anchor="middle" font-weight="normal" font-style="normal" fill="#4d4d4d">7500</text>
<path d="M275.3 954.5v1.5" stroke="#333" stroke-width="0.5"/>
<text x="275.3" y="959.6" font-size="3.4" text-anchor="middle" font-weight="normal" font-style="normal" fill="#4d4d4d">10000</text>
<text x="164.4" y="966" font-size="5.0" text-anchor="middle" font-weight="bold" font-style="normal" fill="#000">Time (Days)</text>
<text x="347" y="729" font-size="11" font-weight="bold">i</text>
<path d="M402.8 739.5V888.2H638.5" fill="none" stroke="#333" stroke-width="0.8"/>
<path d="M402.8 745.4h-1.5" stroke="#333" stroke-width="0.5"/>
<text x="399.8" y="746.5" font-size="3.4" text-anchor="end" font-weight="normal" font-style="normal" fill="#4d4d4d">1.00</text>
<path d="M402.8 779.4h-1.5" stroke="#333" stroke-width="0.5"/>
<text x="399.8" y="780.5" font-size="3.4" text-anchor="end" font-weight="normal" font-style="normal" fill="#4d4d4d">0.75</text>
<path d="M402.8 813.3h-1.5" stroke="#333" stroke-width="0.5"/>
<text x="399.8" y="814.4" font-size="3.4" text-anchor="end" font-weight="normal" font-style="normal" fill="#4d4d4d">0.50</text>
<path d="M402.8 847.2h-1.5" stroke="#333" stroke-width="0.5"/>
<text x="399.8" y="848.4" font-size="3.4" text-anchor="end" font-weight="normal" font-style="normal" fill="#4d4d4d">0.25</text>
<path d="M402.8 881.2h-1.5" stroke="#333" stroke-width="0.5"/>
<text x="399.8" y="882.3" font-size="3.4" text-anchor="end" font-weight="normal" font-style="normal" fill="#4d4d4d">0.00</text>
<path d="M413.3 888.2v1.5" stroke="#333" stroke-width="0.5"/>
<text x="413.3" y="893.2" font-size="3.4" text-anchor="middle" font-weight="normal" font-style="normal" fill="#4d4d4d">0</text>
<path d="M467.1 888.2v1.5" stroke="#333" stroke-width="0.5"/>
<text x="467.1" y="893.2" font-size="3.4" text-anchor="middle" font-weight="normal" font-style="normal" fill="#4d4d4d">2000</text>
<path d="M520.9 888.2v1.5" stroke="#333" stroke-width="0.5"/>
<text x="520.9" y="893.2" font-size="3.4" text-anchor="middle" font-weight="normal" font-style="normal" fill="#4d4d4d">4000</text>
<path d="M574.3 888.2v1.5" stroke="#333" stroke-width="0.5"/>
<text x="574.3" y="893.2" font-size="3.4" text-anchor="middle" font-weight="normal" font-style="normal" fill="#4d4d4d">6000</text>
<path d="M627.7 888.2v1.5" stroke="#333" stroke-width="0.5"/>
<text x="627.7" y="893.2" font-size="3.4" text-anchor="middle" font-weight="normal" font-style="normal" fill="#4d4d4d">8000</text>
<text x="522.6" y="899" font-size="5.0" text-anchor="middle" font-weight="bold" font-style="normal" fill="#000">Days to relapse</text>
<text x="390.5" y="813.9" font-size="4.7" text-anchor="middle" font-weight="bold" font-style="normal" fill="#000" transform="rotate(-90 390.5 813.9)">Progression−free interval</text>
<path d="M413.3 745.4H413.9V746.2m0 -2.3v4.6m0 -2.3H414.6V747.1m0 -2.3v4.6m0 -2.3H415.1V747.6H415.6V748.2m0 -2.3v4.6m0 -2.3H415.9V748.6m0 -2.3v4.6m0 -2.3H416.1V748.9m0 -2.3v4.6m0 -2.3H416.4V749.2H416.8V749.7H417.2V750.4m0 -2.3v4.6m0 -2.3H417.6V751.3H417.9V752.2H418.6V753.7H419.3V755.5H419.7V756.4H420V757.3m0 -2.3v4.6m0 -2.3H420.5V758.4H421.2V760.3m0 -2.3v4.6m0 -2.3H421.8V761.8H422.1V762.5H422.7V763.9m0 -2.3v4.6m0 -2.3H423.4V765.5m0 -2.3v4.6m0 -2.3H423.7V766m0 -2.3v4.6m0 -2.3H424.4V767.7m0 -2.3v4.6m0 -2.3H425.1V769.3H425.4V769.9H425.9V770.9H426.5V772.3H427.2V774m0 -2.3v4.6m0 -2.3H427.9V775.5H428.6V776.7H429.3V778m0 -2.3v4.6m0 -2.3H429.8V778.9H430.5V780.2H431.3V781.4H431.7V782H432.2V782.6H432.6V783.2H432.9V783.6m0 -2.3v4.6m0 -2.3H433.5V784.5H434.1V785.4H434.4V785.8m0 -2.3v4.6m0 -2.3H434.8V786.1m0 -2.3v4.6m0 -2.3H435.4V786.7H435.8V787H436.1V787.3m0 -2.3v4.6m0 -2.3H436.7V787.8H437.1V788.2H437.3V788.4H437.9V788.8m0 -2.3v4.6m0 -2.3H438.3V789.2H438.8V789.6m0 -2.3v4.6m0 -2.3H439.4V790.1m0 -2.3v4.6m0 -2.3H440.2V790.6m0 -2.3v4.6m0 -2.3H440.5V790.8m0 -2.3v4.6m0 -2.3H441.3V791.3m0 -2.3v4.6m0 -2.3H441.8V791.7H442.6V792.2m0 -2.3v4.6m0 -2.3H443.1V792.5H443.7V792.9m0 -2.3v4.6m0 -2.3H444.1V793.2m0 -2.3v4.6m0 -2.3H444.3V793.3H444.6V793.5m0 -2.3v4.6m0 -2.3H445V793.7m0 -2.3v4.6m0 -2.3H445.2V793.9H445.6V794.2m0 -2.3v4.6m0 -2.3H446.3V794.6m0 -2.3v4.6m0 -2.3H446.6V794.8H447.3V795.3H447.6V795.4m0 -2.3v4.6m0 -2.3H447.8V795.6m0 -2.3v4.6m0 -2.3H448V795.7m0 -2.3v4.6m0 -2.3H448.6V796.1m0 -2.3v4.6m0 -2.3H448.9V796.3H449.3V796.5m0 -2.3v4.6m0 -2.3H449.5V796.7H450.1V797.1H450.7V797.4m0 -2.3v4.6m0 -2.3H451V797.6H451.8V798H452.4V798.3H452.6V798.4H452.8V798.6m0 -2.3v4.6m0 -2.3H453.4V798.9H454.1V799.2H454.4V799.4m0 -2.3v4.6m0 -2.3H455.1V799.8H455.4V800H455.8V800.2m0 -2.3v4.6m0 -2.3H456.3V800.5m0 -2.3v4.6m0 -2.3H456.8V800.7m0 -2.3v4.6m0 -2.3H457.4V801H458.1V801.3H458.5V801.4m0 -2.3v4.6m0 -2.3H459.2V801.7H459.5V801.9m0 -2.3v4.6m0 -2.3H460.3V802.2H460.5V802.3H461V802.5H461.7V802.8H462V802.9m0 -2.3v4.6m0 -2.3H462.4V803.1H463V803.3H463.5V803.5m0 -2.3v4.6m0 -2.3H464.2V803.8m0 -2.3v4.6m0 -2.3H464.8V804m0 -2.3v4.6m0 -2.3H465.3V804.2H465.8V804.4m0 -2.3v4.6m0 -2.3H466.2V804.6H466.5V804.7m0 -2.3v4.6m0 -2.3H466.7V804.8H467.1V804.9H467.5V805.1H467.8V805.2H468.6V805.5H469V805.7H469.4V805.8H469.8V805.9H470.2V806.1H470.9V806.3m0 -2.3v4.6m0 -2.3H471.6V806.6H472V806.7H472.2V806.8m0 -2.3v4.6m0 -2.3H472.8V807m0 -2.3v4.6m0 -2.3H473.4V807.2H474.1V807.5H474.8V807.7m0 -2.3v4.6m0 -2.3H475.6V808m0 -2.3v4.6m0 -2.3H476.2V808.2H476.8V808.4H477.1V808.5H477.5V808.6m0 -2.3v4.6m0 -2.3H477.8V808.7H478.5V808.9m0 -2.3v4.6m0 -2.3H478.7V809m0 -2.3v4.6m0 -2.3H479V809.1m0 -2.3v4.6m0 -2.3H479.5V809.3H480V809.4m0 -2.3v4.6m0 -2.3H480.6V809.6m0 -2.3v4.6m0 -2.3H481V809.7H481.7V810m0 -2.3v4.6m0 -2.3H482.3V810.1m0 -2.3v4.6m0 -2.3H483.1V810.3H483.5V810.4H484.1V810.6m0 -2.3v4.6m0 -2.3H484.4V810.7H484.6V810.7m0 -2.3v4.6m0 -2.3H485.4V810.9m0 -2.3v4.6m0 -2.3H485.7V811m0 -2.3v4.6m0 -2.3H486V811.1H486.5V811.2m0 -2.3v4.6m0 -2.3H486.8V811.3H487.4V811.5H487.7V811.6H488.3V811.7H489V811.9H489.5V812m0 -2.3v4.6m0 -2.3H490V812.1H490.6V812.3m0 -2.3v4.6m0 -2.3H491.4V812.5H491.8V812.6H492.5V812.7m0 -2.3v4.6m0 -2.3H493V812.9H493.5V813H494V813.1H494.4V813.3H494.8V813.4H495.2V813.5H495.9V813.8m0 -2.3v4.6m0 -2.3H496.7V814.1H497V814.2H497.2V814.2H497.5V814.3H497.9V814.5H498.6V814.7H499V814.8H499.2V814.9H499.9V815.2m0 -2.3v4.6m0 -2.3H500.6V815.3H501V815.4H501.4V815.5H501.6V815.5m0 -2.3v4.6m0 -2.3H502.3V815.6H502.5V815.7H502.9V815.8H503.5V815.9H503.8V815.9H504.6V816.1H505.2V816.2m0 -2.3v4.6m0 -2.3H505.9V816.3H506.6V816.5H507.3V816.6m0 -2.3v4.6m0 -2.3H507.9V816.7m0 -2.3v4.6m0 -2.3H508.3V816.8m0 -2.3v4.6m0 -2.3H508.8V816.9H509.5V817m0 -2.3v4.6m0 -2.3H509.9V817.1H510.5V817.2H511V817.3H511.6V817.4m0 -2.3v4.6m0 -2.3H511.9V817.4H512.6V817.6H512.8V817.6H513.2V817.7H513.8V817.8H514.2V817.8H514.7V817.9H515.3V818H516V818.1H516.7V818.2m0 -2.3v4.6m0 -2.3H517V818.2H517.4V818.2H517.9V818.3H518.2V818.3H518.5V818.3H519.2V818.4m0 -2.3v4.6m0 -2.3H519.4V818.4H519.9V818.5m0 -2.3v4.6m0 -2.3H520.4V818.5m0 -2.3v4.6m0 -2.3H520.8V818.5H521.6V818.6H521.9V818.6H522.4V818.7H522.6V818.7H523.3V818.8H523.7V818.8H524.1V818.8H524.3V818.9m0 -2.3v4.6m0 -2.3H524.6V818.9H525V818.9H525.7V819H526V819m0 -2.3v4.6m0 -2.3H526.5V819.1H527.1V819.1m0 -2.3v4.6m0 -2.3H527.7V819.2H528.4V819.4H529.1V819.5H529.6V819.6m0 -2.3v4.6m0 -2.3H530.2V819.7m0 -2.3v4.6m0 -2.3H530.6V819.8H531.1V819.9H531.9V820.1m0 -2.3v4.6m0 -2.3H532.6V820.2H533V820.3m0 -2.3v4.6m0 -2.3H533.3V820.4H533.6V820.4m0 -2.3v4.6m0 -2.3H534.3V820.6H534.9V820.7H535.2V820.7m0 -2.3v4.6m0 -2.3H535.7V820.8m0 -2.3v4.6m0 -2.3H536.1V820.9H536.7V821H537V821.1m0 -2.3v4.6m0 -2.3H537.7V821.2m0 -2.3v4.6m0 -2.3H538.2V821.3m0 -2.3v4.6m0 -2.3H538.9V821.5m0 -2.3v4.6m0 -2.3H539.4V821.6H540V821.7H540.6V821.8m0 -2.3v4.6m0 -2.3H540.8V821.9H541.6V822.1m0 -2.3v4.6m0 -2.3H542.2V822.3m0 -2.3v4.6m0 -2.3H542.7V822.5H543.3V822.6H543.9V822.8H544.5V823H544.9V823.1H545.4V823.3m0 -2.3v4.6m0 -2.3H545.7V823.4m0 -2.3v4.6m0 -2.3H546.2V823.5m0 -2.3v4.6m0 -2.3H546.9V823.7H547.3V823.9H548V824.1H548.5V824.3H549.1V824.4H549.4V824.5H550V824.7H550.5V824.9H550.9V825H551.3V825.1H551.3V825.1m0 -2.3v4.6m0 -2.3" fill="none" stroke="#1ca6d3" stroke-width="2.8"/>
<path d="M540.5 821.8H541.3V822.1H543.6V822.8H544.9V823.2H545.8V823.4H547.7V824H549.2V824.5m0 -1.6v3.1m0 -1.6H551.3V825.1H553.5V825.1H554.4V825.1H556.3V825.1H558.7V825.1m0 -1.6v3.1m0 -1.6H560.9V825.1m0 -1.6v3.1m0 -1.6H563V825.1H564.3V825.1H566.1V825.1H568V825.1H569.5V825.1H570.8V825.1H572.5V825.1H573.2V825.1H574.3V825.1H575.2V825.1H577.6V825.1H578.6V825.1H579.5V825.1H580.5V825.1H582.2V825.1m0 -1.6v3.1m0 -1.6H583.5V825.1m0 -1.6v3.1m0 -1.6H585.6V829.4H587V829.4H588V829.4H589.5V829.4m0 -1.6v3.1m0 -1.6H591.8V829.4H592.8V829.4m0 -1.6v3.1m0 -1.6H595.1V829.4H597V829.4H597.2V833.4" fill="none" stroke="#1ca6d3" stroke-width="1.6"/>
<path d="M585.1 829.4L597.2 829.4L597.2 833.4L638.5 833.4" fill="none" stroke="#1ca6d3" stroke-width="1.0"/>
<path d="M413.3 745.4H414.9V748.9m0 -1.8v3.6m0 -1.8H416.1V752.3H418.2V760.6m0 -1.8v3.6m0 -1.8H419.4V769.2m0 -1.8v3.6m0 -1.8H421.2V775.9H423V782.5m0 -1.8v3.6m0 -1.8H424.7V787.8H426V791.2m0 -1.8v3.6m0 -1.8H427.3V794.4H428.2V796.5m0 -1.8v3.6m0 -1.8H429.5V799.6m0 -1.8v3.6m0 -1.8H431.4V803.1H433.5V806H435.1V808.2m0 -1.8v3.6m0 -1.8H437.1V810.4H438.9V812.6H440.8V814.6m0 -1.8v3.6m0 -1.8H442.5V816.4H443.6V817.6m0 -1.8v3.6m0 -1.8H444.5V818.4H445.6V819.6H447.6V821.5H449.3V823.2H450.2V824.2H451V824.9H453.1V827.1m0 -1.8v3.6m0 -1.8H454.9V828.9H456.3V830.2H457.6V831.5H459.1V832.9m0 -1.8v3.6m0 -1.8H460.1V833.6m0 -1.8v3.6m0 -1.8H462.3V835.1m0 -1.8v3.6m0 -1.8H463.3V835.5H464.1V835.6H466.1V835.9H467.4V836m0 -1.8v3.6m0 -1.8H468.1V836.1m0 -1.8v3.6m0 -1.8H469.3V836.2H471.4V836.4H473.6V836.6H474.4V836.6H475.2V836.7m0 -1.8v3.6m0 -1.8H477.4V836.9m0 -1.8v3.6m0 -1.8H478.3V836.9m0 -1.8v3.6m0 -1.8H479.9V837.1H480.5V837.1H481.5V837.2H482.9V837.4H484.2V837.6H486.4V838H487.1V838.1H488.1V838.3m0 -1.8v3.6m0 -1.8H489V838.4m0 -1.8v3.6m0 -1.8H491.2V838.8H493.1V839.1H494.2V839.4H495.5V840.3m0 -1.8v3.6m0 -1.8H496.8V841.2H497.5V841.7m0 -1.8v3.6m0 -1.8H498.9V842.6H500.5V843.6H501.3V843.9m0 -1.8v3.6m0 -1.8H502.4V844.2m0 -1.8v3.6m0 -1.8H504.2V845.4H505.9V849.2m0 -1.8v3.6m0 -1.8H507V850.1H509V851.8H510.2V852.5H510.8V852.9" fill="none" stroke="#f7a03c" stroke-width="2.0"/>
<path d="M510.8 852.9L529.7 852.9L529.7 867.2L555.4 867.2" fill="none" stroke="#f7a03c" stroke-width="1.2"/>
<path d="M572 823.5v3.2M570.6 825.1h2.8" stroke="#1ca6d3" stroke-width="0.6"/>
<path d="M578 823.5v3.2M576.6 825.1h2.8" stroke="#1ca6d3" stroke-width="0.6"/>
<path d="M583 823.5v3.2M581.6 825.1h2.8" stroke="#1ca6d3" stroke-width="0.6"/>
<path d="M590 827.8v3.2M588.6 829.4h2.8" stroke="#1ca6d3" stroke-width="0.6"/>
<path d="M600 831.8v3.2M598.6 833.4h2.8" stroke="#1ca6d3" stroke-width="0.6"/>
<path d="M613 831.8v3.2M611.6 833.4h2.8" stroke="#1ca6d3" stroke-width="0.6"/>
<path d="M620 831.8v3.2M618.6 833.4h2.8" stroke="#1ca6d3" stroke-width="0.6"/>
<path d="M627 831.8v3.2M625.6 833.4h2.8" stroke="#1ca6d3" stroke-width="0.6"/>
<path d="M638 831.8v3.2M636.6 833.4h2.8" stroke="#1ca6d3" stroke-width="0.6"/>
<path d="M525 851.3v3.2M523.6 852.9h2.8" stroke="#f7a03c" stroke-width="0.6"/>
<path d="M554 865.6v3.2M552.6 867.2h2.8" stroke="#f7a03c" stroke-width="0.6"/>
<path d="M483.5 739.2h35.5" stroke="#f7a03c" stroke-width="2.6"/>
<path d="M483.5 752.8h35.5" stroke="#1ca6d3" stroke-width="3"/>
<text x="525.5" y="742.8" font-size="9.4" fill="#111"><tspan font-style="italic">IL12A<tspan font-size="5.5" dy="-3.5">+</tspan><tspan dy="3.5"> EBI3</tspan><tspan font-size="5.5" dy="-3.5">+</tspan><tspan dy="3.5"> IL12B</tspan><tspan font-size="5.5" dy="-3.5">-</tspan></tspan><tspan dy="3.5"> (« IL-35</tspan><tspan font-size="5.5" dy="-3.5">+</tspan><tspan dy="3.5"> »)</tspan></text>
<text x="525.5" y="756.4" font-size="9.4" fill="#111">Others (« IL-35<tspan font-size="5.5" dy="-3.5">-</tspan><tspan dy="3.5"> »)</tspan></text>
<text x="417.7" y="856.3" font-size="6.1" text-anchor="start" font-weight="normal" font-style="normal" fill="#1a1a1a">p &lt; 0.0001</text>
<text x="522.6" y="910.8" font-size="7.2" text-anchor="middle" font-weight="bold" font-style="normal" fill="#000">Number at risk</text>
<path d="M400 915.5V954.5H643.7" fill="none" stroke="#333" stroke-width="0.8"/>
<path d="M400 926h-1.5" stroke="#333" stroke-width="0.5"/>
<text x="394.5" y="928.2" font-size="6.3" font-weight="bold" text-anchor="end" fill="#1ca6d3">IL-35<tspan font-size="3.8" dy="-2.3">-</tspan></text>
<text x="411.9" y="928.2" font-size="6.2" text-anchor="middle" font-weight="normal" font-style="normal" fill="#111">8761</text>
<text x="466.7" y="928.2" font-size="6.2" text-anchor="middle" font-weight="normal" font-style="normal" fill="#111">952</text>
<text x="521.9" y="928.2" font-size="6.2" text-anchor="middle" font-weight="normal" font-style="normal" fill="#111">114</text>
<text x="577.5" y="928.2" font-size="6.2" text-anchor="middle" font-weight="normal" font-style="normal" fill="#111">21</text>
<text x="633.5" y="928.2" font-size="6.2" text-anchor="middle" font-weight="normal" font-style="normal" fill="#111">3</text>
<path d="M400 944.2h-1.5" stroke="#333" stroke-width="0.5"/>
<text x="394.5" y="946.4" font-size="6.3" font-weight="bold" text-anchor="end" fill="#f7a03c">IL-35<tspan font-size="3.8" dy="-2.3">+</tspan></text>
<text x="411.9" y="946.4" font-size="6.2" text-anchor="middle" font-weight="normal" font-style="normal" fill="#111">1044</text>
<text x="466.7" y="946.4" font-size="6.2" text-anchor="middle" font-weight="normal" font-style="normal" fill="#111">54</text>
<text x="521.9" y="946.4" font-size="6.2" text-anchor="middle" font-weight="normal" font-style="normal" fill="#111">4</text>
<text x="577.5" y="946.4" font-size="6.2" text-anchor="middle" font-weight="normal" font-style="normal" fill="#111">0</text>
<text x="633.5" y="946.4" font-size="6.2" text-anchor="middle" font-weight="normal" font-style="normal" fill="#111">0</text>
<path d="M411.9 954.5v1.5" stroke="#333" stroke-width="0.5"/>
<text x="411.9" y="959.6" font-size="3.4" text-anchor="middle" font-weight="normal" font-style="normal" fill="#4d4d4d">0</text>
<path d="M466.7 954.5v1.5" stroke="#333" stroke-width="0.5"/>
<text x="466.7" y="959.6" font-size="3.4" text-anchor="middle" font-weight="normal" font-style="normal" fill="#4d4d4d">2000</text>
<path d="M521.9 954.5v1.5" stroke="#333" stroke-width="0.5"/>
<text x="521.9" y="959.6" font-size="3.4" text-anchor="middle" font-weight="normal" font-style="normal" fill="#4d4d4d">4000</text>
<path d="M577.5 954.5v1.5" stroke="#333" stroke-width="0.5"/>
<text x="577.5" y="959.6" font-size="3.4" text-anchor="middle" font-weight="normal" font-style="normal" fill="#4d4d4d">6000</text>
<path d="M633.5 954.5v1.5" stroke="#333" stroke-width="0.5"/>
<text x="633.5" y="959.6" font-size="3.4" text-anchor="middle" font-weight="normal" font-style="normal" fill="#4d4d4d">8000</text>
<text x="521.9" y="966" font-size="5.0" text-anchor="middle" font-weight="bold" font-style="normal" fill="#000">Days to relapse</text>
</svg></body></html>
